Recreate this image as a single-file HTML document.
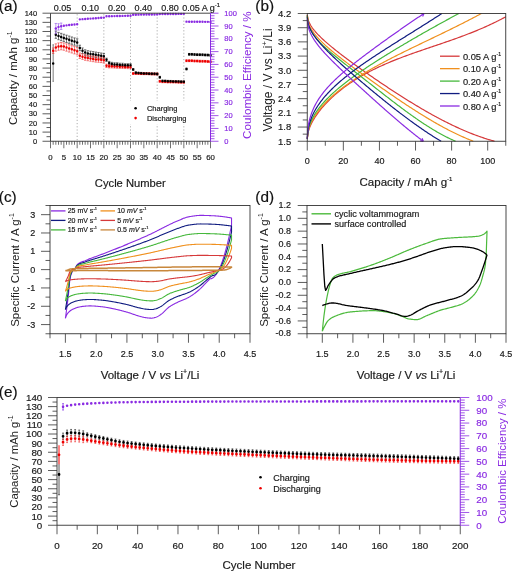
<!DOCTYPE html><html><head><meta charset="utf-8"><style>html,body{margin:0;padding:0;background:#fff;overflow:hidden;}svg{display:block;font-family:"Liberation Sans", sans-serif;will-change:transform;}</style></head><body><svg width="512" height="571" viewBox="0 0 512 571"><text x="-1.2" y="11.2" font-size="15.3" text-anchor="start" fill="#111" stroke="#111" stroke-width="0.18" >(a)</text><text x="255.3" y="11.2" font-size="15.3" text-anchor="start" fill="#111" stroke="#111" stroke-width="0.18" >(b)</text><text x="-1.2" y="202" font-size="15.3" text-anchor="start" fill="#111" stroke="#111" stroke-width="0.18" >(c)</text><text x="255.3" y="201.6" font-size="15.3" text-anchor="start" fill="#111" stroke="#111" stroke-width="0.18" >(d)</text><text x="-1.2" y="396.5" font-size="15.3" text-anchor="start" fill="#111" stroke="#111" stroke-width="0.18" >(e)</text><path d="M77.17 14.2V141.25M103.83 14.2V141.25M130.5 14.2V141.25M157.17 14.2V141.25M183.83 14.2V141.25" stroke="#999" stroke-width="0.8" stroke-dasharray="1.2,2"/><rect x="127" y="101" width="64" height="23" fill="#fff"/><path d="M135.6 108.3h0" stroke="#000" stroke-width="2.6" stroke-linecap="round"/><path d="M135.6 118.1h0" stroke="#e00" stroke-width="2.6" stroke-linecap="round"/><text x="146.9" y="111" font-size="7.5" text-anchor="start" fill="#1a1a1a" stroke="#1a1a1a" stroke-width="0.18" >Charging</text><text x="146.9" y="120.8" font-size="7.5" text-anchor="start" fill="#1a1a1a" stroke="#1a1a1a" stroke-width="0.18" >Discharging</text><path d="M53.17 44.76V81.34M52.57 44.76H53.77M52.57 81.34H53.77" stroke="#444" stroke-width="0.7" /><path d="M55.83 31.04V38.35M54.63 31.04H57.03M54.63 38.35H57.03M58.5 32.41V39.72M57.3 32.41H59.7M57.3 39.72H59.7M61.17 33.32V40.64M59.97 33.32H62.37M59.97 40.64H62.37M63.83 34.24V41.55M62.63 34.24H65.03M62.63 41.55H65.03M66.5 35.15V42.47M65.3 35.15H67.7M65.3 42.47H67.7M69.17 36.07V43.38M67.97 36.07H70.37M67.97 43.38H70.37M71.83 36.98V44.3M70.63 36.98H73.03M70.63 44.3H73.03M74.5 37.9V45.21M73.3 37.9H75.7M73.3 45.21H75.7M77.17 38.81V46.13M75.97 38.81H78.37M75.97 46.13H78.37M79.83 45.21V50.7M78.63 45.21H81.03M78.63 50.7H81.03M82.5 47.96V53.44M81.3 47.96H83.7M81.3 53.44H83.7M85.17 49.79V55.27M83.97 49.79H86.37M83.97 55.27H86.37M87.83 50.7V56.19M86.63 50.7H89.03M86.63 56.19H89.03M90.5 51.16V56.65M89.3 51.16H91.7M89.3 56.65H91.7M93.17 51.61V57.1M91.97 51.61H94.37M91.97 57.1H94.37M95.83 52.07V57.56M94.63 52.07H97.03M94.63 57.56H97.03M98.5 52.53V58.02M97.3 52.53H99.7M97.3 58.02H99.7M101.17 52.99V58.47M99.97 52.99H102.37M99.97 58.47H102.37M103.83 53.44V58.93M102.63 53.44H105.03M102.63 58.93H105.03M106.5 58.2V61.49M105.3 58.2H107.7M105.3 61.49H107.7M109.17 61.4V64.69M107.97 61.4H110.37M107.97 64.69H110.37M111.83 62.32V65.61M110.63 62.32H113.03M110.63 65.61H113.03M114.5 62.77V66.07M113.3 62.77H115.7M113.3 66.07H115.7M117.17 62.77V66.07M115.97 62.77H118.37M115.97 66.07H118.37M119.83 63.23V66.52M118.63 63.23H121.03M118.63 66.52H121.03M122.5 63.23V66.52M121.3 63.23H123.7M121.3 66.52H123.7M125.17 63.69V66.98M123.97 63.69H126.37M123.97 66.98H126.37M127.83 63.69V66.98M126.63 63.69H129.03M126.63 66.98H129.03M130.5 63.69V66.98M129.3 63.69H131.7M129.3 66.98H131.7M133.17 68.54V70.37M131.97 68.54H134.37M131.97 70.37H134.37M135.83 71.74V73.57M134.63 71.74H137.03M134.63 73.57H137.03M138.5 72.19V74.02M137.3 72.19H139.7M137.3 74.02H139.7M141.17 72.38V74.21M139.97 72.38H142.37M139.97 74.21H142.37M143.83 72.56V74.39M142.63 72.56H145.03M142.63 74.39H145.03M146.5 72.65V74.48M145.3 72.65H147.7M145.3 74.48H147.7M149.17 72.74V74.57M147.97 72.74H150.37M147.97 74.57H150.37M151.83 72.83V74.66M150.63 72.83H153.03M150.63 74.66H153.03M154.5 72.93V74.76M153.3 72.93H155.7M153.3 74.76H155.7M157.17 73.02V74.85M155.97 73.02H158.37M155.97 74.85H158.37M159.83 76.31V78.14M158.63 76.31H161.03M158.63 78.14H161.03M162.5 79.97V81.8M161.3 79.97H163.7M161.3 81.8H163.7M165.17 80.15V81.98M163.97 80.15H166.37M163.97 81.98H166.37M167.83 80.33V82.16M166.63 80.33H169.03M166.63 82.16H169.03M170.5 80.43V82.26M169.3 80.43H171.7M169.3 82.26H171.7M173.17 80.52V82.35M171.97 80.52H174.37M171.97 82.35H174.37M175.83 80.61V82.44M174.63 80.61H177.03M174.63 82.44H177.03M178.5 80.7V82.53M177.3 80.7H179.7M177.3 82.53H179.7M181.17 80.79V82.62M179.97 80.79H182.37M179.97 82.62H182.37M183.83 80.88V82.71M182.63 80.88H185.03M182.63 82.71H185.03M186.5 68.08V69.91M185.3 68.08H187.7M185.3 69.91H187.7M189.17 53.44V55.27M187.97 53.44H190.37M187.97 55.27H190.37M191.83 53.44V55.27M190.63 53.44H193.03M190.63 55.27H193.03M194.5 53.63V55.46M193.3 53.63H195.7M193.3 55.46H195.7M197.17 53.72V55.55M195.97 53.72H198.37M195.97 55.55H198.37M199.83 53.81V55.64M198.63 53.81H201.03M198.63 55.64H201.03M202.5 53.9V55.73M201.3 53.9H203.7M201.3 55.73H203.7M205.17 53.99V55.82M203.97 53.99H206.37M203.97 55.82H206.37M207.83 54.18V56.01M206.63 54.18H209.03M206.63 56.01H209.03M210.5 54.36V56.19M209.3 54.36H211.7M209.3 56.19H211.7" stroke="#222" stroke-width="0.6" /><path d="M53.17 47.96V53.44M51.97 47.96H54.37M51.97 53.44H54.37M55.83 43.84V51.16M54.63 43.84H57.03M54.63 51.16H57.03M58.5 42.93V50.24M57.3 42.93H59.7M57.3 50.24H59.7M61.17 42.47V49.79M59.97 42.47H62.37M59.97 49.79H62.37M63.83 42.93V50.24M62.63 42.93H65.03M62.63 50.24H65.03M66.5 43.84V51.16M65.3 43.84H67.7M65.3 51.16H67.7M69.17 44.76V52.07M67.97 44.76H70.37M67.97 52.07H70.37M71.83 45.67V52.99M70.63 45.67H73.03M70.63 52.99H73.03M74.5 46.58V53.9M73.3 46.58H75.7M73.3 53.9H75.7M77.17 47.5V54.82M75.97 47.5H78.37M75.97 54.82H78.37M79.83 52.99V58.47M78.63 52.99H81.03M78.63 58.47H81.03M82.5 53.9V59.39M81.3 53.9H83.7M81.3 59.39H83.7M85.17 54.82V60.3M83.97 54.82H86.37M83.97 60.3H86.37M87.83 55.27V60.76M86.63 55.27H89.03M86.63 60.76H89.03M90.5 55.73V61.22M89.3 55.73H91.7M89.3 61.22H91.7M93.17 56.19V61.68M91.97 56.19H94.37M91.97 61.68H94.37M95.83 56.65V62.13M94.63 56.65H97.03M94.63 62.13H97.03M98.5 56.83V62.32M97.3 56.83H99.7M97.3 62.32H99.7M101.17 57.1V62.59M99.97 57.1H102.37M99.97 62.59H102.37M103.83 57.56V63.05M102.63 57.56H105.03M102.63 63.05H105.03M106.5 64.15V67.44M105.3 64.15H107.7M105.3 67.44H107.7M109.17 64.6V67.9M107.97 64.6H110.37M107.97 67.9H110.37M111.83 64.6V67.9M110.63 64.6H113.03M110.63 67.9H113.03M114.5 64.79V68.08M113.3 64.79H115.7M113.3 68.08H115.7M117.17 64.97V68.26M115.97 64.97H118.37M115.97 68.26H118.37M119.83 65.06V68.35M118.63 65.06H121.03M118.63 68.35H121.03M122.5 65.15V68.44M121.3 65.15H123.7M121.3 68.44H123.7M125.17 65.24V68.54M123.97 65.24H126.37M123.97 68.54H126.37M127.83 65.33V68.63M126.63 65.33H129.03M126.63 68.63H129.03M130.5 65.52V68.81M129.3 65.52H131.7M129.3 68.81H131.7M133.17 72.65V74.48M131.97 72.65H134.37M131.97 74.48H134.37M135.83 72.65V74.48M134.63 72.65H137.03M134.63 74.48H137.03M138.5 72.65V74.48M137.3 72.65H139.7M137.3 74.48H139.7M141.17 72.74V74.57M139.97 72.74H142.37M139.97 74.57H142.37M143.83 72.83V74.66M142.63 72.83H145.03M142.63 74.66H145.03M146.5 72.83V74.66M145.3 72.83H147.7M145.3 74.66H147.7M149.17 72.93V74.76M147.97 72.93H150.37M147.97 74.76H150.37M151.83 73.02V74.85M150.63 73.02H153.03M150.63 74.85H153.03M154.5 73.11V74.94M153.3 73.11H155.7M153.3 74.94H155.7M157.17 73.11V74.94M155.97 73.11H158.37M155.97 74.94H158.37M159.83 80.43V82.26M158.63 80.43H161.03M158.63 82.26H161.03M162.5 80.88V82.71M161.3 80.88H163.7M161.3 82.71H163.7M165.17 80.88V82.71M163.97 80.88H166.37M163.97 82.71H166.37M167.83 80.98V82.8M166.63 80.98H169.03M166.63 82.8H169.03M170.5 81.07V82.9M169.3 81.07H171.7M169.3 82.9H171.7M173.17 81.07V82.9M171.97 81.07H174.37M171.97 82.9H174.37M175.83 81.16V82.99M174.63 81.16H177.03M174.63 82.99H177.03M178.5 81.25V83.08M177.3 81.25H179.7M177.3 83.08H179.7M181.17 81.34V83.17M179.97 81.34H182.37M179.97 83.17H182.37M183.83 81.34V83.17M182.63 81.34H185.03M182.63 83.17H185.03M186.5 59.85V61.68M185.3 59.85H187.7M185.3 61.68H187.7M189.17 59.85V61.68M187.97 59.85H190.37M187.97 61.68H190.37M191.83 59.85V61.68M190.63 59.85H193.03M190.63 61.68H193.03M194.5 60.03V61.86M193.3 60.03H195.7M193.3 61.86H195.7M197.17 60.12V61.95M195.97 60.12H198.37M195.97 61.95H198.37M199.83 60.21V62.04M198.63 60.21H201.03M198.63 62.04H201.03M202.5 60.3V62.13M201.3 60.3H203.7M201.3 62.13H203.7M205.17 60.4V62.22M203.97 60.4H206.37M203.97 62.22H206.37M207.83 60.58V62.41M206.63 60.58H209.03M206.63 62.41H209.03M210.5 60.76V62.59M209.3 60.76H211.7M209.3 62.59H211.7" stroke="#e33" stroke-width="0.6" /><path d="M53.17 50.7h0M55.83 47.5h0M58.5 46.58h0M61.17 46.13h0M63.83 46.58h0M66.5 47.5h0M69.17 48.41h0M71.83 49.33h0M74.5 50.24h0M77.17 51.16h0M79.83 55.73h0M82.5 56.65h0M85.17 57.56h0M87.83 58.02h0M90.5 58.47h0M93.17 58.93h0M95.83 59.39h0M98.5 59.57h0M101.17 59.85h0M103.83 60.3h0M106.5 65.79h0M109.17 66.25h0M111.83 66.25h0M114.5 66.43h0M117.17 66.62h0M119.83 66.71h0M122.5 66.8h0M125.17 66.89h0M127.83 66.98h0M130.5 67.16h0M133.17 73.57h0M135.83 73.57h0M138.5 73.57h0M141.17 73.66h0M143.83 73.75h0M146.5 73.75h0M149.17 73.84h0M151.83 73.93h0M154.5 74.02h0M157.17 74.02h0M159.83 81.34h0M162.5 81.8h0M165.17 81.8h0M167.83 81.89h0M170.5 81.98h0M173.17 81.98h0M175.83 82.07h0M178.5 82.16h0M181.17 82.26h0M183.83 82.26h0M186.5 60.76h0M189.17 60.76h0M191.83 60.76h0M194.5 60.94h0M197.17 61.04h0M199.83 61.13h0M202.5 61.22h0M205.17 61.31h0M207.83 61.49h0M210.5 61.68h0" stroke="#e00" stroke-width="2.5" stroke-linecap="round"/><path d="M53.17 63.51h0M55.83 34.69h0M58.5 36.07h0M61.17 36.98h0M63.83 37.9h0M66.5 38.81h0M69.17 39.72h0M71.83 40.64h0M74.5 41.55h0M77.17 42.47h0M79.83 47.96h0M82.5 50.7h0M85.17 52.53h0M87.83 53.44h0M90.5 53.9h0M93.17 54.36h0M95.83 54.82h0M98.5 55.27h0M101.17 55.73h0M103.83 56.19h0M106.5 59.85h0M109.17 63.05h0M111.83 63.96h0M114.5 64.42h0M117.17 64.42h0M119.83 64.88h0M122.5 64.88h0M125.17 65.33h0M127.83 65.33h0M130.5 65.33h0M133.17 69.45h0M135.83 72.65h0M138.5 73.11h0M141.17 73.29h0M143.83 73.47h0M146.5 73.57h0M149.17 73.66h0M151.83 73.75h0M154.5 73.84h0M157.17 73.93h0M159.83 77.22h0M162.5 80.88h0M165.17 81.07h0M167.83 81.25h0M170.5 81.34h0M173.17 81.43h0M175.83 81.52h0M178.5 81.62h0M181.17 81.71h0M183.83 81.8h0M186.5 68.99h0M189.17 54.36h0M191.83 54.36h0M194.5 54.54h0M197.17 54.63h0M199.83 54.72h0M202.5 54.82h0M205.17 54.91h0M207.83 55.09h0M210.5 55.27h0" stroke="#000" stroke-width="2.5" stroke-linecap="round"/><path d="M55.83 23.44V33.69M54.63 23.44H57.03M54.63 33.69H57.03" stroke="#9050e8" stroke-width="0.6" /><path d="M55.83 28.57h0" stroke="#8a2be2" stroke-width="2.4" stroke-linecap="round"/><path d="M58.5 23.7V30.1M57.3 23.7H59.7M57.3 30.1H59.7" stroke="#9050e8" stroke-width="0.6" /><path d="M58.5 26.9h0" stroke="#8a2be2" stroke-width="2.4" stroke-linecap="round"/><path d="M61.17 23.06V29.46M59.97 23.06H62.37M59.97 29.46H62.37" stroke="#9050e8" stroke-width="0.6" /><path d="M61.17 26.26h0M63.83 25.75h0M66.5 25.36h0M69.17 24.98h0M71.83 24.72h0M74.5 24.47h0M77.17 24.21h0M79.83 19.35h0M82.5 19.15h0M85.17 18.96h0M87.83 18.77h0M90.5 18.58h0M93.17 18.39h0M95.83 18.19h0M98.5 18h0M101.17 17.81h0M103.83 17.62h0M106.5 16.27h0M109.17 16.21h0M111.83 16.15h0M114.5 16.08h0M117.17 16.02h0M119.83 15.95h0M122.5 15.89h0M125.17 15.83h0M127.83 15.76h0M130.5 15.7h0M133.17 14.74h0M135.83 14.7h0M138.5 14.66h0M141.17 14.62h0M143.83 14.58h0M146.5 14.54h0M149.17 14.51h0M151.83 14.47h0M154.5 14.43h0M157.17 14.39h0M159.83 14.1h0M162.5 14.07h0M165.17 14.05h0M167.83 14.02h0M170.5 13.99h0M173.17 13.97h0M175.83 13.94h0M178.5 13.92h0M181.17 13.89h0M183.83 13.87h0M186.5 21.65h0M189.17 21.68h0M191.83 21.7h0M194.5 21.73h0M197.17 21.75h0M199.83 21.78h0M202.5 21.8h0M205.17 21.83h0M207.83 21.86h0M210.5 21.88h0" stroke="#8a2be2" stroke-width="2.4" stroke-linecap="round"/><path d="M50.5 13.2H210.5M50.5 13.2V141.25M50.5 141.25H210.5" stroke="#333" stroke-width="0.9" /><path d="M210.5 13.2V141.25" stroke="#8a2be2" stroke-width="1.0" /><path d="M42.5 141.25H50.5" stroke="#333" stroke-width="0.8" /><text x="37.2" y="143.85" font-size="7.5" text-anchor="end" fill="#1a1a1a" stroke="#1a1a1a" stroke-width="0.18" >0</text><path d="M46.5 136.68H50.5M42.5 132.1H50.5" stroke="#333" stroke-width="0.8" /><text x="37.2" y="134.7" font-size="7.5" text-anchor="end" fill="#1a1a1a" stroke="#1a1a1a" stroke-width="0.18" >10</text><path d="M46.5 127.53H50.5M42.5 122.96H50.5" stroke="#333" stroke-width="0.8" /><text x="37.2" y="125.56" font-size="7.5" text-anchor="end" fill="#1a1a1a" stroke="#1a1a1a" stroke-width="0.18" >20</text><path d="M46.5 118.38H50.5M42.5 113.81H50.5" stroke="#333" stroke-width="0.8" /><text x="37.2" y="116.41" font-size="7.5" text-anchor="end" fill="#1a1a1a" stroke="#1a1a1a" stroke-width="0.18" >30</text><path d="M46.5 109.24H50.5M42.5 104.66H50.5" stroke="#333" stroke-width="0.8" /><text x="37.2" y="107.26" font-size="7.5" text-anchor="end" fill="#1a1a1a" stroke="#1a1a1a" stroke-width="0.18" >40</text><path d="M46.5 100.09H50.5M42.5 95.52H50.5" stroke="#333" stroke-width="0.8" /><text x="37.2" y="98.12" font-size="7.5" text-anchor="end" fill="#1a1a1a" stroke="#1a1a1a" stroke-width="0.18" >50</text><path d="M46.5 90.94H50.5M42.5 86.37H50.5" stroke="#333" stroke-width="0.8" /><text x="37.2" y="88.97" font-size="7.5" text-anchor="end" fill="#1a1a1a" stroke="#1a1a1a" stroke-width="0.18" >60</text><path d="M46.5 81.8H50.5M42.5 77.22H50.5" stroke="#333" stroke-width="0.8" /><text x="37.2" y="79.82" font-size="7.5" text-anchor="end" fill="#1a1a1a" stroke="#1a1a1a" stroke-width="0.18" >70</text><path d="M46.5 72.65H50.5M42.5 68.08H50.5" stroke="#333" stroke-width="0.8" /><text x="37.2" y="70.68" font-size="7.5" text-anchor="end" fill="#1a1a1a" stroke="#1a1a1a" stroke-width="0.18" >80</text><path d="M46.5 63.51H50.5M42.5 58.93H50.5" stroke="#333" stroke-width="0.8" /><text x="37.2" y="61.53" font-size="7.5" text-anchor="end" fill="#1a1a1a" stroke="#1a1a1a" stroke-width="0.18" >90</text><path d="M46.5 54.36H50.5M42.5 49.79H50.5" stroke="#333" stroke-width="0.8" /><text x="37.2" y="52.39" font-size="7.5" text-anchor="end" fill="#1a1a1a" stroke="#1a1a1a" stroke-width="0.18" >100</text><path d="M46.5 45.21H50.5M42.5 40.64H50.5" stroke="#333" stroke-width="0.8" /><text x="37.2" y="43.24" font-size="7.5" text-anchor="end" fill="#1a1a1a" stroke="#1a1a1a" stroke-width="0.18" >110</text><path d="M46.5 36.07H50.5M42.5 31.49H50.5" stroke="#333" stroke-width="0.8" /><text x="37.2" y="34.09" font-size="7.5" text-anchor="end" fill="#1a1a1a" stroke="#1a1a1a" stroke-width="0.18" >120</text><path d="M46.5 26.92H50.5M42.5 22.35H50.5" stroke="#333" stroke-width="0.8" /><text x="37.2" y="24.95" font-size="7.5" text-anchor="end" fill="#1a1a1a" stroke="#1a1a1a" stroke-width="0.18" >130</text><path d="M46.5 17.77H50.5M42.5 13.2H50.5" stroke="#333" stroke-width="0.8" /><text x="37.2" y="15.8" font-size="7.5" text-anchor="end" fill="#1a1a1a" stroke="#1a1a1a" stroke-width="0.18" >140</text><path d="M50.5 141.25V148.25" stroke="#333" stroke-width="0.7" /><text x="50.5" y="160.4" font-size="7.8" text-anchor="middle" fill="#1a1a1a" stroke="#1a1a1a" stroke-width="0.18" >0</text><path d="M53.17 141.25V144.75M55.83 141.25V144.75M58.5 141.25V144.75M61.17 141.25V144.75M63.83 141.25V148.25" stroke="#333" stroke-width="0.7" /><text x="63.83" y="160.4" font-size="7.8" text-anchor="middle" fill="#1a1a1a" stroke="#1a1a1a" stroke-width="0.18" >5</text><path d="M66.5 141.25V144.75M69.17 141.25V144.75M71.83 141.25V144.75M74.5 141.25V144.75M77.17 141.25V148.25" stroke="#333" stroke-width="0.7" /><text x="77.17" y="160.4" font-size="7.8" text-anchor="middle" fill="#1a1a1a" stroke="#1a1a1a" stroke-width="0.18" >10</text><path d="M79.83 141.25V144.75M82.5 141.25V144.75M85.17 141.25V144.75M87.83 141.25V144.75M90.5 141.25V148.25" stroke="#333" stroke-width="0.7" /><text x="90.5" y="160.4" font-size="7.8" text-anchor="middle" fill="#1a1a1a" stroke="#1a1a1a" stroke-width="0.18" >15</text><path d="M93.17 141.25V144.75M95.83 141.25V144.75M98.5 141.25V144.75M101.17 141.25V144.75M103.83 141.25V148.25" stroke="#333" stroke-width="0.7" /><text x="103.83" y="160.4" font-size="7.8" text-anchor="middle" fill="#1a1a1a" stroke="#1a1a1a" stroke-width="0.18" >20</text><path d="M106.5 141.25V144.75M109.17 141.25V144.75M111.83 141.25V144.75M114.5 141.25V144.75M117.17 141.25V148.25" stroke="#333" stroke-width="0.7" /><text x="117.17" y="160.4" font-size="7.8" text-anchor="middle" fill="#1a1a1a" stroke="#1a1a1a" stroke-width="0.18" >25</text><path d="M119.83 141.25V144.75M122.5 141.25V144.75M125.17 141.25V144.75M127.83 141.25V144.75M130.5 141.25V148.25" stroke="#333" stroke-width="0.7" /><text x="130.5" y="160.4" font-size="7.8" text-anchor="middle" fill="#1a1a1a" stroke="#1a1a1a" stroke-width="0.18" >30</text><path d="M133.17 141.25V144.75M135.83 141.25V144.75M138.5 141.25V144.75M141.17 141.25V144.75M143.83 141.25V148.25" stroke="#333" stroke-width="0.7" /><text x="143.83" y="160.4" font-size="7.8" text-anchor="middle" fill="#1a1a1a" stroke="#1a1a1a" stroke-width="0.18" >35</text><path d="M146.5 141.25V144.75M149.17 141.25V144.75M151.83 141.25V144.75M154.5 141.25V144.75M157.17 141.25V148.25" stroke="#333" stroke-width="0.7" /><text x="157.17" y="160.4" font-size="7.8" text-anchor="middle" fill="#1a1a1a" stroke="#1a1a1a" stroke-width="0.18" >40</text><path d="M159.83 141.25V144.75M162.5 141.25V144.75M165.17 141.25V144.75M167.83 141.25V144.75M170.5 141.25V148.25" stroke="#333" stroke-width="0.7" /><text x="170.5" y="160.4" font-size="7.8" text-anchor="middle" fill="#1a1a1a" stroke="#1a1a1a" stroke-width="0.18" >45</text><path d="M173.17 141.25V144.75M175.83 141.25V144.75M178.5 141.25V144.75M181.17 141.25V144.75M183.83 141.25V148.25" stroke="#333" stroke-width="0.7" /><text x="183.83" y="160.4" font-size="7.8" text-anchor="middle" fill="#1a1a1a" stroke="#1a1a1a" stroke-width="0.18" >50</text><path d="M186.5 141.25V144.75M189.17 141.25V144.75M191.83 141.25V144.75M194.5 141.25V144.75M197.17 141.25V148.25" stroke="#333" stroke-width="0.7" /><text x="197.17" y="160.4" font-size="7.8" text-anchor="middle" fill="#1a1a1a" stroke="#1a1a1a" stroke-width="0.18" >55</text><path d="M199.83 141.25V144.75M202.5 141.25V144.75M205.17 141.25V144.75M207.83 141.25V144.75M210.5 141.25V148.25" stroke="#333" stroke-width="0.7" /><text x="210.5" y="160.4" font-size="7.8" text-anchor="middle" fill="#1a1a1a" stroke="#1a1a1a" stroke-width="0.18" >60</text><path d="M210.5 141.25H218.5" stroke="#8a2be2" stroke-width="0.8" /><text x="224.3" y="143.85" font-size="7.5" text-anchor="start" fill="#8a2be2" stroke="#8a2be2" stroke-width="0.18" >0</text><path d="M210.5 138.69H214.5M210.5 136.13H214.5M210.5 133.57H214.5M210.5 131.01H214.5M210.5 128.44H218.5" stroke="#8a2be2" stroke-width="0.8" /><text x="224.3" y="131.04" font-size="7.5" text-anchor="start" fill="#8a2be2" stroke="#8a2be2" stroke-width="0.18" >10</text><path d="M210.5 125.88H214.5M210.5 123.32H214.5M210.5 120.76H214.5M210.5 118.2H214.5M210.5 115.64H218.5" stroke="#8a2be2" stroke-width="0.8" /><text x="224.3" y="118.24" font-size="7.5" text-anchor="start" fill="#8a2be2" stroke="#8a2be2" stroke-width="0.18" >20</text><path d="M210.5 113.08H214.5M210.5 110.52H214.5M210.5 107.96H214.5M210.5 105.4H214.5M210.5 102.83H218.5" stroke="#8a2be2" stroke-width="0.8" /><text x="224.3" y="105.43" font-size="7.5" text-anchor="start" fill="#8a2be2" stroke="#8a2be2" stroke-width="0.18" >30</text><path d="M210.5 100.27H214.5M210.5 97.71H214.5M210.5 95.15H214.5M210.5 92.59H214.5M210.5 90.03H218.5" stroke="#8a2be2" stroke-width="0.8" /><text x="224.3" y="92.63" font-size="7.5" text-anchor="start" fill="#8a2be2" stroke="#8a2be2" stroke-width="0.18" >40</text><path d="M210.5 87.47H214.5M210.5 84.91H214.5M210.5 82.35H214.5M210.5 79.79H214.5M210.5 77.22H218.5" stroke="#8a2be2" stroke-width="0.8" /><text x="224.3" y="79.82" font-size="7.5" text-anchor="start" fill="#8a2be2" stroke="#8a2be2" stroke-width="0.18" >50</text><path d="M210.5 74.66H214.5M210.5 72.1H214.5M210.5 69.54H214.5M210.5 66.98H214.5M210.5 64.42H218.5" stroke="#8a2be2" stroke-width="0.8" /><text x="224.3" y="67.02" font-size="7.5" text-anchor="start" fill="#8a2be2" stroke="#8a2be2" stroke-width="0.18" >60</text><path d="M210.5 61.86H214.5M210.5 59.3H214.5M210.5 56.74H214.5M210.5 54.18H214.5M210.5 51.61H218.5" stroke="#8a2be2" stroke-width="0.8" /><text x="224.3" y="54.21" font-size="7.5" text-anchor="start" fill="#8a2be2" stroke="#8a2be2" stroke-width="0.18" >70</text><path d="M210.5 49.05H214.5M210.5 46.49H214.5M210.5 43.93H214.5M210.5 41.37H214.5M210.5 38.81H218.5" stroke="#8a2be2" stroke-width="0.8" /><text x="224.3" y="41.41" font-size="7.5" text-anchor="start" fill="#8a2be2" stroke="#8a2be2" stroke-width="0.18" >80</text><path d="M210.5 36.25H214.5M210.5 33.69H214.5M210.5 31.13H214.5M210.5 28.57H214.5M210.5 26H218.5" stroke="#8a2be2" stroke-width="0.8" /><text x="224.3" y="28.6" font-size="7.5" text-anchor="start" fill="#8a2be2" stroke="#8a2be2" stroke-width="0.18" >90</text><path d="M210.5 23.44H214.5M210.5 20.88H214.5M210.5 18.32H214.5M210.5 15.76H214.5M210.5 13.2H218.5" stroke="#8a2be2" stroke-width="0.8" /><text x="224.3" y="15.8" font-size="7.5" text-anchor="start" fill="#8a2be2" stroke="#8a2be2" stroke-width="0.18" >100</text><text x="62.6" y="11.3" font-size="9" text-anchor="middle" fill="#1a1a1a" stroke="#1a1a1a" stroke-width="0.18" >0.05</text><text x="90.2" y="11.3" font-size="9" text-anchor="middle" fill="#1a1a1a" stroke="#1a1a1a" stroke-width="0.18" >0.10</text><text x="116.8" y="11.3" font-size="9" text-anchor="middle" fill="#1a1a1a" stroke="#1a1a1a" stroke-width="0.18" >0.20</text><text x="143.3" y="11.3" font-size="9" text-anchor="middle" fill="#1a1a1a" stroke="#1a1a1a" stroke-width="0.18" >0.40</text><text x="169.9" y="11.3" font-size="9" text-anchor="middle" fill="#1a1a1a" stroke="#1a1a1a" stroke-width="0.18" >0.80</text><text x="182.3" y="11.3" font-size="9" text-anchor="start" fill="#1a1a1a" stroke="#1a1a1a" stroke-width="0.18" >0.05 A g<tspan font-size="6" dy="-4">-1</tspan></text><text x="130.3" y="187" font-size="11.2" text-anchor="middle" fill="#1a1a1a" stroke="#1a1a1a" stroke-width="0.18" >Cycle Number</text><text transform="translate(17.3,78.2) rotate(-90)" font-size="11.5" text-anchor="middle" fill="#222">Capacity / mAh g<tspan font-size="7" dy="-5">-1</tspan></text><text transform="translate(250.5,75.2) rotate(-90)" font-size="11.6" text-anchor="middle" fill="#8a2be2">Coulombic Efficiency / %</text><path d="M307.25,14.91 L308.42,20.81 L309.59,23.41 L310.76,25.46 L311.93,27.24 L313.1,28.85 L314.27,30.33 L315.44,31.73 L316.62,33.04 L317.79,34.31 L318.96,35.52 L320.13,36.69 L321.3,37.83 L322.47,38.94 L323.64,40.03 L324.81,41.09 L325.98,42.13 L327.15,43.15 L328.32,44.16 L329.49,45.15 L330.66,46.14 L331.83,47.1 L333.01,48.06 L334.18,49.01 L335.35,49.95 L336.52,50.88 L337.69,51.8 L338.86,52.71 L340.03,53.62 L341.2,54.52 L342.37,55.42 L343.54,56.31 L344.71,57.19 L345.88,58.07 L347.05,58.95 L348.22,59.82 L349.4,60.69 L350.57,61.55 L351.74,62.41 L352.91,63.26 L354.08,64.12 L355.25,64.96 L356.42,65.81 L357.59,66.65 L358.76,67.49 L359.93,68.33 L361.1,69.16 L362.27,69.99 L363.44,70.82 L364.61,71.65 L365.78,72.47 L366.96,73.29 L368.13,74.11 L369.3,74.93 L370.47,75.74 L371.64,76.55 L372.81,77.36 L373.98,78.16 L375.15,78.97 L376.32,79.77 L377.49,80.57 L378.66,81.36 L379.83,82.16 L381,82.95 L382.17,83.74 L383.35,84.53 L384.52,85.31 L385.69,86.09 L386.86,86.87 L388.03,87.65 L389.2,88.42 L390.37,89.19 L391.54,89.96 L392.71,90.73 L393.88,91.49 L395.05,92.25 L396.22,93.01 L397.39,93.77 L398.56,94.52 L399.74,95.27 L400.91,96.02 L402.08,96.76 L403.25,97.5 L404.42,98.24 L405.59,98.97 L406.76,99.7 L407.93,100.43 L409.1,101.16 L410.27,101.88 L411.44,102.6 L412.61,103.31 L413.78,104.02 L414.95,104.73 L416.12,105.44 L417.3,106.14 L418.47,106.84 L419.64,107.53 L420.81,108.22 L421.98,108.91 L423.15,109.59 L424.32,110.27 L425.49,110.94 L426.66,111.61 L427.83,112.27 L429,112.94 L430.17,113.59 L431.34,114.25 L432.51,114.9 L433.69,115.54 L434.86,116.18 L436.03,116.81 L437.2,117.44 L438.37,118.07 L439.54,118.69 L440.71,119.31 L441.88,119.92 L443.05,120.53 L444.22,121.13 L445.39,121.72 L446.56,122.31 L447.73,122.9 L448.9,123.48 L450.08,124.05 L451.25,124.62 L452.42,125.19 L453.59,125.75 L454.76,126.3 L455.93,126.85 L457.1,127.39 L458.27,127.92 L459.44,128.45 L460.61,128.98 L461.78,129.49 L462.95,130 L464.12,130.51 L465.29,131.01 L466.47,131.5 L467.64,131.99 L468.81,132.47 L469.98,132.94 L471.15,133.41 L472.32,133.87 L473.49,134.32 L474.66,134.77 L475.83,135.2 L477,135.64 L478.17,136.06 L479.34,136.48 L480.51,136.89 L481.68,137.29 L482.85,137.69 L484.03,138.08 L485.2,138.46 L486.37,138.83 L487.54,139.2 L488.71,139.56 L489.88,139.91 L491.05,140.25 L492.22,140.58 L493.39,140.91 L494.56,141.23" stroke="#d6393a" stroke-width="1.2" fill="none" stroke-linejoin="round" /><path d="M307.25,138.88 L308.49,130.94 L309.73,127.37 L310.97,124.52 L312.21,122.05 L313.45,119.83 L314.69,117.78 L315.93,115.88 L317.18,114.09 L318.42,112.39 L319.66,110.76 L320.9,109.21 L322.14,107.72 L323.38,106.28 L324.62,104.89 L325.86,103.55 L327.1,102.24 L328.34,100.98 L329.58,99.75 L330.82,98.55 L332.06,97.38 L333.3,96.25 L334.54,95.14 L335.78,94.06 L337.02,93 L338.27,91.97 L339.51,90.95 L340.75,89.97 L341.99,89 L343.23,88.05 L344.47,87.12 L345.71,86.21 L346.95,85.32 L348.19,84.44 L349.43,83.58 L350.67,82.74 L351.91,81.91 L353.15,81.1 L354.39,80.3 L355.63,79.52 L356.88,78.75 L358.12,77.99 L359.36,77.25 L360.6,76.51 L361.84,75.8 L363.08,75.09 L364.32,74.39 L365.56,73.71 L366.8,73.03 L368.04,72.37 L369.28,71.72 L370.52,71.07 L371.76,70.44 L373,69.82 L374.24,69.2 L375.48,68.6 L376.73,68 L377.97,67.41 L379.21,66.83 L380.45,66.25 L381.69,65.69 L382.93,65.13 L384.17,64.58 L385.41,64.03 L386.65,63.5 L387.89,62.97 L389.13,62.44 L390.37,61.92 L391.61,61.41 L392.85,60.9 L394.09,60.4 L395.33,59.91 L396.57,59.41 L397.82,58.93 L399.06,58.45 L400.3,57.97 L401.54,57.5 L402.78,57.03 L404.02,56.56 L405.26,56.1 L406.5,55.65 L407.74,55.19 L408.98,54.74 L410.22,54.3 L411.46,53.85 L412.7,53.41 L413.94,52.97 L415.18,52.53 L416.43,52.1 L417.67,51.67 L418.91,51.24 L420.15,50.81 L421.39,50.38 L422.63,49.96 L423.87,49.53 L425.11,49.11 L426.35,48.69 L427.59,48.27 L428.83,47.85 L430.07,47.43 L431.31,47.01 L432.55,46.59 L433.79,46.17 L435.03,45.75 L436.27,45.33 L437.52,44.91 L438.76,44.49 L440,44.06 L441.24,43.64 L442.48,43.22 L443.72,42.79 L444.96,42.37 L446.2,41.94 L447.44,41.51 L448.68,41.08 L449.92,40.64 L451.16,40.21 L452.4,39.77 L453.64,39.33 L454.88,38.89 L456.12,38.44 L457.37,38 L458.61,37.55 L459.85,37.09 L461.09,36.63 L462.33,36.17 L463.57,35.71 L464.81,35.24 L466.05,34.77 L467.29,34.29 L468.53,33.81 L469.77,33.33 L471.01,32.84 L472.25,32.35 L473.49,31.85 L474.73,31.35 L475.98,30.84 L477.22,30.33 L478.46,29.81 L479.7,29.29 L480.94,28.76 L482.18,28.22 L483.42,27.68 L484.66,27.14 L485.9,26.59 L487.14,26.03 L488.38,25.46 L489.62,24.89 L490.86,24.31 L492.1,23.73 L493.34,23.14 L494.58,22.54 L495.82,21.93 L497.07,21.32 L498.31,20.7 L499.55,20.07 L500.79,19.44 L502.03,18.79 L503.27,18.14 L504.51,17.48 L505.75,16.81" stroke="#d6393a" stroke-width="1.2" fill="none" stroke-linejoin="round" /><path d="M307.25,15.39 L308.29,22.3 L309.33,25.17 L310.36,27.39 L311.4,29.26 L312.44,30.93 L313.48,32.44 L314.51,33.84 L315.55,35.16 L316.59,36.4 L317.63,37.59 L318.66,38.73 L319.7,39.83 L320.74,40.9 L321.78,41.93 L322.81,42.94 L323.85,43.92 L324.89,44.88 L325.93,45.83 L326.96,46.76 L328,47.67 L329.04,48.57 L330.08,49.45 L331.12,50.33 L332.15,51.19 L333.19,52.05 L334.23,52.9 L335.27,53.74 L336.3,54.57 L337.34,55.4 L338.38,56.22 L339.42,57.03 L340.45,57.84 L341.49,58.64 L342.53,59.45 L343.57,60.24 L344.6,61.03 L345.64,61.82 L346.68,62.61 L347.72,63.39 L348.75,64.17 L349.79,64.95 L350.83,65.72 L351.87,66.49 L352.9,67.26 L353.94,68.03 L354.98,68.79 L356.02,69.56 L357.06,70.32 L358.09,71.08 L359.13,71.84 L360.17,72.59 L361.21,73.35 L362.24,74.1 L363.28,74.85 L364.32,75.6 L365.36,76.35 L366.39,77.1 L367.43,77.85 L368.47,78.59 L369.51,79.33 L370.54,80.08 L371.58,80.82 L372.62,81.56 L373.66,82.3 L374.69,83.03 L375.73,83.77 L376.77,84.5 L377.81,85.24 L378.85,85.97 L379.88,86.7 L380.92,87.43 L381.96,88.16 L383,88.89 L384.03,89.61 L385.07,90.33 L386.11,91.06 L387.15,91.78 L388.18,92.5 L389.22,93.22 L390.26,93.93 L391.3,94.65 L392.33,95.36 L393.37,96.07 L394.41,96.78 L395.45,97.49 L396.48,98.19 L397.52,98.9 L398.56,99.6 L399.6,100.3 L400.64,101 L401.67,101.69 L402.71,102.39 L403.75,103.08 L404.79,103.77 L405.82,104.45 L406.86,105.14 L407.9,105.82 L408.94,106.5 L409.97,107.18 L411.01,107.85 L412.05,108.52 L413.09,109.19 L414.12,109.86 L415.16,110.52 L416.2,111.18 L417.24,111.84 L418.27,112.5 L419.31,113.15 L420.35,113.8 L421.39,114.44 L422.43,115.09 L423.46,115.72 L424.5,116.36 L425.54,116.99 L426.58,117.62 L427.61,118.25 L428.65,118.87 L429.69,119.49 L430.73,120.1 L431.76,120.71 L432.8,121.32 L433.84,121.92 L434.88,122.52 L435.91,123.11 L436.95,123.7 L437.99,124.29 L439.03,124.87 L440.06,125.45 L441.1,126.02 L442.14,126.59 L443.18,127.16 L444.22,127.72 L445.25,128.27 L446.29,128.82 L447.33,129.36 L448.37,129.91 L449.4,130.44 L450.44,130.97 L451.48,131.5 L452.52,132.02 L453.55,132.53 L454.59,133.04 L455.63,133.54 L456.67,134.04 L457.7,134.53 L458.74,135.02 L459.78,135.5 L460.82,135.98 L461.85,136.45 L462.89,136.91 L463.93,137.37 L464.97,137.82 L466,138.27 L467.04,138.71 L468.08,139.14 L469.12,139.56 L470.16,139.98 L471.19,140.4 L472.23,140.81 L473.27,141.21" stroke="#f0901e" stroke-width="1.2" fill="none" stroke-linejoin="round" /><path d="M307.25,138.88 L308.34,130.45 L309.43,126.88 L310.52,124.1 L311.6,121.74 L312.69,119.64 L313.78,117.74 L314.87,115.97 L315.96,114.33 L317.05,112.77 L318.13,111.3 L319.22,109.89 L320.31,108.54 L321.4,107.24 L322.49,105.99 L323.58,104.78 L324.66,103.61 L325.75,102.47 L326.84,101.36 L327.93,100.28 L329.02,99.23 L330.11,98.2 L331.19,97.2 L332.28,96.21 L333.37,95.25 L334.46,94.31 L335.55,93.38 L336.64,92.47 L337.72,91.58 L338.81,90.7 L339.9,89.83 L340.99,88.98 L342.08,88.15 L343.17,87.32 L344.25,86.51 L345.34,85.71 L346.43,84.92 L347.52,84.14 L348.61,83.37 L349.7,82.61 L350.78,81.85 L351.87,81.11 L352.96,80.38 L354.05,79.65 L355.14,78.94 L356.23,78.23 L357.31,77.53 L358.4,76.83 L359.49,76.14 L360.58,75.46 L361.67,74.79 L362.76,74.12 L363.85,73.46 L364.93,72.8 L366.02,72.15 L367.11,71.5 L368.2,70.86 L369.29,70.23 L370.38,69.6 L371.46,68.97 L372.55,68.35 L373.64,67.73 L374.73,67.12 L375.82,66.51 L376.91,65.91 L377.99,65.31 L379.08,64.71 L380.17,64.12 L381.26,63.53 L382.35,62.95 L383.44,62.37 L384.52,61.79 L385.61,61.21 L386.7,60.64 L387.79,60.07 L388.88,59.5 L389.97,58.94 L391.05,58.38 L392.14,57.82 L393.23,57.26 L394.32,56.71 L395.41,56.15 L396.5,55.6 L397.58,55.05 L398.67,54.51 L399.76,53.96 L400.85,53.42 L401.94,52.88 L403.03,52.34 L404.11,51.8 L405.2,51.27 L406.29,50.73 L407.38,50.2 L408.47,49.67 L409.56,49.13 L410.64,48.6 L411.73,48.07 L412.82,47.55 L413.91,47.02 L415,46.49 L416.09,45.97 L417.18,45.44 L418.26,44.92 L419.35,44.39 L420.44,43.87 L421.53,43.35 L422.62,42.82 L423.71,42.3 L424.79,41.78 L425.88,41.26 L426.97,40.73 L428.06,40.21 L429.15,39.69 L430.24,39.17 L431.32,38.64 L432.41,38.12 L433.5,37.6 L434.59,37.07 L435.68,36.55 L436.77,36.03 L437.85,35.5 L438.94,34.98 L440.03,34.45 L441.12,33.92 L442.21,33.4 L443.3,32.87 L444.38,32.34 L445.47,31.81 L446.56,31.28 L447.65,30.75 L448.74,30.22 L449.83,29.68 L450.91,29.15 L452,28.61 L453.09,28.07 L454.18,27.54 L455.27,27 L456.36,26.45 L457.44,25.91 L458.53,25.37 L459.62,24.82 L460.71,24.27 L461.8,23.72 L462.89,23.17 L463.97,22.62 L465.06,22.07 L466.15,21.51 L467.24,20.95 L468.33,20.39 L469.42,19.83 L470.5,19.27 L471.59,18.7 L472.68,18.13 L473.77,17.56 L474.86,16.99 L475.95,16.41 L477.04,15.83 L478.12,15.26 L479.21,14.67 L480.3,14.09 L481.39,13.5" stroke="#f0901e" stroke-width="1.2" fill="none" stroke-linejoin="round" /><path d="M307.25,15.86 L308.18,23.48 L309.1,26.5 L310.03,28.78 L310.96,30.67 L311.89,32.33 L312.81,33.82 L313.74,35.19 L314.67,36.46 L315.59,37.65 L316.52,38.78 L317.45,39.86 L318.38,40.89 L319.3,41.89 L320.23,42.85 L321.16,43.79 L322.08,44.7 L323.01,45.59 L323.94,46.46 L324.86,47.31 L325.79,48.15 L326.72,48.98 L327.65,49.8 L328.57,50.6 L329.5,51.4 L330.43,52.19 L331.35,52.97 L332.28,53.74 L333.21,54.51 L334.14,55.27 L335.06,56.03 L335.99,56.78 L336.92,57.53 L337.84,58.28 L338.77,59.02 L339.7,59.77 L340.63,60.5 L341.55,61.24 L342.48,61.98 L343.41,62.71 L344.33,63.44 L345.26,64.17 L346.19,64.9 L347.11,65.63 L348.04,66.36 L348.97,67.09 L349.9,67.82 L350.82,68.55 L351.75,69.27 L352.68,70 L353.6,70.73 L354.53,71.46 L355.46,72.18 L356.39,72.91 L357.31,73.64 L358.24,74.36 L359.17,75.09 L360.09,75.82 L361.02,76.55 L361.95,77.27 L362.88,78 L363.8,78.73 L364.73,79.46 L365.66,80.19 L366.58,80.91 L367.51,81.64 L368.44,82.37 L369.36,83.1 L370.29,83.83 L371.22,84.56 L372.15,85.28 L373.07,86.01 L374,86.74 L374.93,87.47 L375.85,88.19 L376.78,88.92 L377.71,89.65 L378.64,90.37 L379.56,91.1 L380.49,91.82 L381.42,92.55 L382.34,93.27 L383.27,93.99 L384.2,94.72 L385.13,95.44 L386.05,96.16 L386.98,96.88 L387.91,97.59 L388.83,98.31 L389.76,99.03 L390.69,99.74 L391.61,100.45 L392.54,101.17 L393.47,101.88 L394.4,102.58 L395.32,103.29 L396.25,104 L397.18,104.7 L398.1,105.4 L399.03,106.1 L399.96,106.8 L400.89,107.49 L401.81,108.18 L402.74,108.87 L403.67,109.56 L404.59,110.24 L405.52,110.93 L406.45,111.61 L407.38,112.28 L408.3,112.96 L409.23,113.63 L410.16,114.3 L411.08,114.96 L412.01,115.62 L412.94,116.28 L413.86,116.94 L414.79,117.59 L415.72,118.23 L416.65,118.88 L417.57,119.52 L418.5,120.15 L419.43,120.79 L420.35,121.41 L421.28,122.04 L422.21,122.66 L423.14,123.27 L424.06,123.88 L424.99,124.49 L425.92,125.09 L426.84,125.69 L427.77,126.28 L428.7,126.86 L429.63,127.45 L430.55,128.02 L431.48,128.59 L432.41,129.16 L433.33,129.72 L434.26,130.27 L435.19,130.82 L436.11,131.36 L437.04,131.9 L437.97,132.43 L438.9,132.96 L439.82,133.48 L440.75,133.99 L441.68,134.49 L442.6,134.99 L443.53,135.49 L444.46,135.97 L445.39,136.45 L446.31,136.92 L447.24,137.39 L448.17,137.85 L449.09,138.3 L450.02,138.74 L450.95,139.18 L451.88,139.61 L452.8,140.03 L453.73,140.44 L454.66,140.85 L455.58,141.24" stroke="#46b83c" stroke-width="1.2" fill="none" stroke-linejoin="round" /><path d="M307.25,138.88 L308.2,130.08 L309.14,126.46 L310.09,123.68 L311.04,121.35 L311.99,119.29 L312.93,117.43 L313.88,115.73 L314.83,114.14 L315.78,112.64 L316.72,111.23 L317.67,109.88 L318.62,108.6 L319.57,107.36 L320.51,106.17 L321.46,105.02 L322.41,103.9 L323.36,102.82 L324.3,101.77 L325.25,100.74 L326.2,99.74 L327.15,98.76 L328.09,97.8 L329.04,96.87 L329.99,95.95 L330.93,95.04 L331.88,94.16 L332.83,93.28 L333.78,92.42 L334.72,91.58 L335.67,90.74 L336.62,89.92 L337.57,89.11 L338.51,88.31 L339.46,87.52 L340.41,86.74 L341.36,85.97 L342.3,85.2 L343.25,84.45 L344.2,83.7 L345.15,82.96 L346.09,82.22 L347.04,81.5 L347.99,80.77 L348.94,80.06 L349.88,79.35 L350.83,78.65 L351.78,77.95 L352.72,77.26 L353.67,76.57 L354.62,75.89 L355.57,75.21 L356.51,74.53 L357.46,73.86 L358.41,73.2 L359.36,72.54 L360.3,71.88 L361.25,71.23 L362.2,70.58 L363.15,69.93 L364.09,69.29 L365.04,68.65 L365.99,68.01 L366.94,67.37 L367.88,66.74 L368.83,66.12 L369.78,65.49 L370.72,64.87 L371.67,64.25 L372.62,63.63 L373.57,63.02 L374.51,62.4 L375.46,61.79 L376.41,61.19 L377.36,60.58 L378.3,59.98 L379.25,59.38 L380.2,58.78 L381.15,58.18 L382.09,57.58 L383.04,56.99 L383.99,56.4 L384.94,55.81 L385.88,55.22 L386.83,54.63 L387.78,54.05 L388.73,53.47 L389.67,52.89 L390.62,52.31 L391.57,51.73 L392.51,51.15 L393.46,50.58 L394.41,50 L395.36,49.43 L396.3,48.86 L397.25,48.29 L398.2,47.72 L399.15,47.15 L400.09,46.59 L401.04,46.02 L401.99,45.46 L402.94,44.9 L403.88,44.34 L404.83,43.78 L405.78,43.22 L406.73,42.66 L407.67,42.11 L408.62,41.55 L409.57,41 L410.52,40.44 L411.46,39.89 L412.41,39.34 L413.36,38.79 L414.3,38.24 L415.25,37.7 L416.2,37.15 L417.15,36.61 L418.09,36.06 L419.04,35.52 L419.99,34.97 L420.94,34.43 L421.88,33.89 L422.83,33.35 L423.78,32.81 L424.73,32.28 L425.67,31.74 L426.62,31.2 L427.57,30.67 L428.52,30.13 L429.46,29.6 L430.41,29.07 L431.36,28.54 L432.31,28.01 L433.25,27.48 L434.2,26.95 L435.15,26.42 L436.09,25.89 L437.04,25.37 L437.99,24.84 L438.94,24.32 L439.88,23.79 L440.83,23.27 L441.78,22.75 L442.73,22.23 L443.67,21.71 L444.62,21.19 L445.57,20.67 L446.52,20.15 L447.46,19.64 L448.41,19.12 L449.36,18.61 L450.31,18.09 L451.25,17.58 L452.2,17.07 L453.15,16.55 L454.09,16.04 L455.04,15.53 L455.99,15.02 L456.94,14.52 L457.88,14.01 L458.83,13.5" stroke="#46b83c" stroke-width="1.2" fill="none" stroke-linejoin="round" /><path d="M307.25,17.25 L308.09,23.33 L308.92,25.94 L309.76,27.98 L310.6,29.73 L311.43,31.29 L312.27,32.73 L313.11,34.06 L313.94,35.32 L314.78,36.52 L315.62,37.67 L316.46,38.78 L317.29,39.84 L318.13,40.88 L318.97,41.89 L319.8,42.87 L320.64,43.84 L321.48,44.78 L322.31,45.71 L323.15,46.62 L323.99,47.51 L324.82,48.4 L325.66,49.27 L326.5,50.13 L327.33,50.98 L328.17,51.82 L329.01,52.65 L329.85,53.48 L330.68,54.29 L331.52,55.1 L332.36,55.91 L333.19,56.71 L334.03,57.5 L334.87,58.29 L335.7,59.07 L336.54,59.85 L337.38,60.63 L338.21,61.4 L339.05,62.16 L339.89,62.93 L340.72,63.69 L341.56,64.44 L342.4,65.2 L343.23,65.95 L344.07,66.7 L344.91,67.44 L345.75,68.19 L346.58,68.93 L347.42,69.67 L348.26,70.4 L349.09,71.14 L349.93,71.87 L350.77,72.6 L351.6,73.33 L352.44,74.05 L353.28,74.78 L354.11,75.5 L354.95,76.22 L355.79,76.95 L356.62,77.66 L357.46,78.38 L358.3,79.1 L359.14,79.81 L359.97,80.52 L360.81,81.23 L361.65,81.94 L362.48,82.65 L363.32,83.36 L364.16,84.07 L364.99,84.77 L365.83,85.47 L366.67,86.18 L367.5,86.88 L368.34,87.58 L369.18,88.27 L370.01,88.97 L370.85,89.67 L371.69,90.36 L372.52,91.05 L373.36,91.75 L374.2,92.44 L375.04,93.13 L375.87,93.81 L376.71,94.5 L377.55,95.18 L378.38,95.87 L379.22,96.55 L380.06,97.23 L380.89,97.91 L381.73,98.59 L382.57,99.27 L383.4,99.94 L384.24,100.61 L385.08,101.29 L385.91,101.96 L386.75,102.63 L387.59,103.29 L388.43,103.96 L389.26,104.62 L390.1,105.28 L390.94,105.95 L391.77,106.6 L392.61,107.26 L393.45,107.92 L394.28,108.57 L395.12,109.22 L395.96,109.87 L396.79,110.52 L397.63,111.17 L398.47,111.81 L399.3,112.45 L400.14,113.1 L400.98,113.73 L401.81,114.37 L402.65,115 L403.49,115.64 L404.33,116.27 L405.16,116.89 L406,117.52 L406.84,118.14 L407.67,118.76 L408.51,119.38 L409.35,120 L410.18,120.61 L411.02,121.22 L411.86,121.83 L412.69,122.44 L413.53,123.04 L414.37,123.65 L415.2,124.25 L416.04,124.84 L416.88,125.43 L417.72,126.03 L418.55,126.61 L419.39,127.2 L420.23,127.78 L421.06,128.36 L421.9,128.94 L422.74,129.51 L423.57,130.08 L424.41,130.65 L425.25,131.22 L426.08,131.78 L426.92,132.34 L427.76,132.89 L428.59,133.44 L429.43,133.99 L430.27,134.54 L431.1,135.08 L431.94,135.62 L432.78,136.15 L433.62,136.69 L434.45,137.21 L435.29,137.74 L436.13,138.26 L436.96,138.78 L437.8,139.29 L438.64,139.8 L439.47,140.31 L440.31,140.81 L441.15,141.31" stroke="#101c80" stroke-width="1.2" fill="none" stroke-linejoin="round" /><path d="M307.25,138.88 L308.09,129.32 L308.93,125.42 L309.77,122.45 L310.62,119.96 L311.46,117.77 L312.3,115.81 L313.14,114.01 L313.98,112.33 L314.82,110.77 L315.66,109.29 L316.51,107.89 L317.35,106.55 L318.19,105.27 L319.03,104.04 L319.87,102.86 L320.71,101.71 L321.55,100.61 L322.39,99.53 L323.24,98.49 L324.08,97.47 L324.92,96.48 L325.76,95.51 L326.6,94.57 L327.44,93.64 L328.28,92.74 L329.13,91.85 L329.97,90.98 L330.81,90.12 L331.65,89.28 L332.49,88.46 L333.33,87.64 L334.17,86.84 L335.02,86.06 L335.86,85.28 L336.7,84.51 L337.54,83.76 L338.38,83.01 L339.22,82.27 L340.06,81.54 L340.9,80.82 L341.75,80.11 L342.59,79.41 L343.43,78.71 L344.27,78.02 L345.11,77.34 L345.95,76.66 L346.79,75.99 L347.64,75.33 L348.48,74.67 L349.32,74.02 L350.16,73.37 L351,72.73 L351.84,72.09 L352.68,71.46 L353.53,70.83 L354.37,70.2 L355.21,69.58 L356.05,68.97 L356.89,68.36 L357.73,67.75 L358.57,67.14 L359.41,66.54 L360.26,65.95 L361.1,65.35 L361.94,64.76 L362.78,64.17 L363.62,63.59 L364.46,63 L365.3,62.42 L366.15,61.85 L366.99,61.27 L367.83,60.7 L368.67,60.13 L369.51,59.56 L370.35,59 L371.19,58.43 L372.04,57.87 L372.88,57.31 L373.72,56.76 L374.56,56.2 L375.4,55.65 L376.24,55.09 L377.08,54.54 L377.93,53.99 L378.77,53.44 L379.61,52.9 L380.45,52.35 L381.29,51.81 L382.13,51.27 L382.97,50.72 L383.81,50.18 L384.66,49.65 L385.5,49.11 L386.34,48.57 L387.18,48.03 L388.02,47.5 L388.86,46.96 L389.7,46.43 L390.55,45.9 L391.39,45.36 L392.23,44.83 L393.07,44.3 L393.91,43.77 L394.75,43.24 L395.59,42.71 L396.44,42.18 L397.28,41.65 L398.12,41.12 L398.96,40.6 L399.8,40.07 L400.64,39.54 L401.48,39.01 L402.32,38.49 L403.17,37.96 L404.01,37.43 L404.85,36.91 L405.69,36.38 L406.53,35.85 L407.37,35.33 L408.21,34.8 L409.06,34.28 L409.9,33.75 L410.74,33.22 L411.58,32.7 L412.42,32.17 L413.26,31.65 L414.1,31.12 L414.95,30.59 L415.79,30.06 L416.63,29.54 L417.47,29.01 L418.31,28.48 L419.15,27.95 L419.99,27.43 L420.83,26.9 L421.68,26.37 L422.52,25.84 L423.36,25.31 L424.2,24.78 L425.04,24.25 L425.88,23.72 L426.72,23.18 L427.57,22.65 L428.41,22.12 L429.25,21.58 L430.09,21.05 L430.93,20.52 L431.77,19.98 L432.61,19.45 L433.46,18.91 L434.3,18.37 L435.14,17.83 L435.98,17.3 L436.82,16.76 L437.66,16.22 L438.5,15.68 L439.34,15.13 L440.19,14.59 L441.03,14.05 L441.87,13.5" stroke="#101c80" stroke-width="1.2" fill="none" stroke-linejoin="round" /><path d="M307.25,19.13 L307.98,25.74 L308.7,28.49 L309.43,30.61 L310.15,32.4 L310.88,33.99 L311.6,35.43 L312.33,36.76 L313.05,38.02 L313.78,39.2 L314.5,40.32 L315.23,41.4 L315.95,42.44 L316.68,43.44 L317.4,44.41 L318.13,45.36 L318.85,46.28 L319.58,47.18 L320.3,48.06 L321.03,48.92 L321.75,49.77 L322.48,50.61 L323.2,51.43 L323.93,52.24 L324.65,53.04 L325.38,53.83 L326.11,54.61 L326.83,55.38 L327.56,56.15 L328.28,56.9 L329.01,57.65 L329.73,58.4 L330.46,59.14 L331.18,59.87 L331.91,60.6 L332.63,61.33 L333.36,62.05 L334.08,62.77 L334.81,63.48 L335.53,64.19 L336.26,64.9 L336.98,65.6 L337.71,66.3 L338.43,67 L339.16,67.7 L339.88,68.39 L340.61,69.08 L341.33,69.77 L342.06,70.46 L342.78,71.14 L343.51,71.83 L344.24,72.51 L344.96,73.19 L345.69,73.87 L346.41,74.55 L347.14,75.23 L347.86,75.9 L348.59,76.58 L349.31,77.25 L350.04,77.92 L350.76,78.6 L351.49,79.27 L352.21,79.94 L352.94,80.61 L353.66,81.28 L354.39,81.94 L355.11,82.61 L355.84,83.28 L356.56,83.94 L357.29,84.61 L358.01,85.27 L358.74,85.94 L359.46,86.6 L360.19,87.26 L360.91,87.93 L361.64,88.59 L362.37,89.25 L363.09,89.91 L363.82,90.57 L364.54,91.23 L365.27,91.89 L365.99,92.55 L366.72,93.2 L367.44,93.86 L368.17,94.52 L368.89,95.17 L369.62,95.83 L370.34,96.48 L371.07,97.14 L371.79,97.79 L372.52,98.44 L373.24,99.1 L373.97,99.75 L374.69,100.4 L375.42,101.05 L376.14,101.7 L376.87,102.35 L377.59,103 L378.32,103.65 L379.04,104.29 L379.77,104.94 L380.5,105.58 L381.22,106.23 L381.95,106.87 L382.67,107.52 L383.4,108.16 L384.12,108.8 L384.85,109.44 L385.57,110.08 L386.3,110.72 L387.02,111.35 L387.75,111.99 L388.47,112.62 L389.2,113.26 L389.92,113.89 L390.65,114.52 L391.37,115.15 L392.1,115.78 L392.82,116.41 L393.55,117.04 L394.27,117.66 L395,118.29 L395.72,118.91 L396.45,119.53 L397.18,120.15 L397.9,120.77 L398.63,121.39 L399.35,122.01 L400.08,122.62 L400.8,123.23 L401.53,123.85 L402.25,124.46 L402.98,125.06 L403.7,125.67 L404.43,126.28 L405.15,126.88 L405.88,127.48 L406.6,128.08 L407.33,128.68 L408.05,129.27 L408.78,129.87 L409.5,130.46 L410.23,131.05 L410.95,131.64 L411.68,132.22 L412.4,132.81 L413.13,133.39 L413.85,133.97 L414.58,134.55 L415.31,135.12 L416.03,135.69 L416.76,136.26 L417.48,136.83 L418.21,137.4 L418.93,137.96 L419.66,138.52 L420.38,139.08 L421.11,139.64 L421.83,140.19 L422.56,140.74 L423.28,141.29" stroke="#8a2be2" stroke-width="1.2" fill="none" stroke-linejoin="round" /><path d="M423.28 141.29L420.1 140.94M423.28 141.29L422.1 138.32" stroke="#8a2be2" stroke-width="1.2" /><path d="M307.25,138.89 L307.98,127.78 L308.71,123.41 L309.44,120.14 L310.17,117.45 L310.9,115.11 L311.63,113.03 L312.36,111.14 L313.09,109.41 L313.82,107.8 L314.55,106.29 L315.28,104.86 L316.01,103.51 L316.74,102.23 L317.47,101 L318.2,99.82 L318.93,98.69 L319.66,97.6 L320.38,96.54 L321.11,95.52 L321.84,94.53 L322.57,93.56 L323.3,92.62 L324.03,91.71 L324.76,90.81 L325.49,89.94 L326.22,89.09 L326.95,88.25 L327.68,87.43 L328.41,86.62 L329.14,85.83 L329.87,85.05 L330.6,84.29 L331.33,83.53 L332.06,82.79 L332.79,82.06 L333.52,81.33 L334.25,80.62 L334.98,79.92 L335.71,79.22 L336.44,78.53 L337.17,77.85 L337.9,77.18 L338.63,76.51 L339.36,75.85 L340.09,75.2 L340.82,74.55 L341.55,73.91 L342.28,73.27 L343.01,72.64 L343.74,72.01 L344.47,71.39 L345.2,70.77 L345.92,70.15 L346.65,69.54 L347.38,68.94 L348.11,68.33 L348.84,67.73 L349.57,67.14 L350.3,66.54 L351.03,65.95 L351.76,65.37 L352.49,64.78 L353.22,64.2 L353.95,63.62 L354.68,63.04 L355.41,62.47 L356.14,61.9 L356.87,61.33 L357.6,60.76 L358.33,60.2 L359.06,59.63 L359.79,59.07 L360.52,58.51 L361.25,57.95 L361.98,57.39 L362.71,56.84 L363.44,56.28 L364.17,55.73 L364.9,55.18 L365.63,54.63 L366.36,54.08 L367.09,53.54 L367.82,52.99 L368.55,52.45 L369.28,51.9 L370.01,51.36 L370.74,50.82 L371.46,50.28 L372.19,49.74 L372.92,49.21 L373.65,48.67 L374.38,48.13 L375.11,47.6 L375.84,47.06 L376.57,46.53 L377.3,46 L378.03,45.47 L378.76,44.94 L379.49,44.41 L380.22,43.88 L380.95,43.35 L381.68,42.82 L382.41,42.29 L383.14,41.77 L383.87,41.24 L384.6,40.72 L385.33,40.2 L386.06,39.67 L386.79,39.15 L387.52,38.63 L388.25,38.11 L388.98,37.59 L389.71,37.07 L390.44,36.55 L391.17,36.03 L391.9,35.51 L392.63,35 L393.36,34.48 L394.09,33.96 L394.82,33.45 L395.55,32.94 L396.27,32.42 L397,31.91 L397.73,31.4 L398.46,30.89 L399.19,30.38 L399.92,29.87 L400.65,29.36 L401.38,28.85 L402.11,28.34 L402.84,27.83 L403.57,27.33 L404.3,26.82 L405.03,26.32 L405.76,25.81 L406.49,25.31 L407.22,24.81 L407.95,24.3 L408.68,23.8 L409.41,23.3 L410.14,22.8 L410.87,22.31 L411.6,21.81 L412.33,21.31 L413.06,20.81 L413.79,20.32 L414.52,19.83 L415.25,19.33 L415.98,18.84 L416.71,18.35 L417.44,17.86 L418.17,17.37 L418.9,16.88 L419.63,16.39 L420.36,15.91 L421.09,15.42 L421.81,14.94 L422.54,14.45 L423.27,13.97 L424,13.5" stroke="#8a2be2" stroke-width="1.2" fill="none" stroke-linejoin="round" /><path d="M424 13.5L422.62 16.39M424 13.5L420.81 13.63" stroke="#8a2be2" stroke-width="1.2" /><rect x="307.25" y="13.5" width="198.5" height="127.75" fill="none" stroke="#333" stroke-width="0.9"/><path d="M297.75 141.25H307.25" stroke="#333" stroke-width="0.8" /><text x="291.3" y="144.55" font-size="9.5" text-anchor="end" fill="#1a1a1a" stroke="#1a1a1a" stroke-width="0.18" >1.5</text><path d="M302.75 134.15H307.25M297.75 127.06H307.25" stroke="#333" stroke-width="0.8" /><text x="291.3" y="130.36" font-size="9.5" text-anchor="end" fill="#1a1a1a" stroke="#1a1a1a" stroke-width="0.18" >1.8</text><path d="M302.75 119.96H307.25M297.75 112.86H307.25" stroke="#333" stroke-width="0.8" /><text x="291.3" y="116.16" font-size="9.5" text-anchor="end" fill="#1a1a1a" stroke="#1a1a1a" stroke-width="0.18" >2.1</text><path d="M302.75 105.76H307.25M297.75 98.67H307.25" stroke="#333" stroke-width="0.8" /><text x="291.3" y="101.97" font-size="9.5" text-anchor="end" fill="#1a1a1a" stroke="#1a1a1a" stroke-width="0.18" >2.4</text><path d="M302.75 91.57H307.25M297.75 84.47H307.25" stroke="#333" stroke-width="0.8" /><text x="291.3" y="87.77" font-size="9.5" text-anchor="end" fill="#1a1a1a" stroke="#1a1a1a" stroke-width="0.18" >2.7</text><path d="M302.75 77.38H307.25M297.75 70.28H307.25" stroke="#333" stroke-width="0.8" /><text x="291.3" y="73.58" font-size="9.5" text-anchor="end" fill="#1a1a1a" stroke="#1a1a1a" stroke-width="0.18" >3.0</text><path d="M302.75 63.18H307.25M297.75 56.08H307.25" stroke="#333" stroke-width="0.8" /><text x="291.3" y="59.38" font-size="9.5" text-anchor="end" fill="#1a1a1a" stroke="#1a1a1a" stroke-width="0.18" >3.3</text><path d="M302.75 48.99H307.25M297.75 41.89H307.25" stroke="#333" stroke-width="0.8" /><text x="291.3" y="45.19" font-size="9.5" text-anchor="end" fill="#1a1a1a" stroke="#1a1a1a" stroke-width="0.18" >3.6</text><path d="M302.75 34.79H307.25M297.75 27.69H307.25" stroke="#333" stroke-width="0.8" /><text x="291.3" y="30.99" font-size="9.5" text-anchor="end" fill="#1a1a1a" stroke="#1a1a1a" stroke-width="0.18" >3.9</text><path d="M302.75 20.6H307.25M297.75 13.5H307.25" stroke="#333" stroke-width="0.8" /><text x="291.3" y="16.8" font-size="9.5" text-anchor="end" fill="#1a1a1a" stroke="#1a1a1a" stroke-width="0.18" >4.2</text><path d="M307.25 141.25V150.55" stroke="#333" stroke-width="0.8" /><text x="307.25" y="164.3" font-size="9" text-anchor="middle" fill="#1a1a1a" stroke="#1a1a1a" stroke-width="0.18" >0</text><path d="M325.3 141.25V145.75M343.34 141.25V150.55" stroke="#333" stroke-width="0.8" /><text x="343.34" y="164.3" font-size="9" text-anchor="middle" fill="#1a1a1a" stroke="#1a1a1a" stroke-width="0.18" >20</text><path d="M361.39 141.25V145.75M379.43 141.25V150.55" stroke="#333" stroke-width="0.8" /><text x="379.43" y="164.3" font-size="9" text-anchor="middle" fill="#1a1a1a" stroke="#1a1a1a" stroke-width="0.18" >40</text><path d="M397.48 141.25V145.75M415.52 141.25V150.55" stroke="#333" stroke-width="0.8" /><text x="415.52" y="164.3" font-size="9" text-anchor="middle" fill="#1a1a1a" stroke="#1a1a1a" stroke-width="0.18" >60</text><path d="M433.57 141.25V145.75M451.61 141.25V150.55" stroke="#333" stroke-width="0.8" /><text x="451.61" y="164.3" font-size="9" text-anchor="middle" fill="#1a1a1a" stroke="#1a1a1a" stroke-width="0.18" >80</text><path d="M469.66 141.25V145.75M487.7 141.25V150.55" stroke="#333" stroke-width="0.8" /><text x="487.7" y="164.3" font-size="9" text-anchor="middle" fill="#1a1a1a" stroke="#1a1a1a" stroke-width="0.18" >100</text><path d="M505.75 141.25V145.75" stroke="#333" stroke-width="0.8" /><path d="M440 56.2H459.6" stroke="#d6393a" stroke-width="1.3" /><text x="462.9" y="59.7" font-size="9.3" text-anchor="start" fill="#1a1a1a" stroke="#1a1a1a" stroke-width="0.18" >0.05 A g<tspan font-size="5.2" dy="-4">-1</tspan></text><path d="M440 68.65H459.6" stroke="#f0901e" stroke-width="1.3" /><text x="462.9" y="72.15" font-size="9.3" text-anchor="start" fill="#1a1a1a" stroke="#1a1a1a" stroke-width="0.18" >0.10 A g<tspan font-size="5.2" dy="-4">-1</tspan></text><path d="M440 81.1H459.6" stroke="#46b83c" stroke-width="1.3" /><text x="462.9" y="84.6" font-size="9.3" text-anchor="start" fill="#1a1a1a" stroke="#1a1a1a" stroke-width="0.18" >0.20 A g<tspan font-size="5.2" dy="-4">-1</tspan></text><path d="M440 93.55H459.6" stroke="#101c80" stroke-width="1.3" /><text x="462.9" y="97.05" font-size="9.3" text-anchor="start" fill="#1a1a1a" stroke="#1a1a1a" stroke-width="0.18" >0.40 A g<tspan font-size="5.2" dy="-4">-1</tspan></text><path d="M440 106H459.6" stroke="#8a2be2" stroke-width="1.3" /><text x="462.9" y="109.5" font-size="9.3" text-anchor="start" fill="#1a1a1a" stroke="#1a1a1a" stroke-width="0.18" >0.80 A g<tspan font-size="5.2" dy="-4">-1</tspan></text><text x="406" y="185.5" font-size="11.5" text-anchor="middle" fill="#1a1a1a" stroke="#1a1a1a" stroke-width="0.18" >Capacity / mAh g<tspan font-size="6" dy="-5">-1</tspan></text><text transform="translate(271.5,80) rotate(-90)" font-size="12" text-anchor="middle" fill="#222">Voltage / V vs Li<tspan font-size="7.5" dy="-5">+</tspan><tspan dy="5">/Li</tspan></text><path d="M65.38,318.36 L66,314.03 L66.62,309.45 L67.23,304.64 L67.85,299.63 L68.46,294.34 L69.08,287.72 L69.69,281.24 L70.31,277.15 L70.92,275.1 L71.54,273.27 L72.15,271.71 L72.77,270.44 L73.38,269.5 L74,268.91 L74.62,269.62 L75.23,268.28 L75.85,266.97 L76.46,265.78 L77.08,264.8 L77.69,264.13 L78.31,263.67 L78.92,263.26 L79.54,262.9 L80.15,262.59 L80.77,262.31 L81.38,262.06 L82,261.82 L82.62,261.6 L83.23,261.39 L83.85,261.18 L84.46,260.96 L85.08,260.72 L85.69,260.46 L86.31,260.19 L86.92,259.92 L87.54,259.65 L88.15,259.39 L88.77,259.13 L89.38,258.88 L90,258.63 L90.62,258.4 L91.23,258.17 L91.85,257.95 L92.46,257.73 L93.08,257.52 L93.69,257.3 L94.31,257.09 L94.92,256.88 L95.54,256.66 L96.15,256.43 L96.77,256.21 L97.38,255.98 L98,255.75 L98.62,255.52 L99.23,255.29 L99.85,255.06 L100.46,254.83 L101.08,254.6 L101.69,254.37 L102.31,254.14 L102.92,253.9 L103.54,253.67 L104.15,253.44 L104.77,253.2 L105.38,252.96 L106,252.73 L106.62,252.49 L107.23,252.25 L107.85,252.02 L108.46,251.78 L109.08,251.54 L109.69,251.3 L110.31,251.06 L110.92,250.82 L111.54,250.58 L112.15,250.33 L112.77,250.09 L113.38,249.85 L114,249.6 L114.62,249.36 L115.23,249.12 L115.85,248.87 L116.46,248.62 L117.08,248.38 L117.69,248.13 L118.31,247.88 L118.92,247.63 L119.54,247.38 L120.15,247.14 L120.77,246.89 L121.38,246.64 L122,246.39 L122.62,246.14 L123.23,245.89 L123.85,245.63 L124.46,245.38 L125.08,245.13 L125.69,244.88 L126.31,244.63 L126.92,244.37 L127.54,244.12 L128.15,243.86 L128.77,243.61 L129.38,243.35 L130,243.1 L130.62,242.84 L131.23,242.58 L131.85,242.32 L132.46,242.06 L133.08,241.81 L133.69,241.55 L134.31,241.29 L134.92,241.02 L135.54,240.76 L136.15,240.5 L136.77,240.24 L137.38,239.97 L138,239.71 L138.62,239.44 L139.23,239.18 L139.85,238.91 L140.46,238.64 L141.08,238.37 L141.69,238.1 L142.31,237.83 L142.92,237.56 L143.54,237.29 L144.15,237.02 L144.77,236.75 L145.38,236.47 L146,236.2 L146.62,235.92 L147.23,235.64 L147.85,235.36 L148.46,235.08 L149.08,234.8 L149.69,234.51 L150.31,234.22 L150.92,233.93 L151.54,233.63 L152.15,233.34 L152.77,233.03 L153.38,232.73 L154,232.43 L154.62,232.12 L155.23,231.81 L155.85,231.5 L156.46,231.19 L157.08,230.88 L157.69,230.56 L158.31,230.25 L158.92,229.93 L159.54,229.61 L160.15,229.3 L160.77,228.98 L161.38,228.66 L162,228.35 L162.62,228.03 L163.23,227.72 L163.85,227.4 L164.46,227.09 L165.08,226.77 L165.69,226.46 L166.31,226.15 L166.92,225.84 L167.54,225.53 L168.15,225.22 L168.77,224.92 L169.38,224.62 L170,224.32 L170.62,224.02 L171.23,223.73 L171.85,223.43 L172.46,223.14 L173.08,222.86 L173.69,222.58 L174.31,222.3 L174.92,222.02 L175.54,221.75 L176.15,221.48 L176.77,221.22 L177.38,220.96 L178,220.71 L178.62,220.45 L179.23,220.19 L179.85,219.93 L180.46,219.66 L181.08,219.39 L181.69,219.13 L182.31,218.87 L182.92,218.61 L183.54,218.36 L184.15,218.12 L184.77,217.9 L185.38,217.68 L186,217.48 L186.62,217.29 L187.23,217.13 L187.85,216.98 L188.46,216.86 L189.08,216.75 L189.69,216.64 L190.31,216.53 L190.92,216.42 L191.54,216.31 L192.15,216.21 L192.77,216.11 L193.38,216.02 L194,215.93 L194.62,215.85 L195.23,215.77 L195.85,215.69 L196.46,215.63 L197.08,215.57 L197.69,215.52 L198.31,215.47 L198.92,215.44 L199.54,215.41 L200.15,215.4 L200.77,215.39 L201.38,215.39 L202,215.4 L202.62,215.41 L203.23,215.41 L203.85,215.42 L204.46,215.44 L205.08,215.45 L205.69,215.47 L206.31,215.49 L206.92,215.51 L207.54,215.53 L208.15,215.55 L208.77,215.57 L209.38,215.6 L210,215.62 L210.62,215.65 L211.23,215.68 L211.85,215.7 L212.46,215.73 L213.08,215.76 L213.69,215.79 L214.31,215.82 L214.92,215.86 L215.54,215.9 L216.15,215.95 L216.77,215.99 L217.38,216.05 L218,216.1 L218.62,216.16 L219.23,216.22 L219.85,216.28 L220.46,216.35 L221.08,216.42 L221.69,216.49 L222.31,216.57 L222.92,216.64 L223.54,216.72 L224.15,216.81 L224.77,216.89 L225.38,216.98 L226,217.07 L226.62,217.16 L227.23,217.25 L227.85,217.35 L228.46,217.45 L229.08,217.55 L229.69,217.65 L230.31,217.75 L230.92,217.85 L231.54,217.96 L231.54,225.26 L230.92,228.27 L230.31,231.2 L229.69,234.04 L229.08,236.79 L228.46,239.46 L227.85,242.04 L227.23,244.53 L226.62,246.93 L226,249.25 L225.38,251.48 L224.77,253.62 L224.15,255.67 L223.54,257.64 L222.92,259.52 L222.31,261.31 L221.69,263.01 L221.08,264.63 L220.46,266.16 L219.85,267.6 L219.23,268.95 L218.62,270.22 L218,271.4 L217.38,272.49 L216.77,273.5 L216.15,274.42 L215.54,275.25 L214.92,275.99 L214.31,276.64 L213.69,277.21 L213.08,277.69 L212.46,278.09 L211.85,278.39 L211.23,278.61 L210.62,278.74 L210,278.79 L209.38,279.38 L208.77,280 L208.15,280.62 L207.54,281.24 L206.92,281.87 L206.31,282.51 L205.69,283.16 L205.08,283.81 L204.46,284.47 L203.85,285.12 L203.23,285.77 L202.62,286.41 L202,287.05 L201.38,287.67 L200.77,288.28 L200.15,288.87 L199.54,289.44 L198.92,289.99 L198.31,290.51 L197.69,291.02 L197.08,291.52 L196.46,292.01 L195.85,292.5 L195.23,292.98 L194.62,293.45 L194,293.9 L193.38,294.35 L192.77,294.79 L192.15,295.21 L191.54,295.62 L190.92,296.02 L190.31,296.41 L189.69,296.78 L189.08,297.13 L188.46,297.47 L187.85,297.8 L187.23,298.1 L186.62,298.39 L186,298.66 L185.38,298.93 L184.77,299.18 L184.15,299.43 L183.54,299.68 L182.92,299.92 L182.31,300.17 L181.69,300.42 L181.08,300.67 L180.46,300.94 L179.85,301.22 L179.23,301.5 L178.62,301.8 L178,302.1 L177.38,302.39 L176.77,302.69 L176.15,302.99 L175.54,303.3 L174.92,303.61 L174.31,303.92 L173.69,304.25 L173.08,304.58 L172.46,304.92 L171.85,305.27 L171.23,305.64 L170.62,306.02 L170,306.41 L169.38,306.82 L168.77,307.26 L168.15,307.75 L167.54,308.29 L166.92,308.85 L166.31,309.45 L165.69,310.05 L165.08,310.67 L164.46,311.28 L163.85,311.89 L163.23,312.48 L162.62,313.05 L162,313.58 L161.38,314.07 L160.77,314.51 L160.15,314.93 L159.54,315.34 L158.92,315.74 L158.31,316.11 L157.69,316.46 L157.08,316.78 L156.46,317.04 L155.85,317.26 L155.23,317.45 L154.62,317.63 L154,317.81 L153.38,317.95 L152.77,318.07 L152.15,318.15 L151.54,318.18 L150.92,318.17 L150.31,318.15 L149.69,318.11 L149.08,318.06 L148.46,318 L147.85,317.94 L147.23,317.86 L146.62,317.79 L146,317.71 L145.38,317.63 L144.77,317.54 L144.15,317.43 L143.54,317.3 L142.92,317.16 L142.31,317 L141.69,316.84 L141.08,316.67 L140.46,316.5 L139.85,316.33 L139.23,316.16 L138.62,315.99 L138,315.81 L137.38,315.62 L136.77,315.43 L136.15,315.23 L135.54,315.02 L134.92,314.81 L134.31,314.6 L133.69,314.38 L133.08,314.17 L132.46,313.95 L131.85,313.74 L131.23,313.52 L130.62,313.31 L130,313.1 L129.38,312.89 L128.77,312.69 L128.15,312.5 L127.54,312.31 L126.92,312.13 L126.31,311.96 L125.69,311.78 L125.08,311.61 L124.46,311.44 L123.85,311.27 L123.23,311.1 L122.62,310.94 L122,310.78 L121.38,310.61 L120.77,310.46 L120.15,310.3 L119.54,310.15 L118.92,309.99 L118.31,309.85 L117.69,309.7 L117.08,309.56 L116.46,309.42 L115.85,309.28 L115.23,309.15 L114.62,309.02 L114,308.89 L113.38,308.76 L112.77,308.63 L112.15,308.5 L111.54,308.37 L110.92,308.24 L110.31,308.12 L109.69,308 L109.08,307.87 L108.46,307.76 L107.85,307.64 L107.23,307.53 L106.62,307.42 L106,307.32 L105.38,307.22 L104.77,307.13 L104.15,307.04 L103.54,306.96 L102.92,306.89 L102.31,306.82 L101.69,306.75 L101.08,306.69 L100.46,306.62 L99.85,306.56 L99.23,306.49 L98.62,306.43 L98,306.37 L97.38,306.31 L96.77,306.25 L96.15,306.2 L95.54,306.15 L94.92,306.1 L94.31,306.06 L93.69,306.02 L93.08,305.98 L92.46,305.96 L91.85,305.93 L91.23,305.92 L90.62,305.9 L90,305.9 L89.38,305.91 L88.77,305.92 L88.15,305.95 L87.54,305.98 L86.92,306.02 L86.31,306.06 L85.69,306.11 L85.08,306.16 L84.46,306.21 L83.85,306.27 L83.23,306.33 L82.62,306.4 L82,306.49 L81.38,306.59 L80.77,306.69 L80.15,306.81 L79.54,306.94 L78.92,307.07 L78.31,307.22 L77.69,307.37 L77.08,307.53 L76.46,307.71 L75.85,307.92 L75.23,308.14 L74.62,308.39 L74,308.65 L73.38,308.94 L72.77,309.25 L72.15,309.58 L71.54,309.93 L70.92,310.31 L70.31,310.74 L69.69,311.23 L69.08,311.78 L68.46,312.42 L67.85,313.14 L67.23,313.96 L66.62,315.11 L66,316.64 L65.38,318.36 L65.38,318.36" stroke="#8a2be2" stroke-width="1.1" fill="none" stroke-linejoin="round" /><path d="M65.38,309.69 L66,306.12 L66.62,302.34 L67.23,298.37 L67.85,294.23 L68.46,289.86 L69.08,284.4 L69.69,279.05 L70.31,275.68 L70.92,273.98 L71.54,272.47 L72.15,271.19 L72.77,270.14 L73.38,269.36 L74,268.88 L74.62,269.48 L75.23,268.35 L75.85,267.25 L76.46,266.25 L77.08,265.43 L77.69,264.86 L78.31,264.47 L78.92,264.13 L79.54,263.83 L80.15,263.57 L80.77,263.33 L81.38,263.12 L82,262.92 L82.62,262.74 L83.23,262.56 L83.85,262.38 L84.46,262.2 L85.08,262 L85.69,261.78 L86.31,261.56 L86.92,261.33 L87.54,261.1 L88.15,260.88 L88.77,260.66 L89.38,260.45 L90,260.24 L90.62,260.05 L91.23,259.86 L91.85,259.67 L92.46,259.49 L93.08,259.31 L93.69,259.13 L94.31,258.95 L94.92,258.77 L95.54,258.59 L96.15,258.4 L96.77,258.21 L97.38,258.02 L98,257.82 L98.62,257.63 L99.23,257.44 L99.85,257.25 L100.46,257.05 L101.08,256.86 L101.69,256.66 L102.31,256.47 L102.92,256.27 L103.54,256.08 L104.15,255.88 L104.77,255.68 L105.38,255.48 L106,255.29 L106.62,255.09 L107.23,254.89 L107.85,254.69 L108.46,254.49 L109.08,254.29 L109.69,254.08 L110.31,253.88 L110.92,253.68 L111.54,253.48 L112.15,253.27 L112.77,253.07 L113.38,252.87 L114,252.66 L114.62,252.46 L115.23,252.25 L115.85,252.04 L116.46,251.84 L117.08,251.63 L117.69,251.42 L118.31,251.21 L118.92,251.01 L119.54,250.8 L120.15,250.59 L120.77,250.38 L121.38,250.17 L122,249.96 L122.62,249.75 L123.23,249.54 L123.85,249.33 L124.46,249.12 L125.08,248.9 L125.69,248.69 L126.31,248.48 L126.92,248.27 L127.54,248.05 L128.15,247.84 L128.77,247.62 L129.38,247.41 L130,247.19 L130.62,246.98 L131.23,246.76 L131.85,246.55 L132.46,246.33 L133.08,246.11 L133.69,245.89 L134.31,245.67 L134.92,245.45 L135.54,245.23 L136.15,245.01 L136.77,244.79 L137.38,244.57 L138,244.35 L138.62,244.13 L139.23,243.9 L139.85,243.68 L140.46,243.45 L141.08,243.23 L141.69,243 L142.31,242.77 L142.92,242.55 L143.54,242.32 L144.15,242.09 L144.77,241.86 L145.38,241.63 L146,241.4 L146.62,241.17 L147.23,240.93 L147.85,240.7 L148.46,240.46 L149.08,240.23 L149.69,239.98 L150.31,239.74 L150.92,239.49 L151.54,239.25 L152.15,239 L152.77,238.74 L153.38,238.49 L154,238.23 L154.62,237.97 L155.23,237.71 L155.85,237.45 L156.46,237.19 L157.08,236.93 L157.69,236.67 L158.31,236.4 L158.92,236.14 L159.54,235.87 L160.15,235.6 L160.77,235.34 L161.38,235.07 L162,234.81 L162.62,234.54 L163.23,234.27 L163.85,234.01 L164.46,233.74 L165.08,233.48 L165.69,233.22 L166.31,232.96 L166.92,232.7 L167.54,232.44 L168.15,232.18 L168.77,231.93 L169.38,231.67 L170,231.42 L170.62,231.17 L171.23,230.92 L171.85,230.68 L172.46,230.43 L173.08,230.19 L173.69,229.96 L174.31,229.72 L174.92,229.49 L175.54,229.26 L176.15,229.04 L176.77,228.82 L177.38,228.6 L178,228.39 L178.62,228.17 L179.23,227.95 L179.85,227.73 L180.46,227.51 L181.08,227.28 L181.69,227.06 L182.31,226.84 L182.92,226.63 L183.54,226.42 L184.15,226.22 L184.77,226.03 L185.38,225.84 L186,225.68 L186.62,225.52 L187.23,225.38 L187.85,225.26 L188.46,225.16 L189.08,225.06 L189.69,224.97 L190.31,224.88 L190.92,224.79 L191.54,224.7 L192.15,224.61 L192.77,224.53 L193.38,224.45 L194,224.37 L194.62,224.3 L195.23,224.24 L195.85,224.18 L196.46,224.12 L197.08,224.07 L197.69,224.03 L198.31,223.99 L198.92,223.96 L199.54,223.94 L200.15,223.93 L200.77,223.92 L201.38,223.93 L202,223.93 L202.62,223.93 L203.23,223.94 L203.85,223.95 L204.46,223.96 L205.08,223.97 L205.69,223.99 L206.31,224 L206.92,224.02 L207.54,224.04 L208.15,224.06 L208.77,224.08 L209.38,224.1 L210,224.12 L210.62,224.14 L211.23,224.16 L211.85,224.18 L212.46,224.21 L213.08,224.23 L213.69,224.26 L214.31,224.29 L214.92,224.32 L215.54,224.35 L216.15,224.39 L216.77,224.43 L217.38,224.47 L218,224.52 L218.62,224.57 L219.23,224.62 L219.85,224.67 L220.46,224.73 L221.08,224.79 L221.69,224.85 L222.31,224.91 L222.92,224.97 L223.54,225.04 L224.15,225.11 L224.77,225.18 L225.38,225.26 L226,225.33 L226.62,225.41 L227.23,225.49 L227.85,225.57 L228.46,225.65 L229.08,225.73 L229.69,225.82 L230.31,225.9 L230.92,225.99 L231.54,226.08 L231.54,232.02 L230.92,234.76 L230.31,237.4 L229.69,239.96 L229.08,242.43 L228.46,244.81 L227.85,247.1 L227.23,249.3 L226.62,251.41 L226,253.44 L225.38,255.38 L224.77,257.22 L224.15,258.98 L223.54,260.66 L222.92,262.24 L222.31,263.73 L221.69,265.14 L221.08,266.46 L220.46,267.69 L219.85,268.83 L219.23,269.88 L218.62,270.84 L218,271.72 L217.38,272.51 L216.77,273.21 L216.15,273.82 L215.54,274.34 L214.92,274.77 L214.31,275.12 L213.69,275.37 L213.08,275.54 L212.46,275.62 L211.85,275.89 L211.23,276.33 L210.62,276.77 L210,277.24 L209.38,277.73 L208.77,278.23 L208.15,278.74 L207.54,279.25 L206.92,279.77 L206.31,280.29 L205.69,280.82 L205.08,281.36 L204.46,281.9 L203.85,282.43 L203.23,282.96 L202.62,283.49 L202,284.01 L201.38,284.52 L200.77,285.02 L200.15,285.5 L199.54,285.97 L198.92,286.42 L198.31,286.85 L197.69,287.27 L197.08,287.68 L196.46,288.08 L195.85,288.48 L195.23,288.87 L194.62,289.26 L194,289.63 L193.38,290 L192.77,290.36 L192.15,290.71 L191.54,291.04 L190.92,291.37 L190.31,291.69 L189.69,291.99 L189.08,292.28 L188.46,292.56 L187.85,292.82 L187.23,293.07 L186.62,293.31 L186,293.53 L185.38,293.75 L184.77,293.96 L184.15,294.16 L183.54,294.37 L182.92,294.57 L182.31,294.77 L181.69,294.97 L181.08,295.18 L180.46,295.4 L179.85,295.63 L179.23,295.86 L178.62,296.11 L178,296.35 L177.38,296.59 L176.77,296.84 L176.15,297.08 L175.54,297.33 L174.92,297.59 L174.31,297.85 L173.69,298.11 L173.08,298.39 L172.46,298.67 L171.85,298.96 L171.23,299.25 L170.62,299.57 L170,299.89 L169.38,300.22 L168.77,300.59 L168.15,300.99 L167.54,301.43 L166.92,301.89 L166.31,302.38 L165.69,302.88 L165.08,303.38 L164.46,303.88 L163.85,304.38 L163.23,304.87 L162.62,305.33 L162,305.77 L161.38,306.17 L160.77,306.53 L160.15,306.87 L159.54,307.21 L158.92,307.53 L158.31,307.84 L157.69,308.13 L157.08,308.39 L156.46,308.61 L155.85,308.79 L155.23,308.94 L154.62,309.09 L154,309.23 L153.38,309.35 L152.77,309.45 L152.15,309.51 L151.54,309.54 L150.92,309.53 L150.31,309.51 L149.69,309.48 L149.08,309.44 L148.46,309.39 L147.85,309.34 L147.23,309.28 L146.62,309.22 L146,309.15 L145.38,309.09 L144.77,309.01 L144.15,308.92 L143.54,308.82 L142.92,308.7 L142.31,308.57 L141.69,308.44 L141.08,308.3 L140.46,308.16 L139.85,308.02 L139.23,307.88 L138.62,307.74 L138,307.6 L137.38,307.44 L136.77,307.28 L136.15,307.12 L135.54,306.95 L134.92,306.78 L134.31,306.6 L133.69,306.43 L133.08,306.25 L132.46,306.07 L131.85,305.89 L131.23,305.72 L130.62,305.54 L130,305.37 L129.38,305.2 L128.77,305.04 L128.15,304.88 L127.54,304.73 L126.92,304.58 L126.31,304.44 L125.69,304.29 L125.08,304.15 L124.46,304.01 L123.85,303.87 L123.23,303.74 L122.62,303.6 L122,303.47 L121.38,303.34 L120.77,303.21 L120.15,303.08 L119.54,302.95 L118.92,302.83 L118.31,302.71 L117.69,302.59 L117.08,302.47 L116.46,302.35 L115.85,302.24 L115.23,302.13 L114.62,302.02 L114,301.92 L113.38,301.81 L112.77,301.71 L112.15,301.6 L111.54,301.5 L110.92,301.39 L110.31,301.29 L109.69,301.19 L109.08,301.09 L108.46,300.99 L107.85,300.9 L107.23,300.81 L106.62,300.72 L106,300.63 L105.38,300.55 L104.77,300.48 L104.15,300.41 L103.54,300.34 L102.92,300.28 L102.31,300.22 L101.69,300.17 L101.08,300.11 L100.46,300.06 L99.85,300.01 L99.23,299.96 L98.62,299.9 L98,299.85 L97.38,299.8 L96.77,299.76 L96.15,299.71 L95.54,299.67 L94.92,299.63 L94.31,299.6 L93.69,299.57 L93.08,299.54 L92.46,299.51 L91.85,299.5 L91.23,299.48 L90.62,299.47 L90,299.47 L89.38,299.47 L88.77,299.49 L88.15,299.51 L87.54,299.53 L86.92,299.56 L86.31,299.6 L85.69,299.64 L85.08,299.68 L84.46,299.73 L83.85,299.77 L83.23,299.82 L82.62,299.88 L82,299.95 L81.38,300.03 L80.77,300.12 L80.15,300.22 L79.54,300.32 L78.92,300.43 L78.31,300.55 L77.69,300.67 L77.08,300.81 L76.46,300.96 L75.85,301.12 L75.23,301.31 L74.62,301.51 L74,301.73 L73.38,301.96 L72.77,302.22 L72.15,302.49 L71.54,302.78 L70.92,303.09 L70.31,303.44 L69.69,303.84 L69.08,304.29 L68.46,304.81 L67.85,305.41 L67.23,306.08 L66.62,307.02 L66,308.28 L65.38,309.69 L65.38,309.69" stroke="#101c80" stroke-width="1.1" fill="none" stroke-linejoin="round" /><path d="M65.38,301.01 L66,298.2 L66.62,295.22 L67.23,292.09 L67.85,288.83 L68.46,285.38 L69.08,281.08 L69.69,276.86 L70.31,274.2 L70.92,272.86 L71.54,271.68 L72.15,270.66 L72.77,269.84 L73.38,269.22 L74,268.84 L74.62,269.31 L75.23,268.43 L75.85,267.56 L76.46,266.78 L77.08,266.13 L77.69,265.69 L78.31,265.38 L78.92,265.11 L79.54,264.88 L80.15,264.67 L80.77,264.48 L81.38,264.32 L82,264.16 L82.62,264.02 L83.23,263.88 L83.85,263.74 L84.46,263.59 L85.08,263.44 L85.69,263.27 L86.31,263.09 L86.92,262.91 L87.54,262.73 L88.15,262.56 L88.77,262.39 L89.38,262.22 L90,262.06 L90.62,261.9 L91.23,261.75 L91.85,261.61 L92.46,261.46 L93.08,261.32 L93.69,261.18 L94.31,261.04 L94.92,260.9 L95.54,260.75 L96.15,260.61 L96.77,260.46 L97.38,260.31 L98,260.16 L98.62,260.01 L99.23,259.85 L99.85,259.7 L100.46,259.55 L101.08,259.4 L101.69,259.24 L102.31,259.09 L102.92,258.94 L103.54,258.78 L104.15,258.63 L104.77,258.47 L105.38,258.32 L106,258.16 L106.62,258.01 L107.23,257.85 L107.85,257.69 L108.46,257.53 L109.08,257.38 L109.69,257.22 L110.31,257.06 L110.92,256.9 L111.54,256.74 L112.15,256.58 L112.77,256.42 L113.38,256.26 L114,256.1 L114.62,255.94 L115.23,255.78 L115.85,255.62 L116.46,255.45 L117.08,255.29 L117.69,255.13 L118.31,254.96 L118.92,254.8 L119.54,254.64 L120.15,254.47 L120.77,254.31 L121.38,254.14 L122,253.98 L122.62,253.81 L123.23,253.65 L123.85,253.48 L124.46,253.31 L125.08,253.15 L125.69,252.98 L126.31,252.81 L126.92,252.65 L127.54,252.48 L128.15,252.31 L128.77,252.14 L129.38,251.97 L130,251.8 L130.62,251.63 L131.23,251.46 L131.85,251.29 L132.46,251.12 L133.08,250.95 L133.69,250.78 L134.31,250.61 L134.92,250.44 L135.54,250.26 L136.15,250.09 L136.77,249.92 L137.38,249.74 L138,249.57 L138.62,249.39 L139.23,249.22 L139.85,249.04 L140.46,248.86 L141.08,248.69 L141.69,248.51 L142.31,248.33 L142.92,248.15 L143.54,247.97 L144.15,247.79 L144.77,247.61 L145.38,247.43 L146,247.25 L146.62,247.07 L147.23,246.88 L147.85,246.7 L148.46,246.52 L149.08,246.33 L149.69,246.14 L150.31,245.95 L150.92,245.75 L151.54,245.56 L152.15,245.36 L152.77,245.16 L153.38,244.96 L154,244.76 L154.62,244.56 L155.23,244.36 L155.85,244.15 L156.46,243.95 L157.08,243.74 L157.69,243.53 L158.31,243.32 L158.92,243.12 L159.54,242.91 L160.15,242.7 L160.77,242.49 L161.38,242.28 L162,242.07 L162.62,241.86 L163.23,241.65 L163.85,241.44 L164.46,241.24 L165.08,241.03 L165.69,240.82 L166.31,240.62 L166.92,240.41 L167.54,240.21 L168.15,240.01 L168.77,239.81 L169.38,239.61 L170,239.41 L170.62,239.21 L171.23,239.02 L171.85,238.83 L172.46,238.64 L173.08,238.45 L173.69,238.26 L174.31,238.08 L174.92,237.9 L175.54,237.72 L176.15,237.54 L176.77,237.37 L177.38,237.2 L178,237.03 L178.62,236.86 L179.23,236.69 L179.85,236.51 L180.46,236.34 L181.08,236.16 L181.69,235.99 L182.31,235.81 L182.92,235.64 L183.54,235.48 L184.15,235.32 L184.77,235.17 L185.38,235.03 L186,234.9 L186.62,234.78 L187.23,234.67 L187.85,234.57 L188.46,234.49 L189.08,234.41 L189.69,234.34 L190.31,234.27 L190.92,234.2 L191.54,234.13 L192.15,234.06 L192.77,234 L193.38,233.93 L194,233.88 L194.62,233.82 L195.23,233.77 L195.85,233.72 L196.46,233.68 L197.08,233.64 L197.69,233.6 L198.31,233.57 L198.92,233.55 L199.54,233.53 L200.15,233.52 L200.77,233.52 L201.38,233.52 L202,233.52 L202.62,233.53 L203.23,233.53 L203.85,233.54 L204.46,233.55 L205.08,233.56 L205.69,233.57 L206.31,233.58 L206.92,233.6 L207.54,233.61 L208.15,233.62 L208.77,233.64 L209.38,233.66 L210,233.67 L210.62,233.69 L211.23,233.71 L211.85,233.73 L212.46,233.74 L213.08,233.76 L213.69,233.78 L214.31,233.8 L214.92,233.83 L215.54,233.86 L216.15,233.89 L216.77,233.92 L217.38,233.95 L218,233.99 L218.62,234.03 L219.23,234.07 L219.85,234.11 L220.46,234.15 L221.08,234.2 L221.69,234.25 L222.31,234.29 L222.92,234.35 L223.54,234.4 L224.15,234.45 L224.77,234.51 L225.38,234.57 L226,234.63 L226.62,234.69 L227.23,234.75 L227.85,234.81 L228.46,234.88 L229.08,234.94 L229.69,235.01 L230.31,235.08 L230.92,235.14 L231.54,235.21 L231.54,239.75 L230.92,242.11 L230.31,244.37 L229.69,246.55 L229.08,248.65 L228.46,250.65 L227.85,252.57 L227.23,254.41 L226.62,256.16 L226,257.82 L225.38,259.4 L224.77,260.89 L224.15,262.29 L223.54,263.61 L222.92,264.84 L222.31,265.99 L221.69,267.05 L221.08,268.02 L220.46,268.91 L219.85,269.71 L219.23,270.43 L218.62,271.06 L218,271.6 L217.38,272.05 L216.77,272.43 L216.15,272.71 L215.54,272.91 L214.92,273.02 L214.31,273.13 L213.69,273.54 L213.08,273.93 L212.46,274.29 L211.85,274.64 L211.23,274.98 L210.62,275.32 L210,275.69 L209.38,276.07 L208.77,276.46 L208.15,276.86 L207.54,277.26 L206.92,277.66 L206.31,278.07 L205.69,278.49 L205.08,278.9 L204.46,279.32 L203.85,279.74 L203.23,280.16 L202.62,280.57 L202,280.97 L201.38,281.37 L200.77,281.76 L200.15,282.14 L199.54,282.5 L198.92,282.85 L198.31,283.19 L197.69,283.52 L197.08,283.84 L196.46,284.15 L195.85,284.46 L195.23,284.77 L194.62,285.07 L194,285.36 L193.38,285.65 L192.77,285.93 L192.15,286.2 L191.54,286.46 L190.92,286.72 L190.31,286.96 L189.69,287.2 L189.08,287.43 L188.46,287.65 L187.85,287.85 L187.23,288.05 L186.62,288.23 L186,288.41 L185.38,288.58 L184.77,288.74 L184.15,288.9 L183.54,289.06 L182.92,289.21 L182.31,289.37 L181.69,289.53 L181.08,289.69 L180.46,289.86 L179.85,290.04 L179.23,290.23 L178.62,290.42 L178,290.6 L177.38,290.79 L176.77,290.98 L176.15,291.18 L175.54,291.37 L174.92,291.57 L174.31,291.77 L173.69,291.98 L173.08,292.19 L172.46,292.41 L171.85,292.64 L171.23,292.87 L170.62,293.11 L170,293.36 L169.38,293.63 L168.77,293.91 L168.15,294.23 L167.54,294.57 L166.92,294.93 L166.31,295.31 L165.69,295.7 L165.08,296.09 L164.46,296.48 L163.85,296.87 L163.23,297.25 L162.62,297.61 L162,297.95 L161.38,298.27 L160.77,298.55 L160.15,298.82 L159.54,299.08 L158.92,299.33 L158.31,299.58 L157.69,299.8 L157.08,300 L156.46,300.17 L155.85,300.31 L155.23,300.43 L154.62,300.55 L154,300.66 L153.38,300.75 L152.77,300.83 L152.15,300.88 L151.54,300.9 L150.92,300.89 L150.31,300.88 L149.69,300.85 L149.08,300.82 L148.46,300.78 L147.85,300.74 L147.23,300.7 L146.62,300.65 L146,300.6 L145.38,300.54 L144.77,300.49 L144.15,300.42 L143.54,300.33 L142.92,300.24 L142.31,300.14 L141.69,300.04 L141.08,299.93 L140.46,299.82 L139.85,299.71 L139.23,299.61 L138.62,299.5 L138,299.38 L137.38,299.26 L136.77,299.14 L136.15,299.01 L135.54,298.88 L134.92,298.74 L134.31,298.61 L133.69,298.47 L133.08,298.33 L132.46,298.19 L131.85,298.05 L131.23,297.92 L130.62,297.78 L130,297.65 L129.38,297.51 L128.77,297.39 L128.15,297.26 L127.54,297.14 L126.92,297.03 L126.31,296.91 L125.69,296.8 L125.08,296.69 L124.46,296.58 L123.85,296.48 L123.23,296.37 L122.62,296.26 L122,296.16 L121.38,296.06 L120.77,295.95 L120.15,295.85 L119.54,295.76 L118.92,295.66 L118.31,295.56 L117.69,295.47 L117.08,295.38 L116.46,295.29 L115.85,295.2 L115.23,295.12 L114.62,295.03 L114,294.95 L113.38,294.87 L112.77,294.78 L112.15,294.7 L111.54,294.62 L110.92,294.54 L110.31,294.46 L109.69,294.38 L109.08,294.3 L108.46,294.23 L107.85,294.15 L107.23,294.08 L106.62,294.01 L106,293.95 L105.38,293.88 L104.77,293.83 L104.15,293.77 L103.54,293.72 L102.92,293.67 L102.31,293.63 L101.69,293.58 L101.08,293.54 L100.46,293.5 L99.85,293.46 L99.23,293.42 L98.62,293.38 L98,293.34 L97.38,293.3 L96.77,293.26 L96.15,293.23 L95.54,293.2 L94.92,293.17 L94.31,293.14 L93.69,293.11 L93.08,293.09 L92.46,293.07 L91.85,293.06 L91.23,293.05 L90.62,293.04 L90,293.04 L89.38,293.04 L88.77,293.05 L88.15,293.07 L87.54,293.09 L86.92,293.11 L86.31,293.14 L85.69,293.17 L85.08,293.2 L84.46,293.24 L83.85,293.27 L83.23,293.31 L82.62,293.36 L82,293.42 L81.38,293.48 L80.77,293.55 L80.15,293.62 L79.54,293.7 L78.92,293.79 L78.31,293.88 L77.69,293.98 L77.08,294.08 L76.46,294.2 L75.85,294.33 L75.23,294.47 L74.62,294.63 L74,294.8 L73.38,294.99 L72.77,295.18 L72.15,295.39 L71.54,295.62 L70.92,295.86 L70.31,296.14 L69.69,296.45 L69.08,296.8 L68.46,297.21 L67.85,297.67 L67.23,298.2 L66.62,298.93 L66,299.92 L65.38,301.01 L65.38,301.01" stroke="#46b83c" stroke-width="1.1" fill="none" stroke-linejoin="round" /><path d="M65.38,291.38 L66,289.4 L66.62,287.31 L67.23,285.11 L67.85,282.83 L68.46,280.41 L69.08,277.39 L69.69,274.43 L70.31,272.56 L70.92,271.62 L71.54,270.79 L72.15,270.08 L72.77,269.5 L73.38,269.07 L74,268.8 L74.62,269.13 L75.23,268.51 L75.85,267.91 L76.46,267.36 L77.08,266.91 L77.69,266.6 L78.31,266.39 L78.92,266.2 L79.54,266.04 L80.15,265.89 L80.77,265.76 L81.38,265.65 L82,265.54 L82.62,265.44 L83.23,265.34 L83.85,265.24 L84.46,265.14 L85.08,265.03 L85.69,264.92 L86.31,264.79 L86.92,264.67 L87.54,264.54 L88.15,264.42 L88.77,264.3 L89.38,264.19 L90,264.07 L90.62,263.97 L91.23,263.86 L91.85,263.76 L92.46,263.66 L93.08,263.56 L93.69,263.46 L94.31,263.36 L94.92,263.27 L95.54,263.17 L96.15,263.06 L96.77,262.96 L97.38,262.85 L98,262.75 L98.62,262.64 L99.23,262.54 L99.85,262.43 L100.46,262.33 L101.08,262.22 L101.69,262.11 L102.31,262.01 L102.92,261.9 L103.54,261.79 L104.15,261.68 L104.77,261.57 L105.38,261.47 L106,261.36 L106.62,261.25 L107.23,261.14 L107.85,261.03 L108.46,260.92 L109.08,260.81 L109.69,260.7 L110.31,260.59 L110.92,260.48 L111.54,260.37 L112.15,260.26 L112.77,260.15 L113.38,260.03 L114,259.92 L114.62,259.81 L115.23,259.7 L115.85,259.58 L116.46,259.47 L117.08,259.36 L117.69,259.24 L118.31,259.13 L118.92,259.01 L119.54,258.9 L120.15,258.79 L120.77,258.67 L121.38,258.56 L122,258.44 L122.62,258.33 L123.23,258.21 L123.85,258.09 L124.46,257.98 L125.08,257.86 L125.69,257.75 L126.31,257.63 L126.92,257.51 L127.54,257.4 L128.15,257.28 L128.77,257.16 L129.38,257.04 L130,256.93 L130.62,256.81 L131.23,256.69 L131.85,256.57 L132.46,256.45 L133.08,256.33 L133.69,256.21 L134.31,256.09 L134.92,255.97 L135.54,255.85 L136.15,255.73 L136.77,255.61 L137.38,255.49 L138,255.37 L138.62,255.25 L139.23,255.12 L139.85,255 L140.46,254.88 L141.08,254.75 L141.69,254.63 L142.31,254.51 L142.92,254.38 L143.54,254.26 L144.15,254.13 L144.77,254.01 L145.38,253.88 L146,253.75 L146.62,253.63 L147.23,253.5 L147.85,253.37 L148.46,253.24 L149.08,253.11 L149.69,252.98 L150.31,252.85 L150.92,252.71 L151.54,252.57 L152.15,252.44 L152.77,252.3 L153.38,252.16 L154,252.02 L154.62,251.88 L155.23,251.74 L155.85,251.59 L156.46,251.45 L157.08,251.31 L157.69,251.16 L158.31,251.02 L158.92,250.87 L159.54,250.73 L160.15,250.58 L160.77,250.43 L161.38,250.29 L162,250.14 L162.62,250 L163.23,249.85 L163.85,249.71 L164.46,249.56 L165.08,249.42 L165.69,249.27 L166.31,249.13 L166.92,248.99 L167.54,248.85 L168.15,248.71 L168.77,248.57 L169.38,248.43 L170,248.29 L170.62,248.15 L171.23,248.02 L171.85,247.88 L172.46,247.75 L173.08,247.62 L173.69,247.49 L174.31,247.36 L174.92,247.23 L175.54,247.11 L176.15,246.99 L176.77,246.86 L177.38,246.74 L178,246.63 L178.62,246.51 L179.23,246.39 L179.85,246.27 L180.46,246.15 L181.08,246.02 L181.69,245.9 L182.31,245.78 L182.92,245.66 L183.54,245.55 L184.15,245.44 L184.77,245.33 L185.38,245.24 L186,245.14 L186.62,245.06 L187.23,244.98 L187.85,244.92 L188.46,244.86 L189.08,244.81 L189.69,244.76 L190.31,244.71 L190.92,244.66 L191.54,244.61 L192.15,244.56 L192.77,244.52 L193.38,244.47 L194,244.43 L194.62,244.39 L195.23,244.36 L195.85,244.32 L196.46,244.29 L197.08,244.26 L197.69,244.24 L198.31,244.22 L198.92,244.21 L199.54,244.19 L200.15,244.19 L200.77,244.18 L201.38,244.18 L202,244.19 L202.62,244.19 L203.23,244.19 L203.85,244.2 L204.46,244.2 L205.08,244.21 L205.69,244.22 L206.31,244.23 L206.92,244.24 L207.54,244.25 L208.15,244.26 L208.77,244.27 L209.38,244.28 L210,244.29 L210.62,244.3 L211.23,244.31 L211.85,244.33 L212.46,244.34 L213.08,244.35 L213.69,244.37 L214.31,244.38 L214.92,244.4 L215.54,244.42 L216.15,244.44 L216.77,244.46 L217.38,244.48 L218,244.51 L218.62,244.54 L219.23,244.56 L219.85,244.59 L220.46,244.62 L221.08,244.66 L221.69,244.69 L222.31,244.72 L222.92,244.76 L223.54,244.8 L224.15,244.83 L224.77,244.87 L225.38,244.91 L226,244.95 L226.62,245 L227.23,245.04 L227.85,245.08 L228.46,245.13 L229.08,245.17 L229.69,245.22 L230.31,245.27 L230.92,245.32 L231.54,245.36 L231.54,248.44 L230.92,250.29 L230.31,252.06 L229.69,253.76 L229.08,255.37 L228.46,256.91 L227.85,258.36 L227.23,259.74 L226.62,261.04 L226,262.25 L225.38,263.39 L224.77,264.45 L224.15,265.43 L223.54,266.33 L222.92,267.14 L222.31,267.88 L221.69,268.54 L221.08,269.13 L220.46,269.63 L219.85,270.05 L219.23,270.39 L218.62,270.65 L218,270.84 L217.38,270.94 L216.77,271.02 L216.15,271.32 L215.54,271.62 L214.92,271.92 L214.31,272.21 L213.69,272.49 L213.08,272.75 L212.46,273 L211.85,273.24 L211.23,273.48 L210.62,273.72 L210,273.96 L209.38,274.23 L208.77,274.5 L208.15,274.77 L207.54,275.04 L206.92,275.32 L206.31,275.6 L205.69,275.89 L205.08,276.18 L204.46,276.46 L203.85,276.75 L203.23,277.04 L202.62,277.32 L202,277.6 L201.38,277.87 L200.77,278.14 L200.15,278.4 L199.54,278.65 L198.92,278.89 L198.31,279.12 L197.69,279.35 L197.08,279.57 L196.46,279.78 L195.85,280 L195.23,280.21 L194.62,280.41 L194,280.62 L193.38,280.81 L192.77,281 L192.15,281.19 L191.54,281.37 L190.92,281.55 L190.31,281.72 L189.69,281.88 L189.08,282.04 L188.46,282.19 L187.85,282.33 L187.23,282.46 L186.62,282.59 L186,282.71 L185.38,282.82 L184.77,282.94 L184.15,283.05 L183.54,283.16 L182.92,283.26 L182.31,283.37 L181.69,283.48 L181.08,283.59 L180.46,283.71 L179.85,283.83 L179.23,283.96 L178.62,284.09 L178,284.22 L177.38,284.35 L176.77,284.48 L176.15,284.61 L175.54,284.75 L174.92,284.88 L174.31,285.02 L173.69,285.17 L173.08,285.31 L172.46,285.46 L171.85,285.62 L171.23,285.78 L170.62,285.95 L170,286.12 L169.38,286.3 L168.77,286.49 L168.15,286.71 L167.54,286.94 L166.92,287.19 L166.31,287.45 L165.69,287.72 L165.08,287.99 L164.46,288.26 L163.85,288.53 L163.23,288.79 L162.62,289.04 L162,289.27 L161.38,289.49 L160.77,289.68 L160.15,289.87 L159.54,290.05 L158.92,290.22 L158.31,290.39 L157.69,290.54 L157.08,290.68 L156.46,290.8 L155.85,290.89 L155.23,290.98 L154.62,291.06 L154,291.13 L153.38,291.2 L152.77,291.25 L152.15,291.28 L151.54,291.3 L150.92,291.29 L150.31,291.28 L149.69,291.27 L149.08,291.24 L148.46,291.22 L147.85,291.19 L147.23,291.16 L146.62,291.12 L146,291.09 L145.38,291.05 L144.77,291.01 L144.15,290.97 L143.54,290.91 L142.92,290.85 L142.31,290.78 L141.69,290.71 L141.08,290.63 L140.46,290.56 L139.85,290.48 L139.23,290.41 L138.62,290.33 L138,290.25 L137.38,290.17 L136.77,290.09 L136.15,290 L135.54,289.91 L134.92,289.82 L134.31,289.72 L133.69,289.63 L133.08,289.53 L132.46,289.44 L131.85,289.34 L131.23,289.25 L130.62,289.15 L130,289.06 L129.38,288.97 L128.77,288.88 L128.15,288.8 L127.54,288.71 L126.92,288.64 L126.31,288.56 L125.69,288.48 L125.08,288.41 L124.46,288.33 L123.85,288.26 L123.23,288.18 L122.62,288.11 L122,288.04 L121.38,287.97 L120.77,287.9 L120.15,287.83 L119.54,287.76 L118.92,287.7 L118.31,287.63 L117.69,287.57 L117.08,287.5 L116.46,287.44 L115.85,287.38 L115.23,287.32 L114.62,287.26 L114,287.21 L113.38,287.15 L112.77,287.09 L112.15,287.04 L111.54,286.98 L110.92,286.93 L110.31,286.87 L109.69,286.82 L109.08,286.76 L108.46,286.71 L107.85,286.66 L107.23,286.61 L106.62,286.56 L106,286.52 L105.38,286.48 L104.77,286.43 L104.15,286.4 L103.54,286.36 L102.92,286.33 L102.31,286.3 L101.69,286.27 L101.08,286.24 L100.46,286.21 L99.85,286.18 L99.23,286.15 L98.62,286.13 L98,286.1 L97.38,286.07 L96.77,286.05 L96.15,286.02 L95.54,286 L94.92,285.98 L94.31,285.96 L93.69,285.95 L93.08,285.93 L92.46,285.92 L91.85,285.91 L91.23,285.9 L90.62,285.9 L90,285.89 L89.38,285.9 L88.77,285.9 L88.15,285.91 L87.54,285.93 L86.92,285.94 L86.31,285.96 L85.69,285.99 L85.08,286.01 L84.46,286.03 L83.85,286.06 L83.23,286.08 L82.62,286.12 L82,286.15 L81.38,286.2 L80.77,286.24 L80.15,286.29 L79.54,286.35 L78.92,286.41 L78.31,286.47 L77.69,286.54 L77.08,286.61 L76.46,286.69 L75.85,286.78 L75.23,286.88 L74.62,286.99 L74,287.11 L73.38,287.23 L72.77,287.37 L72.15,287.51 L71.54,287.67 L70.92,287.84 L70.31,288.02 L69.69,288.24 L69.08,288.48 L68.46,288.76 L67.85,289.08 L67.23,289.44 L66.62,289.95 L66,290.62 L65.38,291.38 L65.38,291.38" stroke="#f0901e" stroke-width="1.1" fill="none" stroke-linejoin="round" /><path d="M65.38,281.74 L66,280.6 L66.62,279.4 L67.23,278.14 L67.85,276.82 L68.46,275.43 L69.08,273.7 L69.69,272 L70.31,270.92 L70.92,270.38 L71.54,269.91 L72.15,269.5 L72.77,269.16 L73.38,268.92 L74,268.76 L74.62,268.94 L75.23,268.6 L75.85,268.27 L76.46,267.98 L77.08,267.73 L77.69,267.56 L78.31,267.45 L78.92,267.35 L79.54,267.26 L80.15,267.18 L80.77,267.11 L81.38,267.05 L82,266.99 L82.62,266.93 L83.23,266.88 L83.85,266.83 L84.46,266.77 L85.08,266.71 L85.69,266.65 L86.31,266.58 L86.92,266.51 L87.54,266.45 L88.15,266.38 L88.77,266.31 L89.38,266.25 L90,266.19 L90.62,266.13 L91.23,266.07 L91.85,266.02 L92.46,265.96 L93.08,265.91 L93.69,265.86 L94.31,265.8 L94.92,265.75 L95.54,265.7 L96.15,265.64 L96.77,265.58 L97.38,265.53 L98,265.47 L98.62,265.41 L99.23,265.35 L99.85,265.3 L100.46,265.24 L101.08,265.18 L101.69,265.12 L102.31,265.07 L102.92,265.01 L103.54,264.95 L104.15,264.89 L104.77,264.83 L105.38,264.77 L106,264.71 L106.62,264.65 L107.23,264.6 L107.85,264.54 L108.46,264.48 L109.08,264.42 L109.69,264.36 L110.31,264.3 L110.92,264.24 L111.54,264.18 L112.15,264.12 L112.77,264.05 L113.38,263.99 L114,263.93 L114.62,263.87 L115.23,263.81 L115.85,263.75 L116.46,263.69 L117.08,263.63 L117.69,263.56 L118.31,263.5 L118.92,263.44 L119.54,263.38 L120.15,263.32 L120.77,263.25 L121.38,263.19 L122,263.13 L122.62,263.07 L123.23,263 L123.85,262.94 L124.46,262.88 L125.08,262.81 L125.69,262.75 L126.31,262.69 L126.92,262.62 L127.54,262.56 L128.15,262.5 L128.77,262.43 L129.38,262.37 L130,262.31 L130.62,262.24 L131.23,262.18 L131.85,262.11 L132.46,262.05 L133.08,261.98 L133.69,261.92 L134.31,261.85 L134.92,261.79 L135.54,261.72 L136.15,261.66 L136.77,261.59 L137.38,261.52 L138,261.46 L138.62,261.39 L139.23,261.33 L139.85,261.26 L140.46,261.19 L141.08,261.13 L141.69,261.06 L142.31,260.99 L142.92,260.92 L143.54,260.85 L144.15,260.79 L144.77,260.72 L145.38,260.65 L146,260.58 L146.62,260.51 L147.23,260.44 L147.85,260.37 L148.46,260.3 L149.08,260.23 L149.69,260.16 L150.31,260.09 L150.92,260.01 L151.54,259.94 L152.15,259.87 L152.77,259.79 L153.38,259.71 L154,259.64 L154.62,259.56 L155.23,259.48 L155.85,259.41 L156.46,259.33 L157.08,259.25 L157.69,259.17 L158.31,259.09 L158.92,259.01 L159.54,258.94 L160.15,258.86 L160.77,258.78 L161.38,258.7 L162,258.62 L162.62,258.54 L163.23,258.46 L163.85,258.38 L164.46,258.3 L165.08,258.22 L165.69,258.15 L166.31,258.07 L166.92,257.99 L167.54,257.91 L168.15,257.84 L168.77,257.76 L169.38,257.69 L170,257.61 L170.62,257.54 L171.23,257.46 L171.85,257.39 L172.46,257.32 L173.08,257.25 L173.69,257.18 L174.31,257.11 L174.92,257.04 L175.54,256.97 L176.15,256.9 L176.77,256.84 L177.38,256.77 L178,256.71 L178.62,256.64 L179.23,256.58 L179.85,256.51 L180.46,256.45 L181.08,256.38 L181.69,256.31 L182.31,256.25 L182.92,256.18 L183.54,256.12 L184.15,256.06 L184.77,256.01 L185.38,255.95 L186,255.9 L186.62,255.86 L187.23,255.81 L187.85,255.78 L188.46,255.75 L189.08,255.72 L189.69,255.69 L190.31,255.66 L190.92,255.64 L191.54,255.61 L192.15,255.58 L192.77,255.56 L193.38,255.54 L194,255.51 L194.62,255.49 L195.23,255.47 L195.85,255.46 L196.46,255.44 L197.08,255.42 L197.69,255.41 L198.31,255.4 L198.92,255.39 L199.54,255.39 L200.15,255.38 L200.77,255.38 L201.38,255.38 L202,255.38 L202.62,255.38 L203.23,255.39 L203.85,255.39 L204.46,255.39 L205.08,255.39 L205.69,255.4 L206.31,255.4 L206.92,255.41 L207.54,255.41 L208.15,255.42 L208.77,255.43 L209.38,255.43 L210,255.44 L210.62,255.44 L211.23,255.45 L211.85,255.46 L212.46,255.46 L213.08,255.47 L213.69,255.48 L214.31,255.49 L214.92,255.5 L215.54,255.51 L216.15,255.52 L216.77,255.53 L217.38,255.54 L218,255.56 L218.62,255.57 L219.23,255.59 L219.85,255.6 L220.46,255.62 L221.08,255.64 L221.69,255.65 L222.31,255.67 L222.92,255.69 L223.54,255.71 L224.15,255.73 L224.77,255.75 L225.38,255.78 L226,255.8 L226.62,255.82 L227.23,255.85 L227.85,255.87 L228.46,255.89 L229.08,255.92 L229.69,255.94 L230.31,255.97 L230.92,255.99 L231.54,256.02 L231.54,257.7 L230.92,258.91 L230.31,260.06 L229.69,261.15 L229.08,262.17 L228.46,263.14 L227.85,264.03 L227.23,264.87 L226.62,265.64 L226,266.35 L225.38,267 L224.77,267.58 L224.15,268.11 L223.54,268.56 L222.92,268.96 L222.31,269.29 L221.69,269.56 L221.08,269.77 L220.46,269.91 L219.85,270 L219.23,270.04 L218.62,270.18 L218,270.32 L217.38,270.48 L216.77,270.64 L216.15,270.8 L215.54,270.96 L214.92,271.12 L214.31,271.28 L213.69,271.44 L213.08,271.58 L212.46,271.72 L211.85,271.85 L211.23,271.98 L210.62,272.11 L210,272.24 L209.38,272.38 L208.77,272.53 L208.15,272.68 L207.54,272.83 L206.92,272.98 L206.31,273.14 L205.69,273.29 L205.08,273.45 L204.46,273.61 L203.85,273.76 L203.23,273.92 L202.62,274.07 L202,274.22 L201.38,274.37 L200.77,274.52 L200.15,274.66 L199.54,274.8 L198.92,274.93 L198.31,275.06 L197.69,275.18 L197.08,275.3 L196.46,275.42 L195.85,275.53 L195.23,275.65 L194.62,275.76 L194,275.87 L193.38,275.98 L192.77,276.08 L192.15,276.18 L191.54,276.28 L190.92,276.38 L190.31,276.47 L189.69,276.56 L189.08,276.64 L188.46,276.73 L187.85,276.8 L187.23,276.88 L186.62,276.95 L186,277.01 L185.38,277.07 L184.77,277.14 L184.15,277.2 L183.54,277.26 L182.92,277.31 L182.31,277.37 L181.69,277.43 L181.08,277.49 L180.46,277.56 L179.85,277.62 L179.23,277.69 L178.62,277.76 L178,277.84 L177.38,277.91 L176.77,277.98 L176.15,278.05 L175.54,278.12 L174.92,278.2 L174.31,278.27 L173.69,278.35 L173.08,278.43 L172.46,278.51 L171.85,278.6 L171.23,278.69 L170.62,278.78 L170,278.87 L169.38,278.97 L168.77,279.08 L168.15,279.19 L167.54,279.32 L166.92,279.46 L166.31,279.6 L165.69,279.75 L165.08,279.89 L164.46,280.04 L163.85,280.19 L163.23,280.33 L162.62,280.46 L162,280.59 L161.38,280.71 L160.77,280.82 L160.15,280.92 L159.54,281.01 L158.92,281.11 L158.31,281.2 L157.69,281.28 L157.08,281.36 L156.46,281.42 L155.85,281.48 L155.23,281.52 L154.62,281.56 L154,281.61 L153.38,281.64 L152.77,281.67 L152.15,281.69 L151.54,281.7 L150.92,281.69 L150.31,281.69 L149.69,281.68 L149.08,281.67 L148.46,281.65 L147.85,281.64 L147.23,281.62 L146.62,281.6 L146,281.58 L145.38,281.56 L144.77,281.54 L144.15,281.51 L143.54,281.48 L142.92,281.45 L142.31,281.41 L141.69,281.37 L141.08,281.33 L140.46,281.29 L139.85,281.25 L139.23,281.21 L138.62,281.17 L138,281.13 L137.38,281.08 L136.77,281.04 L136.15,280.99 L135.54,280.94 L134.92,280.89 L134.31,280.84 L133.69,280.79 L133.08,280.73 L132.46,280.68 L131.85,280.63 L131.23,280.58 L130.62,280.53 L130,280.48 L129.38,280.43 L128.77,280.38 L128.15,280.33 L127.54,280.29 L126.92,280.24 L126.31,280.2 L125.69,280.16 L125.08,280.12 L124.46,280.08 L123.85,280.04 L123.23,280 L122.62,279.96 L122,279.92 L121.38,279.88 L120.77,279.84 L120.15,279.8 L119.54,279.77 L118.92,279.73 L118.31,279.7 L117.69,279.66 L117.08,279.63 L116.46,279.59 L115.85,279.56 L115.23,279.53 L114.62,279.5 L114,279.47 L113.38,279.43 L112.77,279.4 L112.15,279.37 L111.54,279.34 L110.92,279.31 L110.31,279.28 L109.69,279.25 L109.08,279.22 L108.46,279.19 L107.85,279.17 L107.23,279.14 L106.62,279.11 L106,279.09 L105.38,279.07 L104.77,279.04 L104.15,279.02 L103.54,279 L102.92,278.99 L102.31,278.97 L101.69,278.95 L101.08,278.94 L100.46,278.92 L99.85,278.91 L99.23,278.89 L98.62,278.88 L98,278.86 L97.38,278.85 L96.77,278.83 L96.15,278.82 L95.54,278.81 L94.92,278.8 L94.31,278.79 L93.69,278.78 L93.08,278.77 L92.46,278.76 L91.85,278.76 L91.23,278.75 L90.62,278.75 L90,278.75 L89.38,278.75 L88.77,278.75 L88.15,278.76 L87.54,278.77 L86.92,278.78 L86.31,278.79 L85.69,278.8 L85.08,278.81 L84.46,278.82 L83.85,278.84 L83.23,278.85 L82.62,278.87 L82,278.89 L81.38,278.91 L80.77,278.94 L80.15,278.97 L79.54,279 L78.92,279.03 L78.31,279.06 L77.69,279.1 L77.08,279.14 L76.46,279.18 L75.85,279.23 L75.23,279.29 L74.62,279.35 L74,279.41 L73.38,279.48 L72.77,279.55 L72.15,279.63 L71.54,279.72 L70.92,279.81 L70.31,279.91 L69.69,280.03 L69.08,280.16 L68.46,280.31 L67.85,280.49 L67.23,280.68 L66.62,280.96 L66,281.33 L65.38,281.74 L65.38,281.74" stroke="#d6393a" stroke-width="1.1" fill="none" stroke-linejoin="round" /><path d="M65.38,270.75 L66,270.57 L66.62,270.39 L67.23,270.19 L67.85,269.98 L68.46,269.76 L69.08,269.49 L69.69,269.22 L70.31,269.06 L70.92,268.97 L71.54,268.9 L72.15,268.83 L72.77,268.78 L73.38,268.74 L74,268.72 L74.62,268.74 L75.23,268.69 L75.85,268.65 L76.46,268.61 L77.08,268.57 L77.69,268.55 L78.31,268.53 L78.92,268.52 L79.54,268.51 L80.15,268.49 L80.77,268.48 L81.38,268.48 L82,268.47 L82.62,268.46 L83.23,268.45 L83.85,268.45 L84.46,268.44 L85.08,268.43 L85.69,268.42 L86.31,268.41 L86.92,268.4 L87.54,268.39 L88.15,268.38 L88.77,268.37 L89.38,268.36 L90,268.36 L90.62,268.35 L91.23,268.34 L91.85,268.33 L92.46,268.32 L93.08,268.32 L93.69,268.31 L94.31,268.3 L94.92,268.29 L95.54,268.29 L96.15,268.28 L96.77,268.27 L97.38,268.26 L98,268.26 L98.62,268.25 L99.23,268.24 L99.85,268.23 L100.46,268.22 L101.08,268.22 L101.69,268.21 L102.31,268.2 L102.92,268.19 L103.54,268.18 L104.15,268.17 L104.77,268.17 L105.38,268.16 L106,268.15 L106.62,268.14 L107.23,268.13 L107.85,268.12 L108.46,268.12 L109.08,268.11 L109.69,268.1 L110.31,268.09 L110.92,268.08 L111.54,268.07 L112.15,268.07 L112.77,268.06 L113.38,268.05 L114,268.04 L114.62,268.03 L115.23,268.02 L115.85,268.01 L116.46,268.01 L117.08,268 L117.69,267.99 L118.31,267.98 L118.92,267.97 L119.54,267.96 L120.15,267.95 L120.77,267.95 L121.38,267.94 L122,267.93 L122.62,267.92 L123.23,267.91 L123.85,267.9 L124.46,267.89 L125.08,267.88 L125.69,267.87 L126.31,267.87 L126.92,267.86 L127.54,267.85 L128.15,267.84 L128.77,267.83 L129.38,267.82 L130,267.81 L130.62,267.8 L131.23,267.79 L131.85,267.79 L132.46,267.78 L133.08,267.77 L133.69,267.76 L134.31,267.75 L134.92,267.74 L135.54,267.73 L136.15,267.72 L136.77,267.71 L137.38,267.7 L138,267.69 L138.62,267.68 L139.23,267.68 L139.85,267.67 L140.46,267.66 L141.08,267.65 L141.69,267.64 L142.31,267.63 L142.92,267.62 L143.54,267.61 L144.15,267.6 L144.77,267.59 L145.38,267.58 L146,267.57 L146.62,267.56 L147.23,267.55 L147.85,267.54 L148.46,267.53 L149.08,267.52 L149.69,267.51 L150.31,267.5 L150.92,267.49 L151.54,267.48 L152.15,267.47 L152.77,267.46 L153.38,267.45 L154,267.44 L154.62,267.43 L155.23,267.42 L155.85,267.41 L156.46,267.4 L157.08,267.38 L157.69,267.37 L158.31,267.36 L158.92,267.35 L159.54,267.34 L160.15,267.33 L160.77,267.32 L161.38,267.31 L162,267.3 L162.62,267.29 L163.23,267.27 L163.85,267.26 L164.46,267.25 L165.08,267.24 L165.69,267.23 L166.31,267.22 L166.92,267.21 L167.54,267.2 L168.15,267.19 L168.77,267.18 L169.38,267.17 L170,267.16 L170.62,267.14 L171.23,267.13 L171.85,267.12 L172.46,267.11 L173.08,267.1 L173.69,267.09 L174.31,267.08 L174.92,267.07 L175.54,267.07 L176.15,267.06 L176.77,267.05 L177.38,267.04 L178,267.03 L178.62,267.02 L179.23,267.01 L179.85,267 L180.46,266.99 L181.08,266.98 L181.69,266.97 L182.31,266.96 L182.92,266.96 L183.54,266.95 L184.15,266.94 L184.77,266.93 L185.38,266.92 L186,266.92 L186.62,266.91 L187.23,266.9 L187.85,266.9 L188.46,266.89 L189.08,266.89 L189.69,266.89 L190.31,266.88 L190.92,266.88 L191.54,266.88 L192.15,266.87 L192.77,266.87 L193.38,266.86 L194,266.86 L194.62,266.86 L195.23,266.86 L195.85,266.85 L196.46,266.85 L197.08,266.85 L197.69,266.85 L198.31,266.85 L198.92,266.84 L199.54,266.84 L200.15,266.84 L200.77,266.84 L201.38,266.84 L202,266.84 L202.62,266.84 L203.23,266.84 L203.85,266.84 L204.46,266.84 L205.08,266.84 L205.69,266.85 L206.31,266.85 L206.92,266.85 L207.54,266.85 L208.15,266.85 L208.77,266.85 L209.38,266.85 L210,266.85 L210.62,266.85 L211.23,266.85 L211.85,266.85 L212.46,266.85 L213.08,266.86 L213.69,266.86 L214.31,266.86 L214.92,266.86 L215.54,266.86 L216.15,266.86 L216.77,266.86 L217.38,266.87 L218,266.87 L218.62,266.87 L219.23,266.87 L219.85,266.87 L220.46,266.88 L221.08,266.88 L221.69,266.88 L222.31,266.88 L222.92,266.89 L223.54,266.89 L224.15,266.89 L224.77,266.9 L225.38,266.9 L226,266.9 L226.62,266.9 L227.23,266.91 L227.85,266.91 L228.46,266.91 L229.08,266.92 L229.69,266.92 L230.31,266.93 L230.92,266.93 L231.54,266.93 L231.54,267.32 L230.92,267.68 L230.31,268.01 L229.69,268.32 L229.08,268.6 L228.46,268.86 L227.85,269.1 L227.23,269.31 L226.62,269.5 L226,269.66 L225.38,269.8 L224.77,269.92 L224.15,270.01 L223.54,270.08 L222.92,270.12 L222.31,270.14 L221.69,270.14 L221.08,270.15 L220.46,270.16 L219.85,270.16 L219.23,270.17 L218.62,270.17 L218,270.18 L217.38,270.19 L216.77,270.2 L216.15,270.21 L215.54,270.21 L214.92,270.22 L214.31,270.23 L213.69,270.24 L213.08,270.24 L212.46,270.25 L211.85,270.26 L211.23,270.26 L210.62,270.27 L210,270.28 L209.38,270.29 L208.77,270.29 L208.15,270.3 L207.54,270.31 L206.92,270.31 L206.31,270.32 L205.69,270.33 L205.08,270.34 L204.46,270.35 L203.85,270.35 L203.23,270.36 L202.62,270.37 L202,270.38 L201.38,270.38 L200.77,270.39 L200.15,270.4 L199.54,270.41 L198.92,270.41 L198.31,270.42 L197.69,270.42 L197.08,270.43 L196.46,270.44 L195.85,270.44 L195.23,270.45 L194.62,270.45 L194,270.46 L193.38,270.46 L192.77,270.47 L192.15,270.48 L191.54,270.48 L190.92,270.48 L190.31,270.49 L189.69,270.49 L189.08,270.5 L188.46,270.5 L187.85,270.51 L187.23,270.51 L186.62,270.51 L186,270.52 L185.38,270.52 L184.77,270.52 L184.15,270.53 L183.54,270.53 L182.92,270.53 L182.31,270.53 L181.69,270.54 L181.08,270.54 L180.46,270.54 L179.85,270.55 L179.23,270.55 L178.62,270.55 L178,270.56 L177.38,270.56 L176.77,270.56 L176.15,270.57 L175.54,270.57 L174.92,270.58 L174.31,270.58 L173.69,270.58 L173.08,270.59 L172.46,270.59 L171.85,270.6 L171.23,270.6 L170.62,270.6 L170,270.61 L169.38,270.61 L168.77,270.62 L168.15,270.63 L167.54,270.63 L166.92,270.64 L166.31,270.65 L165.69,270.65 L165.08,270.66 L164.46,270.67 L163.85,270.68 L163.23,270.68 L162.62,270.69 L162,270.7 L161.38,270.7 L160.77,270.71 L160.15,270.71 L159.54,270.72 L158.92,270.72 L158.31,270.73 L157.69,270.73 L157.08,270.73 L156.46,270.74 L155.85,270.74 L155.23,270.74 L154.62,270.74 L154,270.75 L153.38,270.75 L152.77,270.75 L152.15,270.75 L151.54,270.75 L150.92,270.75 L150.31,270.75 L149.69,270.75 L149.08,270.75 L148.46,270.75 L147.85,270.75 L147.23,270.75 L146.62,270.75 L146,270.75 L145.38,270.74 L144.77,270.74 L144.15,270.74 L143.54,270.74 L142.92,270.74 L142.31,270.74 L141.69,270.73 L141.08,270.73 L140.46,270.73 L139.85,270.73 L139.23,270.73 L138.62,270.72 L138,270.72 L137.38,270.72 L136.77,270.72 L136.15,270.72 L135.54,270.71 L134.92,270.71 L134.31,270.71 L133.69,270.71 L133.08,270.7 L132.46,270.7 L131.85,270.7 L131.23,270.69 L130.62,270.69 L130,270.69 L129.38,270.69 L128.77,270.68 L128.15,270.68 L127.54,270.68 L126.92,270.68 L126.31,270.68 L125.69,270.67 L125.08,270.67 L124.46,270.67 L123.85,270.67 L123.23,270.67 L122.62,270.66 L122,270.66 L121.38,270.66 L120.77,270.66 L120.15,270.66 L119.54,270.65 L118.92,270.65 L118.31,270.65 L117.69,270.65 L117.08,270.65 L116.46,270.65 L115.85,270.64 L115.23,270.64 L114.62,270.64 L114,270.64 L113.38,270.64 L112.77,270.64 L112.15,270.63 L111.54,270.63 L110.92,270.63 L110.31,270.63 L109.69,270.63 L109.08,270.63 L108.46,270.63 L107.85,270.62 L107.23,270.62 L106.62,270.62 L106,270.62 L105.38,270.62 L104.77,270.62 L104.15,270.62 L103.54,270.62 L102.92,270.62 L102.31,270.61 L101.69,270.61 L101.08,270.61 L100.46,270.61 L99.85,270.61 L99.23,270.61 L98.62,270.61 L98,270.61 L97.38,270.61 L96.77,270.61 L96.15,270.61 L95.54,270.61 L94.92,270.61 L94.31,270.61 L93.69,270.6 L93.08,270.6 L92.46,270.6 L91.85,270.6 L91.23,270.6 L90.62,270.6 L90,270.6 L89.38,270.6 L88.77,270.6 L88.15,270.6 L87.54,270.6 L86.92,270.6 L86.31,270.61 L85.69,270.61 L85.08,270.61 L84.46,270.61 L83.85,270.61 L83.23,270.61 L82.62,270.61 L82,270.61 L81.38,270.61 L80.77,270.61 L80.15,270.61 L79.54,270.62 L78.92,270.62 L78.31,270.62 L77.69,270.62 L77.08,270.62 L76.46,270.63 L75.85,270.63 L75.23,270.63 L74.62,270.63 L74,270.64 L73.38,270.64 L72.77,270.64 L72.15,270.65 L71.54,270.65 L70.92,270.66 L70.31,270.66 L69.69,270.67 L69.08,270.67 L68.46,270.68 L67.85,270.69 L67.23,270.7 L66.62,270.71 L66,270.73 L65.38,270.75 L65.38,270.75" stroke="#c8873c" stroke-width="1.5" fill="none" stroke-linejoin="round" /><rect x="50.0" y="205.5" width="200.0" height="128.25" fill="none" stroke="#333" stroke-width="0.9"/><path d="M45.5 333.75H50M41 324.59H50" stroke="#333" stroke-width="0.8" /><text x="35.2" y="327.69" font-size="9" text-anchor="end" fill="#1a1a1a" stroke="#1a1a1a" stroke-width="0.18" >-3</text><path d="M45.5 315.43H50M41 306.27H50" stroke="#333" stroke-width="0.8" /><text x="35.2" y="309.37" font-size="9" text-anchor="end" fill="#1a1a1a" stroke="#1a1a1a" stroke-width="0.18" >-2</text><path d="M45.5 297.11H50M41 287.95H50" stroke="#333" stroke-width="0.8" /><text x="35.2" y="291.05" font-size="9" text-anchor="end" fill="#1a1a1a" stroke="#1a1a1a" stroke-width="0.18" >-1</text><path d="M45.5 278.79H50M41 269.62H50" stroke="#333" stroke-width="0.8" /><text x="35.2" y="272.73" font-size="9" text-anchor="end" fill="#1a1a1a" stroke="#1a1a1a" stroke-width="0.18" >0</text><path d="M45.5 260.46H50M41 251.3H50" stroke="#333" stroke-width="0.8" /><text x="35.2" y="254.4" font-size="9" text-anchor="end" fill="#1a1a1a" stroke="#1a1a1a" stroke-width="0.18" >1</text><path d="M45.5 242.14H50M41 232.98H50" stroke="#333" stroke-width="0.8" /><text x="35.2" y="236.08" font-size="9" text-anchor="end" fill="#1a1a1a" stroke="#1a1a1a" stroke-width="0.18" >2</text><path d="M45.5 223.82H50M41 214.66H50" stroke="#333" stroke-width="0.8" /><text x="35.2" y="217.76" font-size="9" text-anchor="end" fill="#1a1a1a" stroke="#1a1a1a" stroke-width="0.18" >3</text><path d="M45.5 205.5H50M50 333.75V338.25M65.38 333.75V342.75" stroke="#333" stroke-width="0.8" /><text x="65.38" y="357" font-size="9" text-anchor="middle" fill="#1a1a1a" stroke="#1a1a1a" stroke-width="0.18" >1.5</text><path d="M80.77 333.75V338.25M96.15 333.75V342.75" stroke="#333" stroke-width="0.8" /><text x="96.15" y="357" font-size="9" text-anchor="middle" fill="#1a1a1a" stroke="#1a1a1a" stroke-width="0.18" >2.0</text><path d="M111.54 333.75V338.25M126.92 333.75V342.75" stroke="#333" stroke-width="0.8" /><text x="126.92" y="357" font-size="9" text-anchor="middle" fill="#1a1a1a" stroke="#1a1a1a" stroke-width="0.18" >2.5</text><path d="M142.31 333.75V338.25M157.69 333.75V342.75" stroke="#333" stroke-width="0.8" /><text x="157.69" y="357" font-size="9" text-anchor="middle" fill="#1a1a1a" stroke="#1a1a1a" stroke-width="0.18" >3.0</text><path d="M173.08 333.75V338.25M188.46 333.75V342.75" stroke="#333" stroke-width="0.8" /><text x="188.46" y="357" font-size="9" text-anchor="middle" fill="#1a1a1a" stroke="#1a1a1a" stroke-width="0.18" >3.5</text><path d="M203.85 333.75V338.25M219.23 333.75V342.75" stroke="#333" stroke-width="0.8" /><text x="219.23" y="357" font-size="9" text-anchor="middle" fill="#1a1a1a" stroke="#1a1a1a" stroke-width="0.18" >4.0</text><path d="M234.62 333.75V338.25M250 333.75V342.75" stroke="#333" stroke-width="0.8" /><text x="250" y="357" font-size="9" text-anchor="middle" fill="#1a1a1a" stroke="#1a1a1a" stroke-width="0.18" >4.5</text><path d="M51 210.9H65.5" stroke="#8a2be2" stroke-width="1.3" /><text x="67.7" y="213.4" font-size="7" text-anchor="start" fill="#1a1a1a" stroke="#1a1a1a" stroke-width="0.18" >25 mV s<tspan font-size="4" dy="-3">-1</tspan></text><path d="M51 220.4H65.5" stroke="#101c80" stroke-width="1.3" /><text x="67.7" y="222.9" font-size="7" text-anchor="start" fill="#1a1a1a" stroke="#1a1a1a" stroke-width="0.18" >20 mV s<tspan font-size="4" dy="-3">-1</tspan></text><path d="M51 229.9H65.5" stroke="#46b83c" stroke-width="1.3" /><text x="67.7" y="232.4" font-size="7" text-anchor="start" fill="#1a1a1a" stroke="#1a1a1a" stroke-width="0.18" >15 mV s<tspan font-size="4" dy="-3">-1</tspan></text><path d="M100.5 210.9H115" stroke="#f0901e" stroke-width="1.3" /><text x="117.2" y="213.4" font-size="7" text-anchor="start" fill="#1a1a1a" stroke="#1a1a1a" stroke-width="0.18" >10 <tspan font-style="italic">mV</tspan> s<tspan font-size="4" dy="-3">-1</tspan></text><path d="M100.5 220.4H115" stroke="#d6393a" stroke-width="1.3" /><text x="117.2" y="222.9" font-size="7" text-anchor="start" fill="#1a1a1a" stroke="#1a1a1a" stroke-width="0.18" >5 <tspan font-style="italic">mV</tspan> s<tspan font-size="4" dy="-3">-1</tspan></text><path d="M100.5 229.9H115" stroke="#c8873c" stroke-width="1.3" /><text x="117.2" y="232.4" font-size="7" text-anchor="start" fill="#1a1a1a" stroke="#1a1a1a" stroke-width="0.18" >0.5 <tspan font-style="italic">mV</tspan> s<tspan font-size="4" dy="-3">-1</tspan></text><text x="150" y="378.7" font-size="11.5" text-anchor="middle" fill="#1a1a1a" stroke="#1a1a1a" stroke-width="0.18" >Voltage / V <tspan font-style="italic">vs</tspan> Li<tspan font-size="7" dy="-5">+</tspan><tspan dy="5">/Li</tspan></text><text transform="translate(18.8,270) rotate(-90)" font-size="11.5" text-anchor="middle" fill="#222">Specific Current / A g<tspan font-size="7" dy="-5">-1</tspan></text><path d="M322.31,331.19 L323.14,323.05 L323.96,315.89 L324.79,309.92 L325.62,304.57 L326.45,299.8 L327.27,295.59 L328.1,291.79 L328.93,288.34 L329.76,285.33 L330.58,282.8 L331.41,280.49 L332.24,278.65 L333.07,277.59 L333.9,276.83 L334.72,276.21 L335.55,275.7 L336.38,275.28 L337.21,274.92 L338.03,274.6 L338.86,274.31 L339.69,274.04 L340.52,273.8 L341.34,273.59 L342.17,273.38 L343,273.19 L343.83,273.02 L344.66,272.84 L345.48,272.68 L346.31,272.51 L347.14,272.34 L347.97,272.16 L348.79,271.97 L349.62,271.77 L350.45,271.56 L351.28,271.33 L352.1,271.1 L352.93,270.86 L353.76,270.63 L354.59,270.39 L355.42,270.15 L356.24,269.91 L357.07,269.67 L357.9,269.42 L358.73,269.17 L359.55,268.92 L360.38,268.67 L361.21,268.41 L362.04,268.16 L362.86,267.9 L363.69,267.63 L364.52,267.37 L365.35,267.1 L366.18,266.84 L367,266.56 L367.83,266.29 L368.66,266.02 L369.49,265.74 L370.31,265.46 L371.14,265.18 L371.97,264.9 L372.8,264.61 L373.62,264.32 L374.45,264.03 L375.28,263.73 L376.11,263.43 L376.94,263.12 L377.76,262.81 L378.59,262.5 L379.42,262.18 L380.25,261.86 L381.07,261.53 L381.9,261.21 L382.73,260.88 L383.56,260.55 L384.38,260.22 L385.21,259.89 L386.04,259.55 L386.87,259.22 L387.7,258.88 L388.52,258.54 L389.35,258.21 L390.18,257.87 L391.01,257.53 L391.83,257.19 L392.66,256.84 L393.49,256.49 L394.32,256.13 L395.14,255.78 L395.97,255.42 L396.8,255.06 L397.63,254.7 L398.46,254.33 L399.28,253.97 L400.11,253.61 L400.94,253.25 L401.77,252.89 L402.59,252.53 L403.42,252.17 L404.25,251.82 L405.08,251.47 L405.9,251.12 L406.73,250.77 L407.56,250.43 L408.39,250.09 L409.22,249.76 L410.04,249.43 L410.87,249.11 L411.7,248.78 L412.53,248.45 L413.35,248.13 L414.18,247.81 L415.01,247.48 L415.84,247.17 L416.66,246.85 L417.49,246.53 L418.32,246.22 L419.15,245.91 L419.98,245.6 L420.8,245.3 L421.63,245 L422.46,244.7 L423.29,244.41 L424.11,244.12 L424.94,243.83 L425.77,243.55 L426.6,243.27 L427.42,242.98 L428.25,242.69 L429.08,242.39 L429.91,242.09 L430.74,241.79 L431.56,241.48 L432.39,241.18 L433.22,240.89 L434.05,240.61 L434.87,240.33 L435.7,240.07 L436.53,239.83 L437.36,239.6 L438.18,239.39 L439.01,239.2 L439.84,239.04 L440.67,238.9 L441.5,238.79 L442.32,238.7 L443.15,238.6 L443.98,238.52 L444.81,238.43 L445.63,238.36 L446.46,238.29 L447.29,238.22 L448.12,238.16 L448.94,238.1 L449.77,238.04 L450.6,237.98 L451.43,237.93 L452.26,237.88 L453.08,237.82 L453.91,237.77 L454.74,237.72 L455.57,237.66 L456.39,237.61 L457.22,237.55 L458.05,237.49 L458.88,237.44 L459.7,237.4 L460.53,237.35 L461.36,237.31 L462.19,237.27 L463.02,237.23 L463.84,237.2 L464.67,237.16 L465.5,237.13 L466.33,237.09 L467.15,237.05 L467.98,237.02 L468.81,236.97 L469.64,236.93 L470.46,236.88 L471.29,236.83 L472.12,236.78 L472.95,236.72 L473.78,236.66 L474.6,236.58 L475.43,236.51 L476.26,236.42 L477.09,236.33 L477.91,236.23 L478.74,236.08 L479.57,235.88 L480.4,235.63 L481.22,235.34 L482.05,235 L482.88,234.62 L483.71,234.2 L484.54,233.73 L485.36,233.08 L486.19,232.17 L487.02,231.15 L487.02,231.15 L486.19,254.86 L485.36,264.72 L484.54,269.45 L483.71,272.67 L482.88,275.49 L482.05,278.57 L481.22,281.42 L480.4,283.89 L479.57,285.87 L478.74,287.54 L477.91,289.07 L477.09,290.48 L476.26,291.78 L475.43,292.96 L474.6,294.04 L473.78,295.03 L472.95,295.93 L472.12,296.75 L471.29,297.53 L470.46,298.28 L469.64,298.99 L468.81,299.67 L467.98,300.31 L467.15,300.92 L466.33,301.49 L465.5,302.03 L464.67,302.54 L463.84,303.01 L463.02,303.45 L462.19,303.86 L461.36,304.23 L460.53,304.57 L459.7,304.88 L458.88,305.18 L458.05,305.45 L457.22,305.71 L456.39,305.96 L455.57,306.19 L454.74,306.42 L453.91,306.64 L453.08,306.86 L452.26,307.08 L451.43,307.31 L450.6,307.54 L449.77,307.76 L448.94,307.98 L448.12,308.19 L447.29,308.39 L446.46,308.59 L445.63,308.8 L444.81,309 L443.98,309.21 L443.15,309.43 L442.32,309.66 L441.5,309.9 L440.67,310.16 L439.84,310.43 L439.01,310.71 L438.18,311.01 L437.36,311.32 L436.53,311.64 L435.7,311.96 L434.87,312.3 L434.05,312.63 L433.22,312.98 L432.39,313.32 L431.56,313.67 L430.74,314.02 L429.91,314.36 L429.08,314.71 L428.25,315.05 L427.42,315.39 L426.6,315.72 L425.77,316.06 L424.94,316.44 L424.11,316.85 L423.29,317.28 L422.46,317.72 L421.63,318.14 L420.8,318.53 L419.98,318.89 L419.15,319.19 L418.32,319.43 L417.49,319.58 L416.66,319.64 L415.84,319.63 L415.01,319.6 L414.18,319.55 L413.35,319.49 L412.53,319.41 L411.7,319.32 L410.87,319.22 L410.04,319.11 L409.22,319 L408.39,318.84 L407.56,318.61 L406.73,318.33 L405.9,318 L405.08,317.65 L404.25,317.28 L403.42,316.9 L402.59,316.54 L401.77,316.19 L400.94,315.88 L400.11,315.61 L399.28,315.33 L398.46,315.05 L397.63,314.77 L396.8,314.5 L395.97,314.23 L395.14,313.97 L394.32,313.71 L393.49,313.47 L392.66,313.25 L391.83,313.04 L391.01,312.85 L390.18,312.68 L389.35,312.54 L388.52,312.39 L387.7,312.25 L386.87,312.11 L386.04,311.97 L385.21,311.84 L384.38,311.71 L383.56,311.58 L382.73,311.46 L381.9,311.34 L381.07,311.23 L380.25,311.13 L379.42,311.03 L378.59,310.95 L377.76,310.87 L376.94,310.81 L376.11,310.75 L375.28,310.71 L374.45,310.68 L373.62,310.67 L372.8,310.67 L371.97,310.67 L371.14,310.68 L370.31,310.69 L369.49,310.71 L368.66,310.73 L367.83,310.75 L367,310.78 L366.18,310.81 L365.35,310.84 L364.52,310.88 L363.69,310.92 L362.86,310.97 L362.04,311.01 L361.21,311.06 L360.38,311.12 L359.55,311.17 L358.73,311.23 L357.9,311.3 L357.07,311.36 L356.24,311.43 L355.42,311.49 L354.59,311.57 L353.76,311.64 L352.93,311.71 L352.1,311.79 L351.28,311.87 L350.45,311.95 L349.62,312.04 L348.79,312.15 L347.97,312.28 L347.14,312.43 L346.31,312.59 L345.48,312.77 L344.66,312.97 L343.83,313.18 L343,313.41 L342.17,313.65 L341.34,313.91 L340.52,314.18 L339.69,314.46 L338.86,314.75 L338.03,315.05 L337.21,315.37 L336.38,315.69 L335.55,316.02 L334.72,316.37 L333.9,316.72 L333.07,317.12 L332.24,317.55 L331.41,318.04 L330.58,318.59 L329.76,319.2 L328.93,319.88 L328.1,320.64 L327.27,321.58 L326.45,322.88 L325.62,324.41 L324.79,325.99 L323.96,327.6 L323.14,329.34 L322.31,331.19" stroke="#4cba3c" stroke-width="1.2" fill="none" stroke-linejoin="round" /><path d="M322.31,243.98 L323.14,259.27 L323.96,274.61 L324.79,286.5 L325.62,290.39 L326.45,289.27 L327.27,287.4 L328.1,285.57 L328.93,284.3 L329.76,283.11 L330.58,281.96 L331.41,280.87 L332.24,279.89 L333.07,279.04 L333.9,278.36 L334.72,277.88 L335.55,277.49 L336.38,277.13 L337.21,276.81 L338.03,276.5 L338.86,276.23 L339.69,275.97 L340.52,275.74 L341.34,275.52 L342.17,275.31 L343,275.12 L343.83,274.93 L344.66,274.75 L345.48,274.58 L346.31,274.41 L347.14,274.23 L347.97,274.06 L348.79,273.87 L349.62,273.68 L350.45,273.48 L351.28,273.27 L352.1,273.07 L352.93,272.87 L353.76,272.67 L354.59,272.47 L355.42,272.28 L356.24,272.09 L357.07,271.9 L357.9,271.71 L358.73,271.52 L359.55,271.34 L360.38,271.15 L361.21,270.97 L362.04,270.79 L362.86,270.61 L363.69,270.43 L364.52,270.25 L365.35,270.07 L366.18,269.89 L367,269.71 L367.83,269.53 L368.66,269.35 L369.49,269.16 L370.31,268.98 L371.14,268.79 L371.97,268.61 L372.8,268.42 L373.62,268.23 L374.45,268.04 L375.28,267.85 L376.11,267.66 L376.94,267.47 L377.76,267.28 L378.59,267.1 L379.42,266.91 L380.25,266.72 L381.07,266.53 L381.9,266.34 L382.73,266.15 L383.56,265.96 L384.38,265.76 L385.21,265.57 L386.04,265.37 L386.87,265.17 L387.7,264.98 L388.52,264.77 L389.35,264.57 L390.18,264.37 L391.01,264.16 L391.83,263.96 L392.66,263.75 L393.49,263.54 L394.32,263.33 L395.14,263.12 L395.97,262.9 L396.8,262.69 L397.63,262.47 L398.46,262.25 L399.28,262.02 L400.11,261.79 L400.94,261.56 L401.77,261.33 L402.59,261.09 L403.42,260.85 L404.25,260.6 L405.08,260.35 L405.9,260.1 L406.73,259.84 L407.56,259.58 L408.39,259.32 L409.22,259.05 L410.04,258.79 L410.87,258.52 L411.7,258.25 L412.53,257.98 L413.35,257.7 L414.18,257.43 L415.01,257.16 L415.84,256.87 L416.66,256.59 L417.49,256.29 L418.32,256 L419.15,255.7 L419.98,255.4 L420.8,255.1 L421.63,254.79 L422.46,254.49 L423.29,254.19 L424.11,253.89 L424.94,253.59 L425.77,253.3 L426.6,253.01 L427.42,252.73 L428.25,252.45 L429.08,252.18 L429.91,251.91 L430.74,251.65 L431.56,251.4 L432.39,251.14 L433.22,250.88 L434.05,250.61 L434.87,250.35 L435.7,250.09 L436.53,249.83 L437.36,249.58 L438.18,249.34 L439.01,249.1 L439.84,248.88 L440.67,248.66 L441.5,248.46 L442.32,248.27 L443.15,248.1 L443.98,247.95 L444.81,247.82 L445.63,247.69 L446.46,247.57 L447.29,247.44 L448.12,247.32 L448.94,247.21 L449.77,247.09 L450.6,246.99 L451.43,246.89 L452.26,246.8 L453.08,246.72 L453.91,246.66 L454.74,246.6 L455.57,246.57 L456.39,246.55 L457.22,246.54 L458.05,246.55 L458.88,246.56 L459.7,246.59 L460.53,246.62 L461.36,246.67 L462.19,246.72 L463.02,246.77 L463.84,246.84 L464.67,246.91 L465.5,246.99 L466.33,247.07 L467.15,247.16 L467.98,247.25 L468.81,247.35 L469.64,247.46 L470.46,247.57 L471.29,247.68 L472.12,247.79 L472.95,247.92 L473.78,248.09 L474.6,248.3 L475.43,248.54 L476.26,248.81 L477.09,249.1 L477.91,249.42 L478.74,249.77 L479.57,250.13 L480.4,250.51 L481.22,250.89 L482.05,251.31 L482.88,251.78 L483.71,252.32 L484.54,252.91 L485.36,253.54 L486.19,254.2 L487.02,254.88" stroke="#000" stroke-width="1.3" fill="none" stroke-linejoin="round" /><path d="M322.31,305.53 L323.14,305.19 L323.96,304.86 L324.79,304.55 L325.62,304.26 L326.45,304 L327.27,303.76 L328.1,303.55 L328.93,303.37 L329.76,303.22 L330.58,303.1 L331.41,303.02 L332.24,302.98 L333.07,302.97 L333.9,303.01 L334.72,303.07 L335.55,303.17 L336.38,303.29 L337.21,303.44 L338.03,303.6 L338.86,303.78 L339.69,303.97 L340.52,304.17 L341.34,304.37 L342.17,304.58 L343,304.77 L343.83,304.96 L344.66,305.14 L345.48,305.31 L346.31,305.46 L347.14,305.59 L347.97,305.7 L348.79,305.82 L349.62,305.93 L350.45,306.04 L351.28,306.14 L352.1,306.24 L352.93,306.34 L353.76,306.44 L354.59,306.54 L355.42,306.63 L356.24,306.73 L357.07,306.83 L357.9,306.93 L358.73,307.03 L359.55,307.13 L360.38,307.23 L361.21,307.34 L362.04,307.45 L362.86,307.56 L363.69,307.67 L364.52,307.78 L365.35,307.89 L366.18,308 L367,308.11 L367.83,308.22 L368.66,308.33 L369.49,308.44 L370.31,308.56 L371.14,308.67 L371.97,308.78 L372.8,308.9 L373.62,309.02 L374.45,309.14 L375.28,309.26 L376.11,309.39 L376.94,309.51 L377.76,309.64 L378.59,309.78 L379.42,309.92 L380.25,310.06 L381.07,310.2 L381.9,310.35 L382.73,310.51 L383.56,310.67 L384.38,310.84 L385.21,311.02 L386.04,311.21 L386.87,311.42 L387.7,311.63 L388.52,311.85 L389.35,312.08 L390.18,312.31 L391.01,312.54 L391.83,312.78 L392.66,313.01 L393.49,313.25 L394.32,313.48 L395.14,313.7 L395.97,313.92 L396.8,314.16 L397.63,314.43 L398.46,314.71 L399.28,315 L400.11,315.28 L400.94,315.56 L401.77,315.81 L402.59,316.03 L403.42,316.21 L404.25,316.35 L405.08,316.42 L405.9,316.43 L406.73,316.33 L407.56,316.15 L408.39,315.9 L409.22,315.61 L410.04,315.31 L410.87,315.01 L411.7,314.63 L412.53,314.18 L413.35,313.69 L414.18,313.16 L415.01,312.63 L415.84,312.1 L416.66,311.61 L417.49,311.16 L418.32,310.72 L419.15,310.29 L419.98,309.85 L420.8,309.41 L421.63,308.98 L422.46,308.56 L423.29,308.13 L424.11,307.72 L424.94,307.32 L425.77,306.92 L426.6,306.54 L427.42,306.18 L428.25,305.83 L429.08,305.49 L429.91,305.17 L430.74,304.88 L431.56,304.6 L432.39,304.33 L433.22,304.08 L434.05,303.84 L434.87,303.61 L435.7,303.39 L436.53,303.17 L437.36,302.96 L438.18,302.75 L439.01,302.55 L439.84,302.34 L440.67,302.14 L441.5,301.93 L442.32,301.72 L443.15,301.5 L443.98,301.27 L444.81,301.04 L445.63,300.8 L446.46,300.57 L447.29,300.35 L448.12,300.13 L448.94,299.91 L449.77,299.7 L450.6,299.48 L451.43,299.26 L452.26,299.04 L453.08,298.81 L453.91,298.58 L454.74,298.33 L455.57,298.08 L456.39,297.81 L457.22,297.53 L458.05,297.24 L458.88,296.93 L459.7,296.6 L460.53,296.26 L461.36,295.89 L462.19,295.48 L463.02,295 L463.84,294.48 L464.67,293.9 L465.5,293.29 L466.33,292.64 L467.15,291.96 L467.98,291.26 L468.81,290.54 L469.64,289.81 L470.46,289.08 L471.29,288.33 L472.12,287.55 L472.95,286.73 L473.78,285.87 L474.6,284.94 L475.43,283.94 L476.26,282.85 L477.09,281.68 L477.91,280.4 L478.74,278.84 L479.57,276.97 L480.4,274.86 L481.22,272.59 L482.05,270.26 L482.88,267.93 L483.71,265.54 L484.54,263.03 L485.36,260.41 L486.19,257.69 L487.02,254.88" stroke="#000" stroke-width="1.3" fill="none" stroke-linejoin="round" /><rect x="307.0" y="205.5" width="199.0" height="128.25" fill="none" stroke="#333" stroke-width="0.9"/><path d="M297.7 333.75H307" stroke="#333" stroke-width="0.8" /><text x="291.1" y="336.45" font-size="9" text-anchor="end" fill="#1a1a1a" stroke="#1a1a1a" stroke-width="0.18" >-0.8</text><path d="M302.3 327.34H307M297.7 320.93H307" stroke="#333" stroke-width="0.8" /><text x="291.1" y="323.62" font-size="9" text-anchor="end" fill="#1a1a1a" stroke="#1a1a1a" stroke-width="0.18" >-0.6</text><path d="M302.3 314.51H307M297.7 308.1H307" stroke="#333" stroke-width="0.8" /><text x="291.1" y="310.8" font-size="9" text-anchor="end" fill="#1a1a1a" stroke="#1a1a1a" stroke-width="0.18" >-0.4</text><path d="M302.3 301.69H307M297.7 295.27H307" stroke="#333" stroke-width="0.8" /><text x="291.1" y="297.97" font-size="9" text-anchor="end" fill="#1a1a1a" stroke="#1a1a1a" stroke-width="0.18" >-0.2</text><path d="M302.3 288.86H307M297.7 282.45H307" stroke="#333" stroke-width="0.8" /><text x="291.1" y="285.15" font-size="9" text-anchor="end" fill="#1a1a1a" stroke="#1a1a1a" stroke-width="0.18" >0.0</text><path d="M302.3 276.04H307M297.7 269.62H307" stroke="#333" stroke-width="0.8" /><text x="291.1" y="272.32" font-size="9" text-anchor="end" fill="#1a1a1a" stroke="#1a1a1a" stroke-width="0.18" >0.2</text><path d="M302.3 263.21H307M297.7 256.8H307" stroke="#333" stroke-width="0.8" /><text x="291.1" y="259.5" font-size="9" text-anchor="end" fill="#1a1a1a" stroke="#1a1a1a" stroke-width="0.18" >0.4</text><path d="M302.3 250.39H307M297.7 243.97H307" stroke="#333" stroke-width="0.8" /><text x="291.1" y="246.67" font-size="9" text-anchor="end" fill="#1a1a1a" stroke="#1a1a1a" stroke-width="0.18" >0.6</text><path d="M302.3 237.56H307M297.7 231.15H307" stroke="#333" stroke-width="0.8" /><text x="291.1" y="233.85" font-size="9" text-anchor="end" fill="#1a1a1a" stroke="#1a1a1a" stroke-width="0.18" >0.8</text><path d="M302.3 224.74H307M297.7 218.32H307" stroke="#333" stroke-width="0.8" /><text x="291.1" y="221.02" font-size="9" text-anchor="end" fill="#1a1a1a" stroke="#1a1a1a" stroke-width="0.18" >1.0</text><path d="M302.3 211.91H307M297.7 205.5H307" stroke="#333" stroke-width="0.8" /><text x="291.1" y="208.2" font-size="9" text-anchor="end" fill="#1a1a1a" stroke="#1a1a1a" stroke-width="0.18" >1.2</text><path d="M307 333.75V338.25M322.31 333.75V342.75" stroke="#333" stroke-width="0.8" /><text x="322.31" y="357" font-size="9" text-anchor="middle" fill="#1a1a1a" stroke="#1a1a1a" stroke-width="0.18" >1.5</text><path d="M337.62 333.75V338.25M352.92 333.75V342.75" stroke="#333" stroke-width="0.8" /><text x="352.92" y="357" font-size="9" text-anchor="middle" fill="#1a1a1a" stroke="#1a1a1a" stroke-width="0.18" >2.0</text><path d="M368.23 333.75V338.25M383.54 333.75V342.75" stroke="#333" stroke-width="0.8" /><text x="383.54" y="357" font-size="9" text-anchor="middle" fill="#1a1a1a" stroke="#1a1a1a" stroke-width="0.18" >2.5</text><path d="M398.85 333.75V338.25M414.15 333.75V342.75" stroke="#333" stroke-width="0.8" /><text x="414.15" y="357" font-size="9" text-anchor="middle" fill="#1a1a1a" stroke="#1a1a1a" stroke-width="0.18" >3.0</text><path d="M429.46 333.75V338.25M444.77 333.75V342.75" stroke="#333" stroke-width="0.8" /><text x="444.77" y="357" font-size="9" text-anchor="middle" fill="#1a1a1a" stroke="#1a1a1a" stroke-width="0.18" >3.5</text><path d="M460.08 333.75V338.25M475.38 333.75V342.75" stroke="#333" stroke-width="0.8" /><text x="475.38" y="357" font-size="9" text-anchor="middle" fill="#1a1a1a" stroke="#1a1a1a" stroke-width="0.18" >4.0</text><path d="M490.69 333.75V338.25M506 333.75V342.75" stroke="#333" stroke-width="0.8" /><text x="506" y="357" font-size="9" text-anchor="middle" fill="#1a1a1a" stroke="#1a1a1a" stroke-width="0.18" >4.5</text><path d="M311.5 213.8H331" stroke="#4cba3c" stroke-width="1.4" /><path d="M311.5 223.9H331" stroke="#000" stroke-width="1.4" /><text x="334.5" y="216.8" font-size="9.1" text-anchor="start" fill="#1a1a1a" stroke="#1a1a1a" stroke-width="0.18" >cyclic voltammogram</text><text x="334.5" y="226.9" font-size="9.1" text-anchor="start" fill="#1a1a1a" stroke="#1a1a1a" stroke-width="0.18" >surface controlled</text><text x="406" y="378.7" font-size="11.5" text-anchor="middle" fill="#1a1a1a" stroke="#1a1a1a" stroke-width="0.18" >Voltage / V <tspan font-style="italic">vs</tspan> Li<tspan font-size="7" dy="-5">+</tspan><tspan dy="5">/Li</tspan></text><text transform="translate(267.5,270) rotate(-90)" font-size="11.5" text-anchor="middle" fill="#222">Specific Current / A g<tspan font-size="7" dy="-5">-1</tspan></text><path d="M260.5 477.2h0" stroke="#000" stroke-width="2.6" stroke-linecap="round"/><path d="M260.5 488.3h0" stroke="#e00" stroke-width="2.6" stroke-linecap="round"/><text x="273.2" y="480.5" font-size="9" text-anchor="start" fill="#1a1a1a" stroke="#1a1a1a" stroke-width="0.18" >Charging</text><text x="273.2" y="491.6" font-size="9" text-anchor="start" fill="#1a1a1a" stroke="#1a1a1a" stroke-width="0.18" >Discharging</text><path d="M59.02 454.07V494.77M58.22 454.07H59.82M58.22 494.77H59.82" stroke="#111" stroke-width="0.7" /><path d="M63.05 433.09V439.48M62.15 433.09H63.95M62.15 439.48H63.95M67.08 430.08V436.46M66.18 430.08H67.98M66.18 436.46H67.98M71.11 429.44V435.82M70.21 429.44H72.01M70.21 435.82H72.01M75.15 429.62V436.01M74.25 429.62H76.05M74.25 436.01H76.05M79.18 430.1V436.49M78.28 430.1H80.08M78.28 436.49H80.08M83.21 430.81V437.19M82.31 430.81H84.11M82.31 437.19H84.11M87.24 432.81V436.83M86.34 432.81H88.14M86.34 436.83H88.14M91.28 433.77V437.79M90.38 433.77H92.18M90.38 437.79H92.18M95.31 434.74V438.76M94.41 434.74H96.21M94.41 438.76H96.21M99.34 435.61V439.63M98.44 435.61H100.24M98.44 439.63H100.24M103.37 436.48V440.5M102.47 436.48H104.27M102.47 440.5H104.27M107.41 437.35V441.37M106.51 437.35H108.31M106.51 441.37H108.31M111.44 438.21V442.22M110.54 438.21H112.34M110.54 442.22H112.34M115.47 439.02V443.04M114.57 439.02H116.37M114.57 443.04H116.37M119.5 439.78V443.79M118.6 439.78H120.4M118.6 443.79H120.4M123.54 440.45V444.47M122.64 440.45H124.44M122.64 444.47H124.44M127.57 441.03V445.04M126.67 441.03H128.47M126.67 445.04H128.47M131.6 441.53V445.54M130.7 441.53H132.5M130.7 445.54H132.5M135.63 442V446.02M134.73 442H136.53M134.73 446.02H136.53M139.67 442.45V446.46M138.77 442.45H140.57M138.77 446.46H140.57M143.7 442.87V446.88M142.8 442.87H144.6M142.8 446.88H144.6M147.73 443.26V447.28M146.83 443.26H148.63M146.83 447.28H148.63M151.76 443.63V447.65M150.86 443.63H152.66M150.86 447.65H152.66M155.8 443.99V448M154.9 443.99H156.7M154.9 448H156.7M159.83 444.32V448.34M158.93 444.32H160.73M158.93 448.34H160.73M163.86 444.64V448.66M162.96 444.64H164.76M162.96 448.66H164.76M167.89 444.95V448.97M166.99 444.95H168.79M166.99 448.97H168.79M171.93 445.25V449.26M171.03 445.25H172.83M171.03 449.26H172.83M175.96 445.54V449.55M175.06 445.54H176.86M175.06 449.55H176.86M179.99 445.82V449.83M179.09 445.82H180.89M179.09 449.83H180.89M184.02 446.09V450.11M183.12 446.09H184.92M183.12 450.11H184.92M188.06 446.36V450.37M187.16 446.36H188.96M187.16 450.37H188.96M192.09 446.61V450.63M191.19 446.61H192.99M191.19 450.63H192.99M196.12 446.86V450.88M195.22 446.86H197.02M195.22 450.88H197.02M200.15 447.1V451.12M199.25 447.1H201.05M199.25 451.12H201.05M204.19 447.34V451.35M203.29 447.34H205.09M203.29 451.35H205.09M208.22 447.56V451.58M207.32 447.56H209.12M207.32 451.58H209.12M212.25 447.78V451.8M211.35 447.78H213.15M211.35 451.8H213.15M216.28 448V452.02M215.38 448H217.18M215.38 452.02H217.18M220.32 448.21V452.23M219.42 448.21H221.22M219.42 452.23H221.22M224.35 448.42V452.43M223.45 448.42H225.25M223.45 452.43H225.25M228.38 448.62V452.64M227.48 448.62H229.28M227.48 452.64H229.28M232.41 448.82V452.84M231.51 448.82H233.31M231.51 452.84H233.31M236.45 449.02V453.03M235.55 449.02H237.35M235.55 453.03H237.35M240.48 449.21V453.23M239.58 449.21H241.38M239.58 453.23H241.38M244.51 449.4V453.42M243.61 449.4H245.41M243.61 453.42H245.41M248.54 449.59V453.61M247.64 449.59H249.44M247.64 453.61H249.44M252.58 449.78V453.8M251.68 449.78H253.48M251.68 453.8H253.48M256.61 449.97V453.98M255.71 449.97H257.51M255.71 453.98H257.51M260.64 450.16V454.17M259.74 450.16H261.54M259.74 454.17H261.54M264.67 450.34V454.36M263.77 450.34H265.57M263.77 454.36H265.57M268.71 450.52V454.54M267.81 450.52H269.61M267.81 454.54H269.61M272.74 450.7V454.72M271.84 450.7H273.64M271.84 454.72H273.64M276.77 450.88V454.9M275.87 450.88H277.67M275.87 454.9H277.67M280.8 451.06V455.07M279.9 451.06H281.7M279.9 455.07H281.7M284.84 451.23V455.24M283.94 451.23H285.74M283.94 455.24H285.74M288.87 451.4V455.41M287.97 451.4H289.77M287.97 455.41H289.77M292.9 451.56V455.58M292 451.56H293.8M292 455.58H293.8M296.93 451.72V455.74M296.03 451.72H297.83M296.03 455.74H297.83M300.97 451.88V455.89M300.07 451.88H301.87M300.07 455.89H301.87M305 452.03V456.05M304.1 452.03H305.9M304.1 456.05H305.9M309.03 452.18V456.19M308.13 452.18H309.93M308.13 456.19H309.93M313.06 452.32V456.34M312.16 452.32H313.96M312.16 456.34H313.96M317.1 452.46V456.47M316.2 452.46H318M316.2 456.47H318M321.13 452.59V456.6M320.23 452.59H322.03M320.23 456.6H322.03M325.16 452.71V456.73M324.26 452.71H326.06M324.26 456.73H326.06M329.19 452.83V456.85M328.29 452.83H330.09M328.29 456.85H330.09M333.23 452.94V456.96M332.33 452.94H334.13M332.33 456.96H334.13M337.26 453.05V457.07M336.36 453.05H338.16M336.36 457.07H338.16M341.29 453.16V457.17M340.39 453.16H342.19M340.39 457.17H342.19M345.32 453.26V457.28M344.42 453.26H346.22M344.42 457.28H346.22M349.36 453.36V457.38M348.46 453.36H350.26M348.46 457.38H350.26M353.39 453.46V457.48M352.49 453.46H354.29M352.49 457.48H354.29M357.42 453.56V457.58M356.52 453.56H358.32M356.52 457.58H358.32M361.45 453.66V457.68M360.55 453.66H362.35M360.55 457.68H362.35M365.49 453.76V457.78M364.59 453.76H366.39M364.59 457.78H366.39M369.52 453.87V457.88M368.62 453.87H370.42M368.62 457.88H370.42M373.55 453.97V457.99M372.65 453.97H374.45M372.65 457.99H374.45M377.58 454.08V458.1M376.68 454.08H378.48M376.68 458.1H378.48M381.62 454.2V458.21M380.72 454.2H382.52M380.72 458.21H382.52M385.65 454.32V458.33M384.75 454.32H386.55M384.75 458.33H386.55M389.68 454.44V458.45M388.78 454.44H390.58M388.78 458.45H390.58M393.71 454.56V458.58M392.81 454.56H394.61M392.81 458.58H394.61M397.75 454.69V458.7M396.85 454.69H398.65M396.85 458.7H398.65M401.78 454.81V458.83M400.88 454.81H402.68M400.88 458.83H402.68M405.81 454.94V458.95M404.91 454.94H406.71M404.91 458.95H406.71M409.84 455.07V459.08M408.94 455.07H410.74M408.94 459.08H410.74M413.88 455.2V459.21M412.98 455.2H414.78M412.98 459.21H414.78M417.91 455.33V459.35M417.01 455.33H418.81M417.01 459.35H418.81M421.94 455.47V459.48M421.04 455.47H422.84M421.04 459.48H422.84M425.97 455.6V459.62M425.07 455.6H426.87M425.07 459.62H426.87M430.01 455.74V459.75M429.11 455.74H430.91M429.11 459.75H430.91M434.04 455.88V459.89M433.14 455.88H434.94M433.14 459.89H434.94M438.07 456.02V460.03M437.17 456.02H438.97M437.17 460.03H438.97M442.1 456.16V460.17M441.2 456.16H443M441.2 460.17H443M446.14 456.3V460.32M445.24 456.3H447.04M445.24 460.32H447.04M450.17 456.45V460.46M449.27 456.45H451.07M449.27 460.46H451.07M454.2 456.59V460.61M453.3 456.59H455.1M453.3 460.61H455.1M458.23 456.74V460.75M457.33 456.74H459.13M457.33 460.75H459.13" stroke="#333" stroke-width="0.7" /><path d="M59.02 446.14V463.47M58.12 446.14H59.92M58.12 463.47H59.92" stroke="#f77" stroke-width="1.8" /><path d="M63.05 439.02V445.41M62.15 439.02H63.95M62.15 445.41H63.95M67.08 436.19V442.58M66.18 436.19H67.98M66.18 442.58H67.98M71.11 435.55V441.94M70.21 435.55H72.01M70.21 441.94H72.01M75.15 435.37V441.76M74.25 435.37H76.05M74.25 441.76H76.05M79.18 435.69V442.08M78.28 435.69H80.08M78.28 442.08H80.08M83.21 436.28V442.67M82.31 436.28H84.11M82.31 442.67H84.11M87.24 438.06V442.08M86.34 438.06H88.14M86.34 442.08H88.14M91.28 438.74V442.75M90.38 438.74H92.18M90.38 442.75H92.18M95.31 439.42V443.44M94.41 439.42H96.21M94.41 443.44H96.21M99.34 440.06V444.08M98.44 440.06H100.24M98.44 444.08H100.24M103.37 440.7V444.72M102.47 440.7H104.27M102.47 444.72H104.27M107.41 441.34V445.36M106.51 441.34H108.31M106.51 445.36H108.31M111.44 441.98V445.99M110.54 441.98H112.34M110.54 445.99H112.34M115.47 442.59V446.61M114.57 442.59H116.37M114.57 446.61H116.37M119.5 443.18V447.19M118.6 443.18H120.4M118.6 447.19H120.4M123.54 443.72V447.74M122.64 443.72H124.44M122.64 447.74H124.44M127.57 444.22V448.24M126.67 444.22H128.47M126.67 448.24H128.47M131.6 444.68V448.69M130.7 444.68H132.5M130.7 448.69H132.5M135.63 445.12V449.14M134.73 445.12H136.53M134.73 449.14H136.53M139.67 445.55V449.57M138.77 445.55H140.57M138.77 449.57H140.57M143.7 445.97V449.98M142.8 445.97H144.6M142.8 449.98H144.6M147.73 446.37V450.38M146.83 446.37H148.63M146.83 450.38H148.63M151.76 446.75V450.76M150.86 446.75H152.66M150.86 450.76H152.66M155.8 447.12V451.13M154.9 447.12H156.7M154.9 451.13H156.7M159.83 447.47V451.49M158.93 447.47H160.73M158.93 451.49H160.73M163.86 447.81V451.82M162.96 447.81H164.76M162.96 451.82H164.76M167.89 448.13V452.15M166.99 448.13H168.79M166.99 452.15H168.79M171.93 448.44V452.45M171.03 448.44H172.83M171.03 452.45H172.83M175.96 448.73V452.75M175.06 448.73H176.86M175.06 452.75H176.86M179.99 449.01V453.03M179.09 449.01H180.89M179.09 453.03H180.89M184.02 449.28V453.29M183.12 449.28H184.92M183.12 453.29H184.92M188.06 449.54V453.55M187.16 449.54H188.96M187.16 453.55H188.96M192.09 449.79V453.8M191.19 449.79H192.99M191.19 453.8H192.99M196.12 450.03V454.05M195.22 450.03H197.02M195.22 454.05H197.02M200.15 450.26V454.28M199.25 450.26H201.05M199.25 454.28H201.05M204.19 450.49V454.51M203.29 450.49H205.09M203.29 454.51H205.09M208.22 450.71V454.73M207.32 450.71H209.12M207.32 454.73H209.12M212.25 450.93V454.94M211.35 450.93H213.15M211.35 454.94H213.15M216.28 451.14V455.15M215.38 451.14H217.18M215.38 455.15H217.18M220.32 451.34V455.36M219.42 451.34H221.22M219.42 455.36H221.22M224.35 451.54V455.56M223.45 451.54H225.25M223.45 455.56H225.25M228.38 451.74V455.75M227.48 451.74H229.28M227.48 455.75H229.28M232.41 451.93V455.95M231.51 451.93H233.31M231.51 455.95H233.31M236.45 452.13V456.14M235.55 452.13H237.35M235.55 456.14H237.35M240.48 452.32V456.33M239.58 452.32H241.38M239.58 456.33H241.38M244.51 452.51V456.52M243.61 452.51H245.41M243.61 456.52H245.41M248.54 452.69V456.71M247.64 452.69H249.44M247.64 456.71H249.44M252.58 452.88V456.9M251.68 452.88H253.48M251.68 456.9H253.48M256.61 453.07V457.09M255.71 453.07H257.51M255.71 457.09H257.51M260.64 453.26V457.27M259.74 453.26H261.54M259.74 457.27H261.54M264.67 453.44V457.46M263.77 453.44H265.57M263.77 457.46H265.57M268.71 453.63V457.64M267.81 453.63H269.61M267.81 457.64H269.61M272.74 453.81V457.82M271.84 453.81H273.64M271.84 457.82H273.64M276.77 453.98V458M275.87 453.98H277.67M275.87 458H277.67M280.8 454.16V458.17M279.9 454.16H281.7M279.9 458.17H281.7M284.84 454.33V458.35M283.94 454.33H285.74M283.94 458.35H285.74M288.87 454.5V458.52M287.97 454.5H289.77M287.97 458.52H289.77M292.9 454.67V458.69M292 454.67H293.8M292 458.69H293.8M296.93 454.84V458.85M296.03 454.84H297.83M296.03 458.85H297.83M300.97 455V459.02M300.07 455H301.87M300.07 459.02H301.87M305 455.16V459.18M304.1 455.16H305.9M304.1 459.18H305.9M309.03 455.32V459.34M308.13 455.32H309.93M308.13 459.34H309.93M313.06 455.48V459.5M312.16 455.48H313.96M312.16 459.5H313.96M317.1 455.64V459.65M316.2 455.64H318M316.2 459.65H318M321.13 455.8V459.81M320.23 455.8H322.03M320.23 459.81H322.03M325.16 455.95V459.97M324.26 455.95H326.06M324.26 459.97H326.06M329.19 456.11V460.13M328.29 456.11H330.09M328.29 460.13H330.09M333.23 456.27V460.29M332.33 456.27H334.13M332.33 460.29H334.13M337.26 456.43V460.45M336.36 456.43H338.16M336.36 460.45H338.16M341.29 456.59V460.6M340.39 456.59H342.19M340.39 460.6H342.19M345.32 456.75V460.76M344.42 456.75H346.22M344.42 460.76H346.22M349.36 456.9V460.91M348.46 456.9H350.26M348.46 460.91H350.26M353.39 457.05V461.07M352.49 457.05H354.29M352.49 461.07H354.29M357.42 457.2V461.21M356.52 457.2H358.32M356.52 461.21H358.32M361.45 457.34V461.35M360.55 457.34H362.35M360.55 461.35H362.35M365.49 457.48V461.49M364.59 457.48H366.39M364.59 461.49H366.39M369.52 457.61V461.62M368.62 457.61H370.42M368.62 461.62H370.42M373.55 457.73V461.74M372.65 457.73H374.45M372.65 461.74H374.45M377.58 457.84V461.86M376.68 457.84H378.48M376.68 461.86H378.48M381.62 457.95V461.96M380.72 457.95H382.52M380.72 461.96H382.52M385.65 458.05V462.06M384.75 458.05H386.55M384.75 462.06H386.55M389.68 458.14V462.16M388.78 458.14H390.58M388.78 462.16H390.58M393.71 458.24V462.25M392.81 458.24H394.61M392.81 462.25H394.61M397.75 458.33V462.34M396.85 458.33H398.65M396.85 462.34H398.65M401.78 458.42V462.43M400.88 458.42H402.68M400.88 462.43H402.68M405.81 458.51V462.52M404.91 458.51H406.71M404.91 462.52H406.71M409.84 458.59V462.61M408.94 458.59H410.74M408.94 462.61H410.74M413.88 458.68V462.69M412.98 458.68H414.78M412.98 462.69H414.78M417.91 458.76V462.77M417.01 458.76H418.81M417.01 462.77H418.81M421.94 458.83V462.85M421.04 458.83H422.84M421.04 462.85H422.84M425.97 458.91V462.92M425.07 458.91H426.87M425.07 462.92H426.87M430.01 458.98V462.99M429.11 458.98H430.91M429.11 462.99H430.91M434.04 459.04V463.06M433.14 459.04H434.94M433.14 463.06H434.94M438.07 459.11V463.12M437.17 459.11H438.97M437.17 463.12H438.97M442.1 459.16V463.18M441.2 459.16H443M441.2 463.18H443M446.14 459.22V463.23M445.24 459.22H447.04M445.24 463.23H447.04M450.17 459.27V463.28M449.27 459.27H451.07M449.27 463.28H451.07M454.2 459.31V463.33M453.3 459.31H455.1M453.3 463.33H455.1M458.23 459.35V463.36M457.33 459.35H459.13M457.33 463.36H459.13" stroke="#e33" stroke-width="0.7" /><path d="M59.02 454.81h0M63.05 442.21h0M67.08 439.38h0M71.11 438.75h0M75.15 438.56h0M79.18 438.89h0M83.21 439.48h0M87.24 440.07h0M91.28 440.75h0M95.31 441.43h0M99.34 442.07h0M103.37 442.71h0M107.41 443.35h0M111.44 443.98h0M115.47 444.6h0M119.5 445.19h0M123.54 445.73h0M127.57 446.23h0M131.6 446.69h0M135.63 447.13h0M139.67 447.56h0M143.7 447.97h0M147.73 448.37h0M151.76 448.76h0M155.8 449.12h0M159.83 449.48h0M163.86 449.82h0M167.89 450.14h0M171.93 450.45h0M175.96 450.74h0M179.99 451.02h0M184.02 451.29h0M188.06 451.55h0M192.09 451.8h0M196.12 452.04h0M200.15 452.27h0M204.19 452.5h0M208.22 452.72h0M212.25 452.93h0M216.28 453.14h0M220.32 453.35h0M224.35 453.55h0M228.38 453.75h0M232.41 453.94h0M236.45 454.13h0M240.48 454.32h0M244.51 454.51h0M248.54 454.7h0M252.58 454.89h0M256.61 455.08h0M260.64 455.27h0M264.67 455.45h0M268.71 455.63h0M272.74 455.81h0M276.77 455.99h0M280.8 456.17h0M284.84 456.34h0M288.87 456.51h0M292.9 456.68h0M296.93 456.84h0M300.97 457.01h0M305 457.17h0M309.03 457.33h0M313.06 457.49h0M317.1 457.65h0M321.13 457.8h0M325.16 457.96h0M329.19 458.12h0M333.23 458.28h0M337.26 458.44h0M341.29 458.6h0M345.32 458.75h0M349.36 458.91h0M353.39 459.06h0M357.42 459.2h0M361.45 459.35h0M365.49 459.48h0M369.52 459.61h0M373.55 459.74h0M377.58 459.85h0M381.62 459.96h0M385.65 460.05h0M389.68 460.15h0M393.71 460.24h0M397.75 460.34h0M401.78 460.43h0M405.81 460.51h0M409.84 460.6h0M413.88 460.68h0M417.91 460.76h0M421.94 460.84h0M425.97 460.91h0M430.01 460.98h0M434.04 461.05h0M438.07 461.11h0M442.1 461.17h0M446.14 461.22h0M450.17 461.27h0M454.2 461.32h0M458.23 461.36h0" stroke="#e00" stroke-width="2.8" stroke-linecap="round"/><path d="M59.02 474.51h0M63.05 436.28h0M67.08 433.27h0M71.11 432.63h0M75.15 432.81h0M79.18 433.3h0M83.21 434h0M87.24 434.82h0M91.28 435.78h0M95.31 436.75h0M99.34 437.62h0M103.37 438.49h0M107.41 439.36h0M111.44 440.21h0M115.47 441.03h0M119.5 441.78h0M123.54 442.46h0M127.57 443.03h0M131.6 443.54h0M135.63 444.01h0M139.67 444.45h0M143.7 444.87h0M147.73 445.27h0M151.76 445.64h0M155.8 445.99h0M159.83 446.33h0M163.86 446.65h0M167.89 446.96h0M171.93 447.26h0M175.96 447.55h0M179.99 447.83h0M184.02 448.1h0M188.06 448.36h0M192.09 448.62h0M196.12 448.87h0M200.15 449.11h0M204.19 449.34h0M208.22 449.57h0M212.25 449.79h0M216.28 450.01h0M220.32 450.22h0M224.35 450.43h0M228.38 450.63h0M232.41 450.83h0M236.45 451.03h0M240.48 451.22h0M244.51 451.41h0M248.54 451.6h0M252.58 451.79h0M256.61 451.98h0M260.64 452.16h0M264.67 452.35h0M268.71 452.53h0M272.74 452.71h0M276.77 452.89h0M280.8 453.06h0M284.84 453.24h0M288.87 453.41h0M292.9 453.57h0M296.93 453.73h0M300.97 453.89h0M305 454.04h0M309.03 454.19h0M313.06 454.33h0M317.1 454.47h0M321.13 454.6h0M325.16 454.72h0M329.19 454.84h0M333.23 454.95h0M337.26 455.06h0M341.29 455.17h0M345.32 455.27h0M349.36 455.37h0M353.39 455.47h0M357.42 455.57h0M361.45 455.67h0M365.49 455.77h0M369.52 455.88h0M373.55 455.98h0M377.58 456.09h0M381.62 456.21h0M385.65 456.33h0M389.68 456.45h0M393.71 456.57h0M397.75 456.69h0M401.78 456.82h0M405.81 456.95h0M409.84 457.08h0M413.88 457.21h0M417.91 457.34h0M421.94 457.47h0M425.97 457.61h0M430.01 457.75h0M434.04 457.88h0M438.07 458.02h0M442.1 458.17h0M446.14 458.31h0M450.17 458.45h0M454.2 458.6h0M458.23 458.75h0" stroke="#000" stroke-width="2.8" stroke-linecap="round"/><path d="M63.05 403.63V410.02M62.15 403.63H63.95M62.15 410.02H63.95" stroke="#8a40e8" stroke-width="0.8" /><path d="M63.05 406.83h0M67.08 405.68h0M71.11 405.17h0M75.15 404.62h0M79.18 404.22h0M83.21 403.91h0M87.24 403.64h0M91.28 403.4h0M95.31 403.21h0M99.34 403.04h0M103.37 402.88h0M107.41 402.74h0M111.44 402.6h0M115.47 402.48h0M119.5 402.36h0M123.54 402.27h0M127.57 402.19h0M131.6 402.12h0M135.63 402.08h0M139.67 402.04h0M143.7 402h0M147.73 401.96h0M151.76 401.92h0M155.8 401.89h0M159.83 401.86h0M163.86 401.83h0M167.89 401.8h0M171.93 401.77h0M175.96 401.75h0M179.99 401.73h0M184.02 401.71h0M188.06 401.69h0M192.09 401.67h0M196.12 401.65h0M200.15 401.64h0M204.19 401.62h0M208.22 401.61h0M212.25 401.6h0M216.28 401.59h0M220.32 401.58h0M224.35 401.58h0M228.38 401.57h0M232.41 401.56h0M236.45 401.55h0M240.48 401.54h0M244.51 401.54h0M248.54 401.53h0M252.58 401.52h0M256.61 401.52h0M260.64 401.51h0M264.67 401.5h0M268.71 401.5h0M272.74 401.49h0M276.77 401.48h0M280.8 401.48h0M284.84 401.47h0M288.87 401.46h0M292.9 401.46h0M296.93 401.45h0M300.97 401.45h0M305 401.44h0M309.03 401.44h0M313.06 401.43h0M317.1 401.42h0M321.13 401.42h0M325.16 401.42h0M329.19 401.41h0M333.23 401.41h0M337.26 401.4h0M341.29 401.4h0M345.32 401.39h0M349.36 401.39h0M353.39 401.38h0M357.42 401.38h0M361.45 401.38h0M365.49 401.37h0M369.52 401.37h0M373.55 401.37h0M377.58 401.36h0M381.62 401.36h0M385.65 401.36h0M389.68 401.36h0M393.71 401.35h0M397.75 401.35h0M401.78 401.35h0M405.81 401.35h0M409.84 401.34h0M413.88 401.34h0M417.91 401.34h0M421.94 401.34h0M425.97 401.34h0M430.01 401.34h0M434.04 401.34h0M438.07 401.33h0M442.1 401.33h0M446.14 401.33h0M450.17 401.33h0M454.2 401.33h0M458.23 401.33h0" stroke="#8a2be2" stroke-width="2.6" stroke-linecap="round"/><path d="M57 397.5H460.25M57 397.5V525.25M57 525.25H460.25" stroke="#333" stroke-width="0.9" /><path d="M460.25 397.5V525.25" stroke="#8a2be2" stroke-width="1.0" /><path d="M48 525.25H57" stroke="#333" stroke-width="0.8" /><text x="42.3" y="528.65" font-size="9.8" text-anchor="end" fill="#1a1a1a" stroke="#1a1a1a" stroke-width="0.18" >0</text><path d="M52.5 520.69H57M48 516.12H57" stroke="#333" stroke-width="0.8" /><text x="42.3" y="519.52" font-size="9.8" text-anchor="end" fill="#1a1a1a" stroke="#1a1a1a" stroke-width="0.18" >10</text><path d="M52.5 511.56H57M48 507H57" stroke="#333" stroke-width="0.8" /><text x="42.3" y="510.4" font-size="9.8" text-anchor="end" fill="#1a1a1a" stroke="#1a1a1a" stroke-width="0.18" >20</text><path d="M52.5 502.44H57M48 497.88H57" stroke="#333" stroke-width="0.8" /><text x="42.3" y="501.27" font-size="9.8" text-anchor="end" fill="#1a1a1a" stroke="#1a1a1a" stroke-width="0.18" >30</text><path d="M52.5 493.31H57M48 488.75H57" stroke="#333" stroke-width="0.8" /><text x="42.3" y="492.15" font-size="9.8" text-anchor="end" fill="#1a1a1a" stroke="#1a1a1a" stroke-width="0.18" >40</text><path d="M52.5 484.19H57M48 479.62H57" stroke="#333" stroke-width="0.8" /><text x="42.3" y="483.02" font-size="9.8" text-anchor="end" fill="#1a1a1a" stroke="#1a1a1a" stroke-width="0.18" >50</text><path d="M52.5 475.06H57M48 470.5H57" stroke="#333" stroke-width="0.8" /><text x="42.3" y="473.9" font-size="9.8" text-anchor="end" fill="#1a1a1a" stroke="#1a1a1a" stroke-width="0.18" >60</text><path d="M52.5 465.94H57M48 461.38H57" stroke="#333" stroke-width="0.8" /><text x="42.3" y="464.77" font-size="9.8" text-anchor="end" fill="#1a1a1a" stroke="#1a1a1a" stroke-width="0.18" >70</text><path d="M52.5 456.81H57M48 452.25H57" stroke="#333" stroke-width="0.8" /><text x="42.3" y="455.65" font-size="9.8" text-anchor="end" fill="#1a1a1a" stroke="#1a1a1a" stroke-width="0.18" >80</text><path d="M52.5 447.69H57M48 443.12H57" stroke="#333" stroke-width="0.8" /><text x="42.3" y="446.52" font-size="9.8" text-anchor="end" fill="#1a1a1a" stroke="#1a1a1a" stroke-width="0.18" >90</text><path d="M52.5 438.56H57M48 434H57" stroke="#333" stroke-width="0.8" /><text x="42.3" y="437.4" font-size="9.8" text-anchor="end" fill="#1a1a1a" stroke="#1a1a1a" stroke-width="0.18" >100</text><path d="M52.5 429.44H57M48 424.88H57" stroke="#333" stroke-width="0.8" /><text x="42.3" y="428.27" font-size="9.8" text-anchor="end" fill="#1a1a1a" stroke="#1a1a1a" stroke-width="0.18" >110</text><path d="M52.5 420.31H57M48 415.75H57" stroke="#333" stroke-width="0.8" /><text x="42.3" y="419.15" font-size="9.8" text-anchor="end" fill="#1a1a1a" stroke="#1a1a1a" stroke-width="0.18" >120</text><path d="M52.5 411.19H57M48 406.62H57" stroke="#333" stroke-width="0.8" /><text x="42.3" y="410.02" font-size="9.8" text-anchor="end" fill="#1a1a1a" stroke="#1a1a1a" stroke-width="0.18" >130</text><path d="M52.5 402.06H57M48 397.5H57" stroke="#333" stroke-width="0.8" /><text x="42.3" y="400.9" font-size="9.8" text-anchor="end" fill="#1a1a1a" stroke="#1a1a1a" stroke-width="0.18" >140</text><path d="M57 525.25V534.25" stroke="#333" stroke-width="0.8" /><text x="57" y="549.4" font-size="9.8" text-anchor="middle" fill="#1a1a1a" stroke="#1a1a1a" stroke-width="0.18" >0</text><path d="M77.16 525.25V529.75M97.33 525.25V534.25" stroke="#333" stroke-width="0.8" /><text x="97.33" y="549.4" font-size="9.8" text-anchor="middle" fill="#1a1a1a" stroke="#1a1a1a" stroke-width="0.18" >20</text><path d="M117.49 525.25V529.75M137.65 525.25V534.25" stroke="#333" stroke-width="0.8" /><text x="137.65" y="549.4" font-size="9.8" text-anchor="middle" fill="#1a1a1a" stroke="#1a1a1a" stroke-width="0.18" >40</text><path d="M157.81 525.25V529.75M177.97 525.25V534.25" stroke="#333" stroke-width="0.8" /><text x="177.97" y="549.4" font-size="9.8" text-anchor="middle" fill="#1a1a1a" stroke="#1a1a1a" stroke-width="0.18" >60</text><path d="M198.14 525.25V529.75M218.3 525.25V534.25" stroke="#333" stroke-width="0.8" /><text x="218.3" y="549.4" font-size="9.8" text-anchor="middle" fill="#1a1a1a" stroke="#1a1a1a" stroke-width="0.18" >80</text><path d="M238.46 525.25V529.75M258.62 525.25V534.25" stroke="#333" stroke-width="0.8" /><text x="258.62" y="549.4" font-size="9.8" text-anchor="middle" fill="#1a1a1a" stroke="#1a1a1a" stroke-width="0.18" >100</text><path d="M278.79 525.25V529.75M298.95 525.25V534.25" stroke="#333" stroke-width="0.8" /><text x="298.95" y="549.4" font-size="9.8" text-anchor="middle" fill="#1a1a1a" stroke="#1a1a1a" stroke-width="0.18" >120</text><path d="M319.11 525.25V529.75M339.27 525.25V534.25" stroke="#333" stroke-width="0.8" /><text x="339.27" y="549.4" font-size="9.8" text-anchor="middle" fill="#1a1a1a" stroke="#1a1a1a" stroke-width="0.18" >140</text><path d="M359.44 525.25V529.75M379.6 525.25V534.25" stroke="#333" stroke-width="0.8" /><text x="379.6" y="549.4" font-size="9.8" text-anchor="middle" fill="#1a1a1a" stroke="#1a1a1a" stroke-width="0.18" >160</text><path d="M399.76 525.25V529.75M419.93 525.25V534.25" stroke="#333" stroke-width="0.8" /><text x="419.93" y="549.4" font-size="9.8" text-anchor="middle" fill="#1a1a1a" stroke="#1a1a1a" stroke-width="0.18" >180</text><path d="M440.09 525.25V529.75M460.25 525.25V534.25" stroke="#333" stroke-width="0.8" /><text x="460.25" y="549.4" font-size="9.8" text-anchor="middle" fill="#1a1a1a" stroke="#1a1a1a" stroke-width="0.18" >200</text><path d="M460.25 525.25H469.25" stroke="#8a2be2" stroke-width="0.8" /><text x="476.3" y="528.65" font-size="9.8" text-anchor="start" fill="#8a2be2" stroke="#8a2be2" stroke-width="0.18" >0</text><path d="M460.25 522.7H464.75M460.25 520.14H464.75M460.25 517.59H464.75M460.25 515.03H464.75M460.25 512.48H469.25" stroke="#8a2be2" stroke-width="0.8" /><text x="476.3" y="515.88" font-size="9.8" text-anchor="start" fill="#8a2be2" stroke="#8a2be2" stroke-width="0.18" >10</text><path d="M460.25 509.92H464.75M460.25 507.37H464.75M460.25 504.81H464.75M460.25 502.25H464.75M460.25 499.7H469.25" stroke="#8a2be2" stroke-width="0.8" /><text x="476.3" y="503.1" font-size="9.8" text-anchor="start" fill="#8a2be2" stroke="#8a2be2" stroke-width="0.18" >20</text><path d="M460.25 497.14H464.75M460.25 494.59H464.75M460.25 492.03H464.75M460.25 489.48H464.75M460.25 486.93H469.25" stroke="#8a2be2" stroke-width="0.8" /><text x="476.3" y="490.32" font-size="9.8" text-anchor="start" fill="#8a2be2" stroke="#8a2be2" stroke-width="0.18" >30</text><path d="M460.25 484.37H464.75M460.25 481.81H464.75M460.25 479.26H464.75M460.25 476.7H464.75M460.25 474.15H469.25" stroke="#8a2be2" stroke-width="0.8" /><text x="476.3" y="477.55" font-size="9.8" text-anchor="start" fill="#8a2be2" stroke="#8a2be2" stroke-width="0.18" >40</text><path d="M460.25 471.6H464.75M460.25 469.04H464.75M460.25 466.49H464.75M460.25 463.93H464.75M460.25 461.38H469.25" stroke="#8a2be2" stroke-width="0.8" /><text x="476.3" y="464.77" font-size="9.8" text-anchor="start" fill="#8a2be2" stroke="#8a2be2" stroke-width="0.18" >50</text><path d="M460.25 458.82H464.75M460.25 456.26H464.75M460.25 453.71H464.75M460.25 451.15H464.75M460.25 448.6H469.25" stroke="#8a2be2" stroke-width="0.8" /><text x="476.3" y="452" font-size="9.8" text-anchor="start" fill="#8a2be2" stroke="#8a2be2" stroke-width="0.18" >60</text><path d="M460.25 446.05H464.75M460.25 443.49H464.75M460.25 440.94H464.75M460.25 438.38H464.75M460.25 435.82H469.25" stroke="#8a2be2" stroke-width="0.8" /><text x="476.3" y="439.22" font-size="9.8" text-anchor="start" fill="#8a2be2" stroke="#8a2be2" stroke-width="0.18" >70</text><path d="M460.25 433.27H464.75M460.25 430.72H464.75M460.25 428.16H464.75M460.25 425.61H464.75M460.25 423.05H469.25" stroke="#8a2be2" stroke-width="0.8" /><text x="476.3" y="426.45" font-size="9.8" text-anchor="start" fill="#8a2be2" stroke="#8a2be2" stroke-width="0.18" >80</text><path d="M460.25 420.5H464.75M460.25 417.94H464.75M460.25 415.38H464.75M460.25 412.83H464.75M460.25 410.27H469.25" stroke="#8a2be2" stroke-width="0.8" /><text x="476.3" y="413.67" font-size="9.8" text-anchor="start" fill="#8a2be2" stroke="#8a2be2" stroke-width="0.18" >90</text><path d="M460.25 407.72H464.75M460.25 405.17H464.75M460.25 402.61H464.75M460.25 400.06H464.75M460.25 397.5H469.25" stroke="#8a2be2" stroke-width="0.8" /><text x="476.3" y="400.9" font-size="9.8" text-anchor="start" fill="#8a2be2" stroke="#8a2be2" stroke-width="0.18" >100</text><text x="259" y="568.5" font-size="11.5" text-anchor="middle" fill="#1a1a1a" stroke="#1a1a1a" stroke-width="0.18" >Cycle Number</text><text transform="translate(17.7,461.5) rotate(-90)" font-size="11.3" text-anchor="middle" fill="#222">Capacity / mAh g<tspan font-size="7" dy="-5">-1</tspan></text><text transform="translate(506.3,461.3) rotate(-90)" font-size="11.4" text-anchor="middle" fill="#8a2be2">Coulombic Efficiency / %</text></svg></body></html>
